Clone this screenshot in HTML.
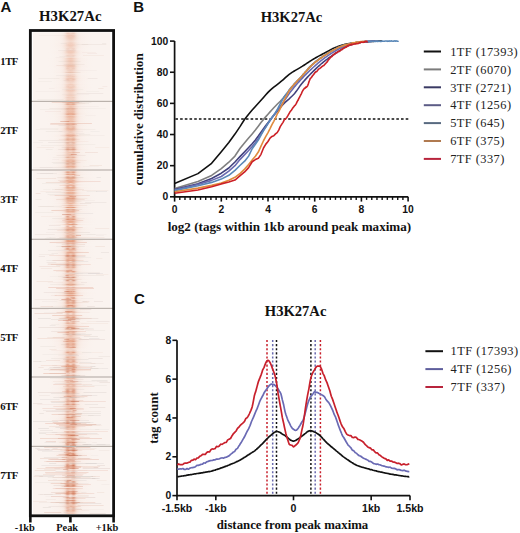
<!DOCTYPE html>
<html><head><meta charset="utf-8"><style>
html,body{margin:0;padding:0;background:#fff;}
body{width:520px;height:533px;position:relative;overflow:hidden;font-family:"Liberation Sans",sans-serif;}
</style></head><body>
<svg width="520" height="533" viewBox="0 0 520 533" style="position:absolute;left:0;top:0"><text x="0.5" y="11.6" font-family='"Liberation Sans", sans-serif' font-size="15" font-weight="bold" text-anchor="start" fill="#111" >A</text><text x="39" y="21.2" font-family='"Liberation Serif", serif' font-size="14.8" font-weight="bold" text-anchor="start" fill="#111" >H3K27Ac</text><defs><linearGradient id="soft" x1="0" x2="1" y1="0" y2="0"><stop offset="0.000" stop-color="#d96430" stop-opacity="0.000"/><stop offset="0.010" stop-color="#d96430" stop-opacity="0.000"/><stop offset="0.020" stop-color="#d96430" stop-opacity="0.000"/><stop offset="0.030" stop-color="#d96430" stop-opacity="0.000"/><stop offset="0.040" stop-color="#d96430" stop-opacity="0.000"/><stop offset="0.050" stop-color="#d96430" stop-opacity="0.000"/><stop offset="0.060" stop-color="#d96430" stop-opacity="0.000"/><stop offset="0.070" stop-color="#d96430" stop-opacity="0.000"/><stop offset="0.080" stop-color="#d96430" stop-opacity="0.001"/><stop offset="0.090" stop-color="#d96430" stop-opacity="0.001"/><stop offset="0.100" stop-color="#d96430" stop-opacity="0.001"/><stop offset="0.110" stop-color="#d96430" stop-opacity="0.001"/><stop offset="0.120" stop-color="#d96430" stop-opacity="0.002"/><stop offset="0.130" stop-color="#d96430" stop-opacity="0.002"/><stop offset="0.140" stop-color="#d96430" stop-opacity="0.003"/><stop offset="0.150" stop-color="#d96430" stop-opacity="0.004"/><stop offset="0.160" stop-color="#d96430" stop-opacity="0.004"/><stop offset="0.170" stop-color="#d96430" stop-opacity="0.005"/><stop offset="0.180" stop-color="#d96430" stop-opacity="0.007"/><stop offset="0.190" stop-color="#d96430" stop-opacity="0.008"/><stop offset="0.200" stop-color="#d96430" stop-opacity="0.010"/><stop offset="0.210" stop-color="#d96430" stop-opacity="0.012"/><stop offset="0.220" stop-color="#d96430" stop-opacity="0.014"/><stop offset="0.230" stop-color="#d96430" stop-opacity="0.017"/><stop offset="0.240" stop-color="#d96430" stop-opacity="0.020"/><stop offset="0.250" stop-color="#d96430" stop-opacity="0.024"/><stop offset="0.260" stop-color="#d96430" stop-opacity="0.028"/><stop offset="0.270" stop-color="#d96430" stop-opacity="0.032"/><stop offset="0.280" stop-color="#d96430" stop-opacity="0.037"/><stop offset="0.290" stop-color="#d96430" stop-opacity="0.042"/><stop offset="0.300" stop-color="#d96430" stop-opacity="0.049"/><stop offset="0.310" stop-color="#d96430" stop-opacity="0.056"/><stop offset="0.320" stop-color="#d96430" stop-opacity="0.064"/><stop offset="0.330" stop-color="#d96430" stop-opacity="0.074"/><stop offset="0.340" stop-color="#d96430" stop-opacity="0.087"/><stop offset="0.350" stop-color="#d96430" stop-opacity="0.104"/><stop offset="0.360" stop-color="#d96430" stop-opacity="0.126"/><stop offset="0.370" stop-color="#d96430" stop-opacity="0.157"/><stop offset="0.380" stop-color="#d96430" stop-opacity="0.197"/><stop offset="0.390" stop-color="#d96430" stop-opacity="0.250"/><stop offset="0.400" stop-color="#d96430" stop-opacity="0.317"/><stop offset="0.410" stop-color="#d96430" stop-opacity="0.398"/><stop offset="0.420" stop-color="#d96430" stop-opacity="0.492"/><stop offset="0.430" stop-color="#d96430" stop-opacity="0.596"/><stop offset="0.440" stop-color="#d96430" stop-opacity="0.702"/><stop offset="0.450" stop-color="#d96430" stop-opacity="0.804"/><stop offset="0.460" stop-color="#d96430" stop-opacity="0.892"/><stop offset="0.470" stop-color="#d96430" stop-opacity="0.958"/><stop offset="0.480" stop-color="#d96430" stop-opacity="0.994"/><stop offset="0.490" stop-color="#d96430" stop-opacity="0.997"/><stop offset="0.500" stop-color="#d96430" stop-opacity="0.966"/><stop offset="0.510" stop-color="#d96430" stop-opacity="0.904"/><stop offset="0.520" stop-color="#d96430" stop-opacity="0.819"/><stop offset="0.530" stop-color="#d96430" stop-opacity="0.719"/><stop offset="0.540" stop-color="#d96430" stop-opacity="0.613"/><stop offset="0.550" stop-color="#d96430" stop-opacity="0.508"/><stop offset="0.560" stop-color="#d96430" stop-opacity="0.412"/><stop offset="0.570" stop-color="#d96430" stop-opacity="0.329"/><stop offset="0.580" stop-color="#d96430" stop-opacity="0.260"/><stop offset="0.590" stop-color="#d96430" stop-opacity="0.205"/><stop offset="0.600" stop-color="#d96430" stop-opacity="0.162"/><stop offset="0.610" stop-color="#d96430" stop-opacity="0.131"/><stop offset="0.620" stop-color="#d96430" stop-opacity="0.107"/><stop offset="0.630" stop-color="#d96430" stop-opacity="0.089"/><stop offset="0.640" stop-color="#d96430" stop-opacity="0.076"/><stop offset="0.650" stop-color="#d96430" stop-opacity="0.065"/><stop offset="0.660" stop-color="#d96430" stop-opacity="0.057"/><stop offset="0.670" stop-color="#d96430" stop-opacity="0.050"/><stop offset="0.680" stop-color="#d96430" stop-opacity="0.043"/><stop offset="0.690" stop-color="#d96430" stop-opacity="0.038"/><stop offset="0.700" stop-color="#d96430" stop-opacity="0.033"/><stop offset="0.710" stop-color="#d96430" stop-opacity="0.028"/><stop offset="0.720" stop-color="#d96430" stop-opacity="0.024"/><stop offset="0.730" stop-color="#d96430" stop-opacity="0.021"/><stop offset="0.740" stop-color="#d96430" stop-opacity="0.018"/><stop offset="0.750" stop-color="#d96430" stop-opacity="0.015"/><stop offset="0.760" stop-color="#d96430" stop-opacity="0.012"/><stop offset="0.770" stop-color="#d96430" stop-opacity="0.010"/><stop offset="0.780" stop-color="#d96430" stop-opacity="0.008"/><stop offset="0.790" stop-color="#d96430" stop-opacity="0.007"/><stop offset="0.800" stop-color="#d96430" stop-opacity="0.006"/><stop offset="0.810" stop-color="#d96430" stop-opacity="0.005"/><stop offset="0.820" stop-color="#d96430" stop-opacity="0.004"/><stop offset="0.830" stop-color="#d96430" stop-opacity="0.003"/><stop offset="0.840" stop-color="#d96430" stop-opacity="0.002"/><stop offset="0.850" stop-color="#d96430" stop-opacity="0.002"/><stop offset="0.860" stop-color="#d96430" stop-opacity="0.001"/><stop offset="0.870" stop-color="#d96430" stop-opacity="0.001"/><stop offset="0.880" stop-color="#d96430" stop-opacity="0.001"/><stop offset="0.890" stop-color="#d96430" stop-opacity="0.001"/><stop offset="0.900" stop-color="#d96430" stop-opacity="0.001"/><stop offset="0.910" stop-color="#d96430" stop-opacity="0.000"/><stop offset="0.920" stop-color="#d96430" stop-opacity="0.000"/><stop offset="0.930" stop-color="#d96430" stop-opacity="0.000"/><stop offset="0.940" stop-color="#d96430" stop-opacity="0.000"/><stop offset="0.950" stop-color="#d96430" stop-opacity="0.000"/><stop offset="0.960" stop-color="#d96430" stop-opacity="0.000"/><stop offset="0.970" stop-color="#d96430" stop-opacity="0.000"/><stop offset="0.980" stop-color="#d96430" stop-opacity="0.000"/><stop offset="0.990" stop-color="#d96430" stop-opacity="0.000"/><stop offset="1.000" stop-color="#d96430" stop-opacity="0.000"/></linearGradient><linearGradient id="bi" x1="0" x2="1" y1="0" y2="0"><stop offset="0.000" stop-color="#c4552e" stop-opacity="0.000"/><stop offset="0.010" stop-color="#c4552e" stop-opacity="0.000"/><stop offset="0.020" stop-color="#c4552e" stop-opacity="0.000"/><stop offset="0.030" stop-color="#c4552e" stop-opacity="0.000"/><stop offset="0.040" stop-color="#c4552e" stop-opacity="0.000"/><stop offset="0.050" stop-color="#c4552e" stop-opacity="0.000"/><stop offset="0.060" stop-color="#c4552e" stop-opacity="0.000"/><stop offset="0.070" stop-color="#c4552e" stop-opacity="0.000"/><stop offset="0.080" stop-color="#c4552e" stop-opacity="0.000"/><stop offset="0.090" stop-color="#c4552e" stop-opacity="0.000"/><stop offset="0.100" stop-color="#c4552e" stop-opacity="0.000"/><stop offset="0.110" stop-color="#c4552e" stop-opacity="0.000"/><stop offset="0.120" stop-color="#c4552e" stop-opacity="0.000"/><stop offset="0.130" stop-color="#c4552e" stop-opacity="0.000"/><stop offset="0.140" stop-color="#c4552e" stop-opacity="0.000"/><stop offset="0.150" stop-color="#c4552e" stop-opacity="0.000"/><stop offset="0.160" stop-color="#c4552e" stop-opacity="0.000"/><stop offset="0.170" stop-color="#c4552e" stop-opacity="0.000"/><stop offset="0.180" stop-color="#c4552e" stop-opacity="0.000"/><stop offset="0.190" stop-color="#c4552e" stop-opacity="0.000"/><stop offset="0.200" stop-color="#c4552e" stop-opacity="0.000"/><stop offset="0.210" stop-color="#c4552e" stop-opacity="0.000"/><stop offset="0.220" stop-color="#c4552e" stop-opacity="0.000"/><stop offset="0.230" stop-color="#c4552e" stop-opacity="0.000"/><stop offset="0.240" stop-color="#c4552e" stop-opacity="0.000"/><stop offset="0.250" stop-color="#c4552e" stop-opacity="0.000"/><stop offset="0.260" stop-color="#c4552e" stop-opacity="0.000"/><stop offset="0.270" stop-color="#c4552e" stop-opacity="0.000"/><stop offset="0.280" stop-color="#c4552e" stop-opacity="0.000"/><stop offset="0.290" stop-color="#c4552e" stop-opacity="0.000"/><stop offset="0.300" stop-color="#c4552e" stop-opacity="0.000"/><stop offset="0.310" stop-color="#c4552e" stop-opacity="0.000"/><stop offset="0.320" stop-color="#c4552e" stop-opacity="0.000"/><stop offset="0.330" stop-color="#c4552e" stop-opacity="0.000"/><stop offset="0.340" stop-color="#c4552e" stop-opacity="0.000"/><stop offset="0.350" stop-color="#c4552e" stop-opacity="0.000"/><stop offset="0.360" stop-color="#c4552e" stop-opacity="0.000"/><stop offset="0.370" stop-color="#c4552e" stop-opacity="0.000"/><stop offset="0.380" stop-color="#c4552e" stop-opacity="0.001"/><stop offset="0.390" stop-color="#c4552e" stop-opacity="0.007"/><stop offset="0.400" stop-color="#c4552e" stop-opacity="0.034"/><stop offset="0.410" stop-color="#c4552e" stop-opacity="0.123"/><stop offset="0.420" stop-color="#c4552e" stop-opacity="0.327"/><stop offset="0.430" stop-color="#c4552e" stop-opacity="0.642"/><stop offset="0.440" stop-color="#c4552e" stop-opacity="0.927"/><stop offset="0.450" stop-color="#c4552e" stop-opacity="0.987"/><stop offset="0.460" stop-color="#c4552e" stop-opacity="0.773"/><stop offset="0.470" stop-color="#c4552e" stop-opacity="0.446"/><stop offset="0.480" stop-color="#c4552e" stop-opacity="0.190"/><stop offset="0.490" stop-color="#c4552e" stop-opacity="0.161"/><stop offset="0.500" stop-color="#c4552e" stop-opacity="0.398"/><stop offset="0.510" stop-color="#c4552e" stop-opacity="0.724"/><stop offset="0.520" stop-color="#c4552e" stop-opacity="0.969"/><stop offset="0.530" stop-color="#c4552e" stop-opacity="0.956"/><stop offset="0.540" stop-color="#c4552e" stop-opacity="0.694"/><stop offset="0.550" stop-color="#c4552e" stop-opacity="0.372"/><stop offset="0.560" stop-color="#c4552e" stop-opacity="0.146"/><stop offset="0.570" stop-color="#c4552e" stop-opacity="0.043"/><stop offset="0.580" stop-color="#c4552e" stop-opacity="0.009"/><stop offset="0.590" stop-color="#c4552e" stop-opacity="0.001"/><stop offset="0.600" stop-color="#c4552e" stop-opacity="0.000"/><stop offset="0.610" stop-color="#c4552e" stop-opacity="0.000"/><stop offset="0.620" stop-color="#c4552e" stop-opacity="0.000"/><stop offset="0.630" stop-color="#c4552e" stop-opacity="0.000"/><stop offset="0.640" stop-color="#c4552e" stop-opacity="0.000"/><stop offset="0.650" stop-color="#c4552e" stop-opacity="0.000"/><stop offset="0.660" stop-color="#c4552e" stop-opacity="0.000"/><stop offset="0.670" stop-color="#c4552e" stop-opacity="0.000"/><stop offset="0.680" stop-color="#c4552e" stop-opacity="0.000"/><stop offset="0.690" stop-color="#c4552e" stop-opacity="0.000"/><stop offset="0.700" stop-color="#c4552e" stop-opacity="0.000"/><stop offset="0.710" stop-color="#c4552e" stop-opacity="0.000"/><stop offset="0.720" stop-color="#c4552e" stop-opacity="0.000"/><stop offset="0.730" stop-color="#c4552e" stop-opacity="0.000"/><stop offset="0.740" stop-color="#c4552e" stop-opacity="0.000"/><stop offset="0.750" stop-color="#c4552e" stop-opacity="0.000"/><stop offset="0.760" stop-color="#c4552e" stop-opacity="0.000"/><stop offset="0.770" stop-color="#c4552e" stop-opacity="0.000"/><stop offset="0.780" stop-color="#c4552e" stop-opacity="0.000"/><stop offset="0.790" stop-color="#c4552e" stop-opacity="0.000"/><stop offset="0.800" stop-color="#c4552e" stop-opacity="0.000"/><stop offset="0.810" stop-color="#c4552e" stop-opacity="0.000"/><stop offset="0.820" stop-color="#c4552e" stop-opacity="0.000"/><stop offset="0.830" stop-color="#c4552e" stop-opacity="0.000"/><stop offset="0.840" stop-color="#c4552e" stop-opacity="0.000"/><stop offset="0.850" stop-color="#c4552e" stop-opacity="0.000"/><stop offset="0.860" stop-color="#c4552e" stop-opacity="0.000"/><stop offset="0.870" stop-color="#c4552e" stop-opacity="0.000"/><stop offset="0.880" stop-color="#c4552e" stop-opacity="0.000"/><stop offset="0.890" stop-color="#c4552e" stop-opacity="0.000"/><stop offset="0.900" stop-color="#c4552e" stop-opacity="0.000"/><stop offset="0.910" stop-color="#c4552e" stop-opacity="0.000"/><stop offset="0.920" stop-color="#c4552e" stop-opacity="0.000"/><stop offset="0.930" stop-color="#c4552e" stop-opacity="0.000"/><stop offset="0.940" stop-color="#c4552e" stop-opacity="0.000"/><stop offset="0.950" stop-color="#c4552e" stop-opacity="0.000"/><stop offset="0.960" stop-color="#c4552e" stop-opacity="0.000"/><stop offset="0.970" stop-color="#c4552e" stop-opacity="0.000"/><stop offset="0.980" stop-color="#c4552e" stop-opacity="0.000"/><stop offset="0.990" stop-color="#c4552e" stop-opacity="0.000"/><stop offset="1.000" stop-color="#c4552e" stop-opacity="0.000"/></linearGradient><clipPath id="hmclip"><rect x="33.0" y="32.3" width="77.4" height="481.99999999999994"/></clipPath><filter id="hmblur" x="-5%" y="-1%" width="110%" height="102%"><feGaussianBlur stdDeviation="0.55 0.3"/></filter></defs><g clip-path="url(#hmclip)"><g filter="url(#hmblur)"><rect x="30.0" y="29.299999999999997" width="83.4" height="487.99999999999994" fill="#faf3ef"/><rect x="33.0" y="32.30" width="77.40" height="1.00" fill="url(#soft)" opacity="0.26"/><rect x="33.0" y="32.30" width="77.40" height="1.00" fill="url(#bi)" opacity="0.12"/><rect x="33.0" y="33.30" width="77.40" height="1.00" fill="url(#soft)" opacity="0.21"/><rect x="33.0" y="33.30" width="77.40" height="1.00" fill="url(#bi)" opacity="0.10"/><rect x="33.0" y="34.30" width="77.40" height="1.00" fill="url(#soft)" opacity="0.25"/><rect x="33.0" y="35.30" width="77.40" height="1.00" fill="url(#soft)" opacity="0.35"/><rect x="33.0" y="35.30" width="77.40" height="1.00" fill="url(#bi)" opacity="0.05"/><rect x="33.0" y="36.30" width="77.40" height="1.00" fill="url(#soft)" opacity="0.26"/><rect x="33.0" y="36.30" width="77.40" height="1.00" fill="url(#bi)" opacity="0.08"/><rect x="33.0" y="37.30" width="77.40" height="1.00" fill="url(#soft)" opacity="0.32"/><rect x="33.0" y="38.30" width="77.40" height="1.00" fill="url(#soft)" opacity="0.29"/><rect x="33.0" y="39.30" width="77.40" height="1.00" fill="url(#soft)" opacity="0.24"/><rect x="33.0" y="40.30" width="77.40" height="1.00" fill="url(#soft)" opacity="0.19"/><rect x="33.0" y="41.30" width="77.40" height="1.00" fill="url(#soft)" opacity="0.18"/><rect x="33.0" y="42.30" width="77.40" height="1.00" fill="url(#soft)" opacity="0.25"/><rect x="33.0" y="43.30" width="77.40" height="1.00" fill="url(#soft)" opacity="0.26"/><rect x="33.0" y="44.30" width="77.40" height="1.00" fill="url(#soft)" opacity="0.26"/><rect x="33.0" y="44.30" width="77.40" height="1.00" fill="url(#bi)" opacity="0.05"/><rect x="33.0" y="45.30" width="77.40" height="1.00" fill="url(#soft)" opacity="0.30"/><rect x="33.0" y="46.30" width="77.40" height="1.00" fill="url(#soft)" opacity="0.24"/><rect x="33.0" y="47.30" width="77.40" height="1.00" fill="url(#soft)" opacity="0.23"/><rect x="33.0" y="48.30" width="77.40" height="1.00" fill="url(#soft)" opacity="0.19"/><rect x="33.0" y="48.30" width="77.40" height="1.00" fill="url(#bi)" opacity="0.11"/><rect x="33.0" y="49.30" width="77.40" height="1.00" fill="url(#soft)" opacity="0.15"/><rect x="33.0" y="49.30" width="77.40" height="1.00" fill="url(#bi)" opacity="0.09"/><rect x="33.0" y="50.30" width="77.40" height="1.00" fill="url(#soft)" opacity="0.28"/><rect x="33.0" y="51.30" width="77.40" height="1.00" fill="url(#soft)" opacity="0.28"/><rect x="33.0" y="51.30" width="77.40" height="1.00" fill="url(#bi)" opacity="0.07"/><rect x="33.0" y="52.30" width="77.40" height="1.00" fill="url(#soft)" opacity="0.31"/><rect x="33.0" y="53.30" width="77.40" height="1.00" fill="url(#soft)" opacity="0.23"/><rect x="33.0" y="54.30" width="77.40" height="1.00" fill="url(#soft)" opacity="0.21"/><rect x="33.0" y="55.30" width="77.40" height="1.00" fill="url(#soft)" opacity="0.22"/><rect x="33.0" y="55.30" width="77.40" height="1.00" fill="url(#bi)" opacity="0.10"/><rect x="33.0" y="56.30" width="77.40" height="1.00" fill="url(#soft)" opacity="0.17"/><rect x="33.0" y="57.30" width="77.40" height="1.00" fill="url(#soft)" opacity="0.21"/><rect x="33.0" y="58.30" width="77.40" height="1.00" fill="url(#soft)" opacity="0.36"/><rect x="33.0" y="59.30" width="77.40" height="1.00" fill="url(#soft)" opacity="0.25"/><rect x="33.0" y="60.30" width="77.40" height="1.00" fill="url(#soft)" opacity="0.34"/><rect x="33.0" y="61.30" width="77.40" height="1.00" fill="url(#soft)" opacity="0.31"/><rect x="33.0" y="62.30" width="77.40" height="1.00" fill="url(#soft)" opacity="0.25"/><rect x="33.0" y="63.30" width="77.40" height="1.00" fill="url(#soft)" opacity="0.29"/><rect x="33.0" y="64.30" width="77.40" height="1.00" fill="url(#soft)" opacity="0.26"/><rect x="33.0" y="64.30" width="77.40" height="1.00" fill="url(#bi)" opacity="0.06"/><rect x="33.0" y="65.30" width="77.40" height="1.00" fill="url(#soft)" opacity="0.35"/><rect x="33.0" y="66.30" width="77.40" height="1.00" fill="url(#soft)" opacity="0.34"/><rect x="33.0" y="66.30" width="77.40" height="1.00" fill="url(#bi)" opacity="0.10"/><rect x="33.0" y="67.30" width="77.40" height="1.00" fill="url(#soft)" opacity="0.24"/><rect x="33.0" y="67.30" width="77.40" height="1.00" fill="url(#bi)" opacity="0.06"/><rect x="33.0" y="68.30" width="77.40" height="1.00" fill="url(#soft)" opacity="0.24"/><rect x="33.0" y="68.30" width="77.40" height="1.00" fill="url(#bi)" opacity="0.14"/><rect x="33.0" y="69.30" width="77.40" height="1.00" fill="url(#soft)" opacity="0.27"/><rect x="33.0" y="70.30" width="77.40" height="1.00" fill="url(#soft)" opacity="0.25"/><rect x="33.0" y="71.30" width="77.40" height="1.00" fill="url(#soft)" opacity="0.25"/><rect x="33.0" y="72.30" width="77.40" height="1.00" fill="url(#soft)" opacity="0.36"/><rect x="33.0" y="73.30" width="77.40" height="1.00" fill="url(#soft)" opacity="0.08"/><rect x="33.0" y="74.30" width="77.40" height="1.00" fill="url(#soft)" opacity="0.25"/><rect x="33.0" y="74.30" width="77.40" height="1.00" fill="url(#bi)" opacity="0.06"/><rect x="33.0" y="75.30" width="77.40" height="1.00" fill="url(#soft)" opacity="0.25"/><rect x="33.0" y="76.30" width="77.40" height="1.00" fill="url(#soft)" opacity="0.28"/><rect x="33.0" y="76.30" width="77.40" height="1.00" fill="url(#bi)" opacity="0.10"/><rect x="33.0" y="77.30" width="77.40" height="1.00" fill="url(#soft)" opacity="0.24"/><rect x="33.0" y="78.30" width="77.40" height="1.00" fill="url(#soft)" opacity="0.36"/><rect x="33.0" y="78.30" width="77.40" height="1.00" fill="url(#bi)" opacity="0.07"/><rect x="33.0" y="79.30" width="77.40" height="1.00" fill="url(#soft)" opacity="0.21"/><rect x="33.0" y="79.30" width="77.40" height="1.00" fill="url(#bi)" opacity="0.18"/><rect x="33.0" y="80.30" width="77.40" height="1.00" fill="url(#soft)" opacity="0.30"/><rect x="33.0" y="81.30" width="77.40" height="1.00" fill="url(#soft)" opacity="0.20"/><rect x="33.0" y="81.30" width="77.40" height="1.00" fill="url(#bi)" opacity="0.06"/><rect x="33.0" y="82.30" width="77.40" height="1.00" fill="url(#soft)" opacity="0.22"/><rect x="33.0" y="83.30" width="77.40" height="1.00" fill="url(#soft)" opacity="0.20"/><rect x="33.0" y="84.30" width="77.40" height="1.00" fill="url(#soft)" opacity="0.32"/><rect x="33.0" y="85.30" width="77.40" height="1.00" fill="url(#soft)" opacity="0.19"/><rect x="33.0" y="85.30" width="77.40" height="1.00" fill="url(#bi)" opacity="0.08"/><rect x="33.0" y="86.30" width="77.40" height="1.00" fill="url(#soft)" opacity="0.26"/><rect x="33.0" y="86.30" width="77.40" height="1.00" fill="url(#bi)" opacity="0.09"/><rect x="33.0" y="87.30" width="77.40" height="1.00" fill="url(#soft)" opacity="0.32"/><rect x="33.0" y="88.30" width="77.40" height="1.00" fill="url(#soft)" opacity="0.25"/><rect x="33.0" y="89.30" width="77.40" height="1.00" fill="url(#soft)" opacity="0.20"/><rect x="33.0" y="89.30" width="77.40" height="1.00" fill="url(#bi)" opacity="0.08"/><rect x="33.0" y="90.30" width="77.40" height="1.00" fill="url(#soft)" opacity="0.33"/><rect x="33.0" y="90.30" width="77.40" height="1.00" fill="url(#bi)" opacity="0.05"/><rect x="33.0" y="91.30" width="77.40" height="1.00" fill="url(#soft)" opacity="0.25"/><rect x="33.0" y="92.30" width="77.40" height="1.00" fill="url(#soft)" opacity="0.22"/><rect x="33.0" y="93.30" width="77.40" height="1.00" fill="url(#soft)" opacity="0.24"/><rect x="33.0" y="94.30" width="77.40" height="1.00" fill="url(#soft)" opacity="0.24"/><rect x="33.0" y="95.30" width="77.40" height="1.00" fill="url(#soft)" opacity="0.28"/><rect x="33.0" y="95.30" width="77.40" height="1.00" fill="url(#bi)" opacity="0.04"/><rect x="33.0" y="96.30" width="77.40" height="1.00" fill="url(#soft)" opacity="0.20"/><rect x="33.0" y="97.30" width="77.40" height="1.00" fill="url(#soft)" opacity="0.26"/><rect x="33.0" y="97.30" width="77.40" height="1.00" fill="url(#bi)" opacity="0.11"/><rect x="33.0" y="98.30" width="77.40" height="1.00" fill="url(#soft)" opacity="0.22"/><rect x="33.0" y="99.30" width="77.40" height="1.00" fill="url(#soft)" opacity="0.23"/><rect x="33.0" y="99.30" width="77.40" height="1.00" fill="url(#bi)" opacity="0.08"/><rect x="33.0" y="100.30" width="77.40" height="0.86" fill="url(#soft)" opacity="0.21"/><rect x="33.0" y="100.30" width="77.40" height="0.86" fill="url(#bi)" opacity="0.10"/><rect x="82.1" y="52.0" width="13.8" height="1" fill="#c8866e" opacity="0.05"/><rect x="87.3" y="53.0" width="9.8" height="1" fill="#c8866e" opacity="0.07"/><rect x="38.5" y="78.0" width="20.9" height="1" fill="#aca4a0" opacity="0.09"/><rect x="87.7" y="78.0" width="9.8" height="1" fill="#b89c94" opacity="0.12"/><rect x="83.0" y="55.0" width="20.9" height="1" fill="#c8866e" opacity="0.08"/><rect x="102.4" y="86.0" width="4.9" height="1" fill="#c8866e" opacity="0.07"/><rect x="86.4" y="91.0" width="12.8" height="1" fill="#aca4a0" opacity="0.06"/><rect x="65.4" y="72.0" width="15.0" height="1" fill="#b4a49e" opacity="0.11"/><rect x="59.3" y="56.0" width="14.8" height="1" fill="#b4a49e" opacity="0.08"/><rect x="102.1" y="43.0" width="4.1" height="1" fill="#b4a49e" opacity="0.11"/><rect x="67.3" y="70.0" width="29.6" height="1" fill="#b4a49e" opacity="0.05"/><rect x="62.1" y="89.0" width="21.2" height="1" fill="#aca4a0" opacity="0.07"/><rect x="76.8" y="93.0" width="26.4" height="1" fill="#b89c94" opacity="0.12"/><rect x="98.3" y="88.0" width="5.2" height="1" fill="#c8866e" opacity="0.10"/><rect x="61.9" y="94.0" width="27.4" height="1" fill="#b89c94" opacity="0.05"/><rect x="76.5" y="44.0" width="11.8" height="1" fill="#b4a49e" opacity="0.09"/><rect x="38.6" y="35.0" width="27.7" height="1" fill="#b4a49e" opacity="0.06"/><rect x="48.9" y="88.0" width="5.6" height="1" fill="#b89c94" opacity="0.06"/><rect x="81.7" y="44.0" width="24.6" height="1" fill="#b89c94" opacity="0.11"/><rect x="56.4" y="65.0" width="18.8" height="1" fill="#c8866e" opacity="0.10"/><rect x="58.2" y="50.0" width="17.7" height="1" fill="#b89c94" opacity="0.08"/><rect x="35.5" y="91.0" width="24.2" height="1" fill="#b4a49e" opacity="0.05"/><rect x="37.4" y="99.0" width="26.2" height="1" fill="#aca4a0" opacity="0.09"/><rect x="60.6" y="43.0" width="5.9" height="1" fill="#aca4a0" opacity="0.08"/><rect x="55.5" y="57.0" width="9.0" height="1" fill="#b89c94" opacity="0.06"/><rect x="38.1" y="81.0" width="13.9" height="1" fill="#aca4a0" opacity="0.06"/><rect x="63.6" y="64.0" width="20.9" height="1" fill="#b89c94" opacity="0.09"/><rect x="56.2" y="75.0" width="15.2" height="1" fill="#aca4a0" opacity="0.08"/><rect x="58.5" y="61.0" width="22.0" height="1" fill="#aca4a0" opacity="0.07"/><rect x="63.4" y="80.0" width="5.9" height="1" fill="#b89c94" opacity="0.08"/><rect x="33.0" y="101.16" width="77.40" height="1.00" fill="url(#soft)" opacity="0.42"/><rect x="33.0" y="101.16" width="77.40" height="1.00" fill="url(#bi)" opacity="0.06"/><rect x="33.0" y="102.16" width="77.40" height="1.00" fill="url(#soft)" opacity="0.46"/><rect x="33.0" y="103.16" width="77.40" height="1.00" fill="url(#soft)" opacity="0.34"/><rect x="33.0" y="103.16" width="77.40" height="1.00" fill="url(#bi)" opacity="0.21"/><rect x="33.0" y="104.16" width="77.40" height="1.00" fill="url(#soft)" opacity="0.45"/><rect x="33.0" y="104.16" width="77.40" height="1.00" fill="url(#bi)" opacity="0.23"/><rect x="33.0" y="105.16" width="77.40" height="1.00" fill="url(#soft)" opacity="0.26"/><rect x="33.0" y="106.16" width="77.40" height="1.00" fill="url(#soft)" opacity="0.38"/><rect x="33.0" y="107.16" width="77.40" height="1.00" fill="url(#soft)" opacity="0.34"/><rect x="33.0" y="108.16" width="77.40" height="1.00" fill="url(#soft)" opacity="0.43"/><rect x="33.0" y="108.16" width="77.40" height="1.00" fill="url(#bi)" opacity="0.18"/><rect x="33.0" y="109.16" width="77.40" height="1.00" fill="url(#soft)" opacity="0.39"/><rect x="33.0" y="109.16" width="77.40" height="1.00" fill="url(#bi)" opacity="0.10"/><rect x="33.0" y="110.16" width="77.40" height="1.00" fill="url(#soft)" opacity="0.35"/><rect x="33.0" y="110.16" width="77.40" height="1.00" fill="url(#bi)" opacity="0.07"/><rect x="33.0" y="111.16" width="77.40" height="1.00" fill="url(#soft)" opacity="0.38"/><rect x="33.0" y="111.16" width="77.40" height="1.00" fill="url(#bi)" opacity="0.12"/><rect x="33.0" y="112.16" width="77.40" height="1.00" fill="url(#soft)" opacity="0.39"/><rect x="33.0" y="112.16" width="77.40" height="1.00" fill="url(#bi)" opacity="0.06"/><rect x="33.0" y="113.16" width="77.40" height="1.00" fill="url(#soft)" opacity="0.50"/><rect x="33.0" y="113.16" width="77.40" height="1.00" fill="url(#bi)" opacity="0.13"/><rect x="33.0" y="114.16" width="77.40" height="1.00" fill="url(#soft)" opacity="0.46"/><rect x="33.0" y="114.16" width="77.40" height="1.00" fill="url(#bi)" opacity="0.23"/><rect x="33.0" y="115.16" width="77.40" height="1.00" fill="url(#soft)" opacity="0.28"/><rect x="33.0" y="116.16" width="77.40" height="1.00" fill="url(#soft)" opacity="0.45"/><rect x="33.0" y="116.16" width="77.40" height="1.00" fill="url(#bi)" opacity="0.06"/><rect x="33.0" y="117.16" width="77.40" height="1.00" fill="url(#soft)" opacity="0.36"/><rect x="33.0" y="117.16" width="77.40" height="1.00" fill="url(#bi)" opacity="0.07"/><rect x="33.0" y="118.16" width="77.40" height="1.00" fill="url(#soft)" opacity="0.36"/><rect x="33.0" y="119.16" width="77.40" height="1.00" fill="url(#soft)" opacity="0.34"/><rect x="33.0" y="119.16" width="77.40" height="1.00" fill="url(#bi)" opacity="0.05"/><rect x="33.0" y="120.16" width="77.40" height="1.00" fill="url(#soft)" opacity="0.35"/><rect x="33.0" y="121.16" width="77.40" height="1.00" fill="url(#soft)" opacity="0.42"/><rect x="33.0" y="121.16" width="77.40" height="1.00" fill="url(#bi)" opacity="0.13"/><rect x="33.0" y="122.16" width="77.40" height="1.00" fill="url(#soft)" opacity="0.21"/><rect x="33.0" y="123.16" width="77.40" height="1.00" fill="url(#soft)" opacity="0.35"/><rect x="33.0" y="123.16" width="77.40" height="1.00" fill="url(#bi)" opacity="0.16"/><rect x="33.0" y="124.16" width="77.40" height="1.00" fill="url(#soft)" opacity="0.35"/><rect x="33.0" y="124.16" width="77.40" height="1.00" fill="url(#bi)" opacity="0.24"/><rect x="33.0" y="125.16" width="77.40" height="1.00" fill="url(#soft)" opacity="0.35"/><rect x="33.0" y="126.16" width="77.40" height="1.00" fill="url(#soft)" opacity="0.30"/><rect x="33.0" y="126.16" width="77.40" height="1.00" fill="url(#bi)" opacity="0.17"/><rect x="33.0" y="127.16" width="77.40" height="1.00" fill="url(#soft)" opacity="0.30"/><rect x="33.0" y="127.16" width="77.40" height="1.00" fill="url(#bi)" opacity="0.18"/><rect x="33.0" y="128.16" width="77.40" height="1.00" fill="url(#soft)" opacity="0.43"/><rect x="33.0" y="128.16" width="77.40" height="1.00" fill="url(#bi)" opacity="0.16"/><rect x="33.0" y="129.16" width="77.40" height="1.00" fill="url(#soft)" opacity="0.43"/><rect x="33.0" y="129.16" width="77.40" height="1.00" fill="url(#bi)" opacity="0.08"/><rect x="33.0" y="130.16" width="77.40" height="1.00" fill="url(#soft)" opacity="0.35"/><rect x="33.0" y="130.16" width="77.40" height="1.00" fill="url(#bi)" opacity="0.04"/><rect x="33.0" y="131.16" width="77.40" height="1.00" fill="url(#soft)" opacity="0.30"/><rect x="33.0" y="132.16" width="77.40" height="1.00" fill="url(#soft)" opacity="0.31"/><rect x="33.0" y="133.16" width="77.40" height="1.00" fill="url(#soft)" opacity="0.24"/><rect x="33.0" y="133.16" width="77.40" height="1.00" fill="url(#bi)" opacity="0.11"/><rect x="33.0" y="134.16" width="77.40" height="1.00" fill="url(#soft)" opacity="0.39"/><rect x="33.0" y="134.16" width="77.40" height="1.00" fill="url(#bi)" opacity="0.07"/><rect x="33.0" y="135.16" width="77.40" height="1.00" fill="url(#soft)" opacity="0.46"/><rect x="33.0" y="135.16" width="77.40" height="1.00" fill="url(#bi)" opacity="0.19"/><rect x="33.0" y="136.16" width="77.40" height="1.00" fill="url(#soft)" opacity="0.43"/><rect x="33.0" y="137.16" width="77.40" height="1.00" fill="url(#soft)" opacity="0.23"/><rect x="33.0" y="137.16" width="77.40" height="1.00" fill="url(#bi)" opacity="0.16"/><rect x="33.0" y="138.16" width="77.40" height="1.00" fill="url(#soft)" opacity="0.37"/><rect x="33.0" y="138.16" width="77.40" height="1.00" fill="url(#bi)" opacity="0.17"/><rect x="33.0" y="139.16" width="77.40" height="1.00" fill="url(#soft)" opacity="0.38"/><rect x="33.0" y="139.16" width="77.40" height="1.00" fill="url(#bi)" opacity="0.23"/><rect x="33.0" y="140.16" width="77.40" height="1.00" fill="url(#soft)" opacity="0.33"/><rect x="33.0" y="140.16" width="77.40" height="1.00" fill="url(#bi)" opacity="0.17"/><rect x="33.0" y="141.16" width="77.40" height="1.00" fill="url(#soft)" opacity="0.28"/><rect x="33.0" y="142.16" width="77.40" height="1.00" fill="url(#soft)" opacity="0.31"/><rect x="33.0" y="142.16" width="77.40" height="1.00" fill="url(#bi)" opacity="0.25"/><rect x="33.0" y="143.16" width="77.40" height="1.00" fill="url(#soft)" opacity="0.22"/><rect x="33.0" y="143.16" width="77.40" height="1.00" fill="url(#bi)" opacity="0.20"/><rect x="33.0" y="144.16" width="77.40" height="1.00" fill="url(#soft)" opacity="0.30"/><rect x="33.0" y="144.16" width="77.40" height="1.00" fill="url(#bi)" opacity="0.06"/><rect x="33.0" y="145.16" width="77.40" height="1.00" fill="url(#soft)" opacity="0.35"/><rect x="33.0" y="145.16" width="77.40" height="1.00" fill="url(#bi)" opacity="0.12"/><rect x="33.0" y="146.16" width="77.40" height="1.00" fill="url(#soft)" opacity="0.27"/><rect x="33.0" y="146.16" width="77.40" height="1.00" fill="url(#bi)" opacity="0.11"/><rect x="33.0" y="147.16" width="77.40" height="1.00" fill="url(#soft)" opacity="0.39"/><rect x="33.0" y="147.16" width="77.40" height="1.00" fill="url(#bi)" opacity="0.18"/><rect x="33.0" y="148.16" width="77.40" height="1.00" fill="url(#soft)" opacity="0.29"/><rect x="33.0" y="148.16" width="77.40" height="1.00" fill="url(#bi)" opacity="0.26"/><rect x="33.0" y="149.16" width="77.40" height="1.00" fill="url(#soft)" opacity="0.50"/><rect x="33.0" y="149.16" width="77.40" height="1.00" fill="url(#bi)" opacity="0.34"/><rect x="33.0" y="150.16" width="77.40" height="1.00" fill="url(#soft)" opacity="0.24"/><rect x="33.0" y="150.16" width="77.40" height="1.00" fill="url(#bi)" opacity="0.12"/><rect x="33.0" y="151.16" width="77.40" height="1.00" fill="url(#soft)" opacity="0.20"/><rect x="33.0" y="151.16" width="77.40" height="1.00" fill="url(#bi)" opacity="0.14"/><rect x="33.0" y="152.16" width="77.40" height="1.00" fill="url(#soft)" opacity="0.39"/><rect x="33.0" y="153.16" width="77.40" height="1.00" fill="url(#soft)" opacity="0.22"/><rect x="33.0" y="153.16" width="77.40" height="1.00" fill="url(#bi)" opacity="0.12"/><rect x="33.0" y="154.16" width="77.40" height="1.00" fill="url(#soft)" opacity="0.40"/><rect x="33.0" y="155.16" width="77.40" height="1.00" fill="url(#soft)" opacity="0.33"/><rect x="33.0" y="156.16" width="77.40" height="1.00" fill="url(#soft)" opacity="0.29"/><rect x="33.0" y="156.16" width="77.40" height="1.00" fill="url(#bi)" opacity="0.11"/><rect x="33.0" y="157.16" width="77.40" height="1.00" fill="url(#soft)" opacity="0.36"/><rect x="33.0" y="157.16" width="77.40" height="1.00" fill="url(#bi)" opacity="0.26"/><rect x="33.0" y="158.16" width="77.40" height="1.00" fill="url(#soft)" opacity="0.26"/><rect x="33.0" y="159.16" width="77.40" height="1.00" fill="url(#soft)" opacity="0.39"/><rect x="33.0" y="159.16" width="77.40" height="1.00" fill="url(#bi)" opacity="0.04"/><rect x="33.0" y="160.16" width="77.40" height="1.00" fill="url(#soft)" opacity="0.37"/><rect x="33.0" y="160.16" width="77.40" height="1.00" fill="url(#bi)" opacity="0.17"/><rect x="33.0" y="161.16" width="77.40" height="1.00" fill="url(#soft)" opacity="0.40"/><rect x="33.0" y="161.16" width="77.40" height="1.00" fill="url(#bi)" opacity="0.24"/><rect x="33.0" y="162.16" width="77.40" height="1.00" fill="url(#soft)" opacity="0.46"/><rect x="33.0" y="163.16" width="77.40" height="1.00" fill="url(#soft)" opacity="0.34"/><rect x="33.0" y="163.16" width="77.40" height="1.00" fill="url(#bi)" opacity="0.30"/><rect x="33.0" y="164.16" width="77.40" height="1.00" fill="url(#soft)" opacity="0.32"/><rect x="33.0" y="164.16" width="77.40" height="1.00" fill="url(#bi)" opacity="0.20"/><rect x="33.0" y="165.16" width="77.40" height="1.00" fill="url(#soft)" opacity="0.35"/><rect x="33.0" y="165.16" width="77.40" height="1.00" fill="url(#bi)" opacity="0.06"/><rect x="33.0" y="166.16" width="77.40" height="1.00" fill="url(#soft)" opacity="0.48"/><rect x="33.0" y="166.16" width="77.40" height="1.00" fill="url(#bi)" opacity="0.20"/><rect x="33.0" y="167.16" width="77.40" height="1.00" fill="url(#soft)" opacity="0.33"/><rect x="33.0" y="167.16" width="77.40" height="1.00" fill="url(#bi)" opacity="0.19"/><rect x="33.0" y="168.16" width="77.40" height="1.00" fill="url(#soft)" opacity="0.24"/><rect x="33.0" y="169.16" width="77.40" height="0.86" fill="url(#soft)" opacity="0.42"/><rect x="33.0" y="169.16" width="77.40" height="0.86" fill="url(#bi)" opacity="0.10"/><rect x="45.8" y="131.0" width="16.6" height="1" fill="#b4a49e" opacity="0.10"/><rect x="40.1" y="128.0" width="18.2" height="1" fill="#b4a49e" opacity="0.07"/><rect x="78.7" y="108.0" width="27.1" height="1" fill="#aca4a0" opacity="0.06"/><rect x="61.7" y="147.0" width="13.6" height="1" fill="#aca4a0" opacity="0.11"/><rect x="49.5" y="108.0" width="28.6" height="1" fill="#b89c94" opacity="0.10"/><rect x="36.6" y="147.0" width="17.2" height="1" fill="#c8866e" opacity="0.08"/><rect x="41.1" y="145.0" width="23.0" height="1" fill="#b4a49e" opacity="0.08"/><rect x="40.0" y="109.0" width="28.2" height="1" fill="#b4a49e" opacity="0.08"/><rect x="58.9" y="139.0" width="20.8" height="1" fill="#c8866e" opacity="0.08"/><rect x="45.8" y="149.0" width="6.8" height="1" fill="#b4a49e" opacity="0.10"/><rect x="58.5" y="125.0" width="10.9" height="1" fill="#b89c94" opacity="0.12"/><rect x="79.1" y="134.0" width="11.1" height="1" fill="#aca4a0" opacity="0.09"/><rect x="83.0" y="166.0" width="15.7" height="1" fill="#b4a49e" opacity="0.06"/><rect x="52.1" y="159.0" width="6.9" height="1" fill="#b89c94" opacity="0.06"/><rect x="38.6" y="140.0" width="27.7" height="1" fill="#b4a49e" opacity="0.11"/><rect x="95.2" y="147.0" width="14.2" height="1" fill="#c8866e" opacity="0.06"/><rect x="61.7" y="160.0" width="24.8" height="1" fill="#c8866e" opacity="0.06"/><rect x="85.3" y="115.0" width="10.5" height="1" fill="#b4a49e" opacity="0.05"/><rect x="51.7" y="162.0" width="28.7" height="1" fill="#aca4a0" opacity="0.10"/><rect x="66.0" y="144.0" width="29.4" height="1" fill="#b4a49e" opacity="0.08"/><rect x="76.4" y="103.0" width="9.0" height="1" fill="#c8866e" opacity="0.06"/><rect x="60.5" y="135.0" width="17.6" height="1" fill="#c8866e" opacity="0.07"/><rect x="72.0" y="103.0" width="17.0" height="1" fill="#aca4a0" opacity="0.09"/><rect x="39.8" y="167.0" width="27.2" height="1" fill="#b89c94" opacity="0.12"/><rect x="62.0" y="102.0" width="20.1" height="1" fill="#b89c94" opacity="0.09"/><rect x="89.6" y="165.0" width="12.4" height="1" fill="#c8866e" opacity="0.11"/><rect x="73.0" y="106.0" width="25.8" height="1" fill="#b89c94" opacity="0.05"/><rect x="85.0" y="152.0" width="12.9" height="1" fill="#c8866e" opacity="0.13"/><rect x="59.1" y="131.0" width="23.7" height="1" fill="#b89c94" opacity="0.06"/><rect x="69.3" y="129.0" width="26.0" height="1" fill="#b4a49e" opacity="0.08"/><rect x="58.1" y="149.0" width="18.0" height="1" fill="#aca4a0" opacity="0.11"/><rect x="75.5" y="102.0" width="15.9" height="1" fill="#b4a49e" opacity="0.09"/><rect x="53.1" y="163.0" width="22.7" height="1" fill="#aca4a0" opacity="0.08"/><rect x="33.2" y="142.0" width="9.8" height="1" fill="#aca4a0" opacity="0.07"/><rect x="45.0" y="111.0" width="16.0" height="1" fill="#c8866e" opacity="0.07"/><rect x="71.4" y="141.0" width="17.1" height="1" fill="#c8866e" opacity="0.06"/><rect x="90.7" y="131.0" width="8.8" height="1" fill="#aca4a0" opacity="0.08"/><rect x="35.8" y="129.0" width="22.3" height="1" fill="#b4a49e" opacity="0.08"/><rect x="76.9" y="135.0" width="27.6" height="1" fill="#b4a49e" opacity="0.07"/><rect x="76.0" y="133.0" width="8.3" height="1" fill="#b89c94" opacity="0.08"/><rect x="48.2" y="142.0" width="25.0" height="1" fill="#b4a49e" opacity="0.13"/><rect x="56.6" y="155.0" width="29.0" height="1" fill="#b89c94" opacity="0.10"/><rect x="52.7" y="157.0" width="20.4" height="1" fill="#b4a49e" opacity="0.06"/><rect x="33.2" y="167.0" width="19.4" height="1" fill="#b89c94" opacity="0.05"/><rect x="51.7" y="102.0" width="27.6" height="1" fill="#cc6644" opacity="0.15"/><rect x="50.4" y="123.0" width="41.5" height="1" fill="#cc6644" opacity="0.19"/><rect x="50.2" y="124.0" width="26.8" height="1" fill="#cc6644" opacity="0.13"/><rect x="72.5" y="152.0" width="7.4" height="1" fill="#c05838" opacity="0.17"/><rect x="60.3" y="121.0" width="8.9" height="1" fill="#c05838" opacity="0.26"/><rect x="70.9" y="154.0" width="5.8" height="1" fill="#c05838" opacity="0.32"/><rect x="33.0" y="170.01" width="77.40" height="1.00" fill="url(#soft)" opacity="0.16"/><rect x="33.0" y="171.01" width="77.40" height="1.00" fill="url(#soft)" opacity="0.30"/><rect x="33.0" y="171.01" width="77.40" height="1.00" fill="url(#bi)" opacity="0.22"/><rect x="33.0" y="172.01" width="77.40" height="1.00" fill="url(#soft)" opacity="0.39"/><rect x="33.0" y="172.01" width="77.40" height="1.00" fill="url(#bi)" opacity="0.34"/><rect x="33.0" y="173.01" width="77.40" height="1.00" fill="url(#soft)" opacity="0.29"/><rect x="33.0" y="173.01" width="77.40" height="1.00" fill="url(#bi)" opacity="0.13"/><rect x="33.0" y="174.01" width="77.40" height="1.00" fill="url(#soft)" opacity="0.45"/><rect x="33.0" y="174.01" width="77.40" height="1.00" fill="url(#bi)" opacity="0.30"/><rect x="33.0" y="175.01" width="77.40" height="1.00" fill="url(#soft)" opacity="0.25"/><rect x="33.0" y="176.01" width="77.40" height="1.00" fill="url(#soft)" opacity="0.28"/><rect x="33.0" y="176.01" width="77.40" height="1.00" fill="url(#bi)" opacity="0.22"/><rect x="33.0" y="177.01" width="77.40" height="1.00" fill="url(#soft)" opacity="0.46"/><rect x="33.0" y="177.01" width="77.40" height="1.00" fill="url(#bi)" opacity="0.29"/><rect x="33.0" y="178.01" width="77.40" height="1.00" fill="url(#soft)" opacity="0.48"/><rect x="33.0" y="178.01" width="77.40" height="1.00" fill="url(#bi)" opacity="0.14"/><rect x="33.0" y="179.01" width="77.40" height="1.00" fill="url(#soft)" opacity="0.38"/><rect x="33.0" y="180.01" width="77.40" height="1.00" fill="url(#soft)" opacity="0.43"/><rect x="33.0" y="180.01" width="77.40" height="1.00" fill="url(#bi)" opacity="0.17"/><rect x="33.0" y="181.01" width="77.40" height="1.00" fill="url(#soft)" opacity="0.45"/><rect x="33.0" y="182.01" width="77.40" height="1.00" fill="url(#soft)" opacity="0.52"/><rect x="33.0" y="183.01" width="77.40" height="1.00" fill="url(#soft)" opacity="0.17"/><rect x="33.0" y="183.01" width="77.40" height="1.00" fill="url(#bi)" opacity="0.21"/><rect x="33.0" y="184.01" width="77.40" height="1.00" fill="url(#soft)" opacity="0.36"/><rect x="33.0" y="185.01" width="77.40" height="1.00" fill="url(#soft)" opacity="0.34"/><rect x="33.0" y="185.01" width="77.40" height="1.00" fill="url(#bi)" opacity="0.16"/><rect x="33.0" y="186.01" width="77.40" height="1.00" fill="url(#soft)" opacity="0.17"/><rect x="33.0" y="186.01" width="77.40" height="1.00" fill="url(#bi)" opacity="0.31"/><rect x="33.0" y="187.01" width="77.40" height="1.00" fill="url(#soft)" opacity="0.47"/><rect x="33.0" y="187.01" width="77.40" height="1.00" fill="url(#bi)" opacity="0.22"/><rect x="33.0" y="188.01" width="77.40" height="1.00" fill="url(#soft)" opacity="0.40"/><rect x="33.0" y="188.01" width="77.40" height="1.00" fill="url(#bi)" opacity="0.15"/><rect x="33.0" y="189.01" width="77.40" height="1.00" fill="url(#soft)" opacity="0.33"/><rect x="33.0" y="189.01" width="77.40" height="1.00" fill="url(#bi)" opacity="0.04"/><rect x="33.0" y="190.01" width="77.40" height="1.00" fill="url(#soft)" opacity="0.42"/><rect x="33.0" y="190.01" width="77.40" height="1.00" fill="url(#bi)" opacity="0.14"/><rect x="33.0" y="191.01" width="77.40" height="1.00" fill="url(#soft)" opacity="0.29"/><rect x="33.0" y="192.01" width="77.40" height="1.00" fill="url(#soft)" opacity="0.44"/><rect x="33.0" y="192.01" width="77.40" height="1.00" fill="url(#bi)" opacity="0.13"/><rect x="33.0" y="193.01" width="77.40" height="1.00" fill="url(#soft)" opacity="0.44"/><rect x="33.0" y="193.01" width="77.40" height="1.00" fill="url(#bi)" opacity="0.10"/><rect x="33.0" y="194.01" width="77.40" height="1.00" fill="url(#soft)" opacity="0.27"/><rect x="33.0" y="194.01" width="77.40" height="1.00" fill="url(#bi)" opacity="0.07"/><rect x="33.0" y="195.01" width="77.40" height="1.00" fill="url(#soft)" opacity="0.40"/><rect x="33.0" y="196.01" width="77.40" height="1.00" fill="url(#soft)" opacity="0.40"/><rect x="33.0" y="197.01" width="77.40" height="1.00" fill="url(#soft)" opacity="0.39"/><rect x="33.0" y="197.01" width="77.40" height="1.00" fill="url(#bi)" opacity="0.20"/><rect x="33.0" y="198.01" width="77.40" height="1.00" fill="url(#soft)" opacity="0.53"/><rect x="33.0" y="198.01" width="77.40" height="1.00" fill="url(#bi)" opacity="0.24"/><rect x="33.0" y="199.01" width="77.40" height="1.00" fill="url(#soft)" opacity="0.39"/><rect x="33.0" y="199.01" width="77.40" height="1.00" fill="url(#bi)" opacity="0.14"/><rect x="33.0" y="200.01" width="77.40" height="1.00" fill="url(#soft)" opacity="0.44"/><rect x="33.0" y="200.01" width="77.40" height="1.00" fill="url(#bi)" opacity="0.10"/><rect x="33.0" y="201.01" width="77.40" height="1.00" fill="url(#soft)" opacity="0.40"/><rect x="33.0" y="201.01" width="77.40" height="1.00" fill="url(#bi)" opacity="0.09"/><rect x="33.0" y="202.01" width="77.40" height="1.00" fill="url(#soft)" opacity="0.30"/><rect x="33.0" y="202.01" width="77.40" height="1.00" fill="url(#bi)" opacity="0.14"/><rect x="33.0" y="203.01" width="77.40" height="1.00" fill="url(#soft)" opacity="0.44"/><rect x="33.0" y="204.01" width="77.40" height="1.00" fill="url(#soft)" opacity="0.26"/><rect x="33.0" y="205.01" width="77.40" height="1.00" fill="url(#soft)" opacity="0.43"/><rect x="33.0" y="206.01" width="77.40" height="1.00" fill="url(#soft)" opacity="0.28"/><rect x="33.0" y="207.01" width="77.40" height="1.00" fill="url(#soft)" opacity="0.52"/><rect x="33.0" y="207.01" width="77.40" height="1.00" fill="url(#bi)" opacity="0.28"/><rect x="33.0" y="208.01" width="77.40" height="1.00" fill="url(#soft)" opacity="0.22"/><rect x="33.0" y="209.01" width="77.40" height="1.00" fill="url(#soft)" opacity="0.40"/><rect x="33.0" y="209.01" width="77.40" height="1.00" fill="url(#bi)" opacity="0.28"/><rect x="33.0" y="210.01" width="77.40" height="1.00" fill="url(#soft)" opacity="0.21"/><rect x="33.0" y="210.01" width="77.40" height="1.00" fill="url(#bi)" opacity="0.17"/><rect x="33.0" y="211.01" width="77.40" height="1.00" fill="url(#soft)" opacity="0.45"/><rect x="33.0" y="211.01" width="77.40" height="1.00" fill="url(#bi)" opacity="0.18"/><rect x="33.0" y="212.01" width="77.40" height="1.00" fill="url(#soft)" opacity="0.33"/><rect x="33.0" y="212.01" width="77.40" height="1.00" fill="url(#bi)" opacity="0.12"/><rect x="33.0" y="213.01" width="77.40" height="1.00" fill="url(#soft)" opacity="0.22"/><rect x="33.0" y="213.01" width="77.40" height="1.00" fill="url(#bi)" opacity="0.05"/><rect x="33.0" y="214.01" width="77.40" height="1.00" fill="url(#soft)" opacity="0.24"/><rect x="33.0" y="214.01" width="77.40" height="1.00" fill="url(#bi)" opacity="0.21"/><rect x="33.0" y="215.01" width="77.40" height="1.00" fill="url(#soft)" opacity="0.32"/><rect x="33.0" y="215.01" width="77.40" height="1.00" fill="url(#bi)" opacity="0.06"/><rect x="33.0" y="216.01" width="77.40" height="1.00" fill="url(#soft)" opacity="0.17"/><rect x="33.0" y="216.01" width="77.40" height="1.00" fill="url(#bi)" opacity="0.47"/><rect x="33.0" y="217.01" width="77.40" height="1.00" fill="url(#soft)" opacity="0.32"/><rect x="33.0" y="217.01" width="77.40" height="1.00" fill="url(#bi)" opacity="0.24"/><rect x="33.0" y="218.01" width="77.40" height="1.00" fill="url(#soft)" opacity="0.43"/><rect x="33.0" y="218.01" width="77.40" height="1.00" fill="url(#bi)" opacity="0.17"/><rect x="33.0" y="219.01" width="77.40" height="1.00" fill="url(#soft)" opacity="0.49"/><rect x="33.0" y="219.01" width="77.40" height="1.00" fill="url(#bi)" opacity="0.38"/><rect x="33.0" y="220.01" width="77.40" height="1.00" fill="url(#soft)" opacity="0.34"/><rect x="33.0" y="221.01" width="77.40" height="1.00" fill="url(#soft)" opacity="0.51"/><rect x="33.0" y="221.01" width="77.40" height="1.00" fill="url(#bi)" opacity="0.10"/><rect x="33.0" y="222.01" width="77.40" height="1.00" fill="url(#soft)" opacity="0.48"/><rect x="33.0" y="222.01" width="77.40" height="1.00" fill="url(#bi)" opacity="0.05"/><rect x="33.0" y="223.01" width="77.40" height="1.00" fill="url(#soft)" opacity="0.16"/><rect x="33.0" y="223.01" width="77.40" height="1.00" fill="url(#bi)" opacity="0.27"/><rect x="33.0" y="224.01" width="77.40" height="1.00" fill="url(#soft)" opacity="0.57"/><rect x="33.0" y="225.01" width="77.40" height="1.00" fill="url(#soft)" opacity="0.20"/><rect x="33.0" y="225.01" width="77.40" height="1.00" fill="url(#bi)" opacity="0.14"/><rect x="33.0" y="226.01" width="77.40" height="1.00" fill="url(#soft)" opacity="0.08"/><rect x="33.0" y="226.01" width="77.40" height="1.00" fill="url(#bi)" opacity="0.37"/><rect x="33.0" y="227.01" width="77.40" height="1.00" fill="url(#soft)" opacity="0.44"/><rect x="33.0" y="227.01" width="77.40" height="1.00" fill="url(#bi)" opacity="0.07"/><rect x="33.0" y="228.01" width="77.40" height="1.00" fill="url(#soft)" opacity="0.43"/><rect x="33.0" y="228.01" width="77.40" height="1.00" fill="url(#bi)" opacity="0.09"/><rect x="33.0" y="229.01" width="77.40" height="1.00" fill="url(#soft)" opacity="0.50"/><rect x="33.0" y="229.01" width="77.40" height="1.00" fill="url(#bi)" opacity="0.24"/><rect x="33.0" y="230.01" width="77.40" height="1.00" fill="url(#soft)" opacity="0.34"/><rect x="33.0" y="230.01" width="77.40" height="1.00" fill="url(#bi)" opacity="0.27"/><rect x="33.0" y="231.01" width="77.40" height="1.00" fill="url(#soft)" opacity="0.35"/><rect x="33.0" y="231.01" width="77.40" height="1.00" fill="url(#bi)" opacity="0.09"/><rect x="33.0" y="232.01" width="77.40" height="1.00" fill="url(#soft)" opacity="0.37"/><rect x="33.0" y="233.01" width="77.40" height="1.00" fill="url(#soft)" opacity="0.29"/><rect x="33.0" y="233.01" width="77.40" height="1.00" fill="url(#bi)" opacity="0.17"/><rect x="33.0" y="234.01" width="77.40" height="1.00" fill="url(#soft)" opacity="0.36"/><rect x="33.0" y="235.01" width="77.40" height="1.00" fill="url(#soft)" opacity="0.36"/><rect x="33.0" y="235.01" width="77.40" height="1.00" fill="url(#bi)" opacity="0.18"/><rect x="33.0" y="236.01" width="77.40" height="1.00" fill="url(#soft)" opacity="0.34"/><rect x="33.0" y="236.01" width="77.40" height="1.00" fill="url(#bi)" opacity="0.25"/><rect x="33.0" y="237.01" width="77.40" height="1.00" fill="url(#soft)" opacity="0.42"/><rect x="33.0" y="237.01" width="77.40" height="1.00" fill="url(#bi)" opacity="0.16"/><rect x="33.0" y="238.01" width="77.40" height="0.86" fill="url(#soft)" opacity="0.38"/><rect x="75.0" y="237.0" width="29.5" height="1" fill="#c8866e" opacity="0.09"/><rect x="56.2" y="199.0" width="28.4" height="1" fill="#c8866e" opacity="0.15"/><rect x="47.6" y="194.0" width="26.2" height="1" fill="#aca4a0" opacity="0.10"/><rect x="48.9" y="225.0" width="11.7" height="1" fill="#b89c94" opacity="0.13"/><rect x="41.5" y="170.0" width="20.4" height="1" fill="#b89c94" opacity="0.05"/><rect x="70.9" y="170.0" width="29.6" height="1" fill="#aca4a0" opacity="0.09"/><rect x="46.4" y="237.0" width="4.9" height="1" fill="#b4a49e" opacity="0.05"/><rect x="64.2" y="232.0" width="25.7" height="1" fill="#b4a49e" opacity="0.13"/><rect x="86.7" y="191.0" width="10.4" height="1" fill="#aca4a0" opacity="0.09"/><rect x="35.7" y="193.0" width="4.8" height="1" fill="#c8866e" opacity="0.15"/><rect x="46.0" y="232.0" width="25.0" height="1" fill="#b4a49e" opacity="0.06"/><rect x="61.6" y="205.0" width="25.6" height="1" fill="#c8866e" opacity="0.08"/><rect x="36.7" y="173.0" width="16.6" height="1" fill="#b4a49e" opacity="0.13"/><rect x="85.1" y="202.0" width="21.3" height="1" fill="#b4a49e" opacity="0.13"/><rect x="49.7" y="195.0" width="20.4" height="1" fill="#c8866e" opacity="0.06"/><rect x="57.2" y="238.0" width="18.2" height="1" fill="#b4a49e" opacity="0.09"/><rect x="51.9" y="189.0" width="10.6" height="1" fill="#aca4a0" opacity="0.10"/><rect x="68.2" y="179.0" width="5.0" height="1" fill="#b4a49e" opacity="0.07"/><rect x="34.8" y="234.0" width="19.9" height="1" fill="#b89c94" opacity="0.11"/><rect x="79.9" y="203.0" width="11.3" height="1" fill="#b89c94" opacity="0.14"/><rect x="35.4" y="199.0" width="6.0" height="1" fill="#b4a49e" opacity="0.10"/><rect x="42.0" y="183.0" width="27.9" height="1" fill="#b4a49e" opacity="0.09"/><rect x="96.0" y="191.0" width="11.0" height="1" fill="#aca4a0" opacity="0.14"/><rect x="35.1" y="212.0" width="18.4" height="1" fill="#b4a49e" opacity="0.09"/><rect x="49.4" y="237.0" width="6.1" height="1" fill="#b89c94" opacity="0.07"/><rect x="77.5" y="218.0" width="7.0" height="1" fill="#b89c94" opacity="0.06"/><rect x="66.3" y="234.0" width="29.3" height="1" fill="#b4a49e" opacity="0.09"/><rect x="69.9" y="201.0" width="11.5" height="1" fill="#b4a49e" opacity="0.07"/><rect x="96.1" y="235.0" width="7.7" height="1" fill="#b4a49e" opacity="0.07"/><rect x="41.0" y="216.0" width="20.8" height="1" fill="#c8866e" opacity="0.06"/><rect x="40.4" y="191.0" width="20.9" height="1" fill="#c8866e" opacity="0.06"/><rect x="39.8" y="206.0" width="13.9" height="1" fill="#b89c94" opacity="0.09"/><rect x="43.2" y="189.0" width="7.4" height="1" fill="#aca4a0" opacity="0.06"/><rect x="86.9" y="234.0" width="19.7" height="1" fill="#aca4a0" opacity="0.05"/><rect x="44.8" y="238.0" width="29.5" height="1" fill="#b4a49e" opacity="0.09"/><rect x="57.3" y="177.0" width="26.0" height="1" fill="#b4a49e" opacity="0.12"/><rect x="66.0" y="209.0" width="16.1" height="1" fill="#b4a49e" opacity="0.09"/><rect x="73.5" y="227.0" width="9.2" height="1" fill="#c8866e" opacity="0.14"/><rect x="82.0" y="190.0" width="26.3" height="1" fill="#c8866e" opacity="0.08"/><rect x="36.3" y="178.0" width="19.7" height="1" fill="#c8866e" opacity="0.11"/><rect x="96.5" y="177.0" width="4.4" height="1" fill="#aca4a0" opacity="0.13"/><rect x="37.9" y="206.0" width="23.9" height="1" fill="#b4a49e" opacity="0.10"/><rect x="45.7" y="192.0" width="19.4" height="1" fill="#aca4a0" opacity="0.10"/><rect x="73.8" y="213.0" width="19.4" height="1" fill="#aca4a0" opacity="0.13"/><rect x="47.8" y="229.0" width="25.7" height="1" fill="#aca4a0" opacity="0.15"/><rect x="45.8" y="182.0" width="19.7" height="1" fill="#c8866e" opacity="0.15"/><rect x="54.9" y="189.0" width="29.1" height="1" fill="#c8866e" opacity="0.10"/><rect x="59.3" y="237.0" width="17.7" height="1" fill="#b89c94" opacity="0.11"/><rect x="69.1" y="198.0" width="18.3" height="1" fill="#c8866e" opacity="0.08"/><rect x="95.2" y="228.0" width="14.0" height="1" fill="#c8866e" opacity="0.09"/><rect x="40.1" y="173.0" width="16.8" height="1" fill="#b4a49e" opacity="0.12"/><rect x="52.2" y="218.0" width="13.4" height="1" fill="#b4a49e" opacity="0.10"/><rect x="67.1" y="200.0" width="27.6" height="1" fill="#b4a49e" opacity="0.06"/><rect x="58.1" y="180.0" width="9.7" height="1" fill="#c8866e" opacity="0.11"/><rect x="57.1" y="230.0" width="17.3" height="1" fill="#cc6644" opacity="0.08"/><rect x="62.2" y="220.0" width="21.0" height="1" fill="#cc6644" opacity="0.14"/><rect x="54.7" y="195.0" width="35.2" height="1" fill="#cc6644" opacity="0.13"/><rect x="51.4" y="210.0" width="27.8" height="1" fill="#cc6644" opacity="0.21"/><rect x="59.6" y="185.0" width="14.9" height="1" fill="#cc6644" opacity="0.10"/><rect x="59.7" y="181.0" width="40.9" height="1" fill="#cc6644" opacity="0.14"/><rect x="71.7" y="224.0" width="5.7" height="1" fill="#c05838" opacity="0.20"/><rect x="69.5" y="196.0" width="6.6" height="1" fill="#c05838" opacity="0.27"/><rect x="75.9" y="235.0" width="5.1" height="1" fill="#c05838" opacity="0.29"/><rect x="74.0" y="175.0" width="6.1" height="1" fill="#c05838" opacity="0.16"/><rect x="70.1" y="170.0" width="6.4" height="1" fill="#c05838" opacity="0.28"/><rect x="62.1" y="214.0" width="9.2" height="1" fill="#c05838" opacity="0.33"/><rect x="33.0" y="238.87" width="77.40" height="1.00" fill="url(#soft)" opacity="0.39"/><rect x="33.0" y="238.87" width="77.40" height="1.00" fill="url(#bi)" opacity="0.29"/><rect x="33.0" y="239.87" width="77.40" height="1.00" fill="url(#soft)" opacity="0.50"/><rect x="33.0" y="239.87" width="77.40" height="1.00" fill="url(#bi)" opacity="0.26"/><rect x="33.0" y="240.87" width="77.40" height="1.00" fill="url(#soft)" opacity="0.63"/><rect x="33.0" y="240.87" width="77.40" height="1.00" fill="url(#bi)" opacity="0.20"/><rect x="33.0" y="241.87" width="77.40" height="1.00" fill="url(#soft)" opacity="0.19"/><rect x="33.0" y="241.87" width="77.40" height="1.00" fill="url(#bi)" opacity="0.11"/><rect x="33.0" y="242.87" width="77.40" height="1.00" fill="url(#soft)" opacity="0.43"/><rect x="33.0" y="242.87" width="77.40" height="1.00" fill="url(#bi)" opacity="0.20"/><rect x="33.0" y="243.87" width="77.40" height="1.00" fill="url(#soft)" opacity="0.12"/><rect x="33.0" y="243.87" width="77.40" height="1.00" fill="url(#bi)" opacity="0.20"/><rect x="33.0" y="244.87" width="77.40" height="1.00" fill="url(#soft)" opacity="0.25"/><rect x="33.0" y="244.87" width="77.40" height="1.00" fill="url(#bi)" opacity="0.11"/><rect x="33.0" y="245.87" width="77.40" height="1.00" fill="url(#soft)" opacity="0.53"/><rect x="33.0" y="245.87" width="77.40" height="1.00" fill="url(#bi)" opacity="0.11"/><rect x="33.0" y="246.87" width="77.40" height="1.00" fill="url(#soft)" opacity="0.27"/><rect x="33.0" y="246.87" width="77.40" height="1.00" fill="url(#bi)" opacity="0.12"/><rect x="33.0" y="247.87" width="77.40" height="1.00" fill="url(#soft)" opacity="0.27"/><rect x="33.0" y="247.87" width="77.40" height="1.00" fill="url(#bi)" opacity="0.47"/><rect x="33.0" y="248.87" width="77.40" height="1.00" fill="url(#soft)" opacity="0.45"/><rect x="33.0" y="248.87" width="77.40" height="1.00" fill="url(#bi)" opacity="0.29"/><rect x="33.0" y="249.87" width="77.40" height="1.00" fill="url(#soft)" opacity="0.27"/><rect x="33.0" y="250.87" width="77.40" height="1.00" fill="url(#soft)" opacity="0.38"/><rect x="33.0" y="251.87" width="77.40" height="1.00" fill="url(#soft)" opacity="0.47"/><rect x="33.0" y="252.87" width="77.40" height="1.00" fill="url(#soft)" opacity="0.36"/><rect x="33.0" y="252.87" width="77.40" height="1.00" fill="url(#bi)" opacity="0.19"/><rect x="33.0" y="253.87" width="77.40" height="1.00" fill="url(#soft)" opacity="0.26"/><rect x="33.0" y="253.87" width="77.40" height="1.00" fill="url(#bi)" opacity="0.20"/><rect x="33.0" y="254.87" width="77.40" height="1.00" fill="url(#soft)" opacity="0.43"/><rect x="33.0" y="254.87" width="77.40" height="1.00" fill="url(#bi)" opacity="0.44"/><rect x="33.0" y="255.87" width="77.40" height="1.00" fill="url(#soft)" opacity="0.40"/><rect x="33.0" y="255.87" width="77.40" height="1.00" fill="url(#bi)" opacity="0.43"/><rect x="33.0" y="256.87" width="77.40" height="1.00" fill="url(#soft)" opacity="0.41"/><rect x="33.0" y="256.87" width="77.40" height="1.00" fill="url(#bi)" opacity="0.11"/><rect x="33.0" y="257.87" width="77.40" height="1.00" fill="url(#soft)" opacity="0.45"/><rect x="33.0" y="257.87" width="77.40" height="1.00" fill="url(#bi)" opacity="0.06"/><rect x="33.0" y="258.87" width="77.40" height="1.00" fill="url(#soft)" opacity="0.37"/><rect x="33.0" y="258.87" width="77.40" height="1.00" fill="url(#bi)" opacity="0.24"/><rect x="33.0" y="259.87" width="77.40" height="1.00" fill="url(#soft)" opacity="0.49"/><rect x="33.0" y="259.87" width="77.40" height="1.00" fill="url(#bi)" opacity="0.18"/><rect x="33.0" y="260.87" width="77.40" height="1.00" fill="url(#soft)" opacity="0.17"/><rect x="33.0" y="260.87" width="77.40" height="1.00" fill="url(#bi)" opacity="0.35"/><rect x="33.0" y="261.87" width="77.40" height="1.00" fill="url(#soft)" opacity="0.37"/><rect x="33.0" y="261.87" width="77.40" height="1.00" fill="url(#bi)" opacity="0.09"/><rect x="33.0" y="262.87" width="77.40" height="1.00" fill="url(#soft)" opacity="0.25"/><rect x="33.0" y="262.87" width="77.40" height="1.00" fill="url(#bi)" opacity="0.23"/><rect x="33.0" y="263.87" width="77.40" height="1.00" fill="url(#soft)" opacity="0.39"/><rect x="33.0" y="263.87" width="77.40" height="1.00" fill="url(#bi)" opacity="0.25"/><rect x="33.0" y="264.87" width="77.40" height="1.00" fill="url(#soft)" opacity="0.33"/><rect x="33.0" y="264.87" width="77.40" height="1.00" fill="url(#bi)" opacity="0.39"/><rect x="33.0" y="265.87" width="77.40" height="1.00" fill="url(#soft)" opacity="0.32"/><rect x="33.0" y="265.87" width="77.40" height="1.00" fill="url(#bi)" opacity="0.21"/><rect x="33.0" y="266.87" width="77.40" height="1.00" fill="url(#soft)" opacity="0.37"/><rect x="33.0" y="266.87" width="77.40" height="1.00" fill="url(#bi)" opacity="0.31"/><rect x="33.0" y="267.87" width="77.40" height="1.00" fill="url(#soft)" opacity="0.27"/><rect x="33.0" y="267.87" width="77.40" height="1.00" fill="url(#bi)" opacity="0.09"/><rect x="33.0" y="268.87" width="77.40" height="1.00" fill="url(#soft)" opacity="0.32"/><rect x="33.0" y="269.87" width="77.40" height="1.00" fill="url(#soft)" opacity="0.27"/><rect x="33.0" y="270.87" width="77.40" height="1.00" fill="url(#soft)" opacity="0.44"/><rect x="33.0" y="270.87" width="77.40" height="1.00" fill="url(#bi)" opacity="0.38"/><rect x="33.0" y="271.87" width="77.40" height="1.00" fill="url(#soft)" opacity="0.23"/><rect x="33.0" y="271.87" width="77.40" height="1.00" fill="url(#bi)" opacity="0.26"/><rect x="33.0" y="272.87" width="77.40" height="1.00" fill="url(#soft)" opacity="0.21"/><rect x="33.0" y="273.87" width="77.40" height="1.00" fill="url(#soft)" opacity="0.31"/><rect x="33.0" y="273.87" width="77.40" height="1.00" fill="url(#bi)" opacity="0.16"/><rect x="33.0" y="274.87" width="77.40" height="1.00" fill="url(#soft)" opacity="0.40"/><rect x="33.0" y="275.87" width="77.40" height="1.00" fill="url(#soft)" opacity="0.19"/><rect x="33.0" y="275.87" width="77.40" height="1.00" fill="url(#bi)" opacity="0.15"/><rect x="33.0" y="276.87" width="77.40" height="1.00" fill="url(#soft)" opacity="0.32"/><rect x="33.0" y="276.87" width="77.40" height="1.00" fill="url(#bi)" opacity="0.48"/><rect x="33.0" y="277.87" width="77.40" height="1.00" fill="url(#soft)" opacity="0.32"/><rect x="33.0" y="278.87" width="77.40" height="1.00" fill="url(#soft)" opacity="0.49"/><rect x="33.0" y="279.87" width="77.40" height="1.00" fill="url(#soft)" opacity="0.13"/><rect x="33.0" y="279.87" width="77.40" height="1.00" fill="url(#bi)" opacity="0.57"/><rect x="33.0" y="280.87" width="77.40" height="1.00" fill="url(#soft)" opacity="0.28"/><rect x="33.0" y="280.87" width="77.40" height="1.00" fill="url(#bi)" opacity="0.15"/><rect x="33.0" y="281.87" width="77.40" height="1.00" fill="url(#soft)" opacity="0.33"/><rect x="33.0" y="282.87" width="77.40" height="1.00" fill="url(#soft)" opacity="0.33"/><rect x="33.0" y="283.87" width="77.40" height="1.00" fill="url(#soft)" opacity="0.46"/><rect x="33.0" y="283.87" width="77.40" height="1.00" fill="url(#bi)" opacity="0.26"/><rect x="33.0" y="284.87" width="77.40" height="1.00" fill="url(#soft)" opacity="0.43"/><rect x="33.0" y="285.87" width="77.40" height="1.00" fill="url(#soft)" opacity="0.12"/><rect x="33.0" y="285.87" width="77.40" height="1.00" fill="url(#bi)" opacity="0.06"/><rect x="33.0" y="286.87" width="77.40" height="1.00" fill="url(#soft)" opacity="0.22"/><rect x="33.0" y="286.87" width="77.40" height="1.00" fill="url(#bi)" opacity="0.20"/><rect x="33.0" y="287.87" width="77.40" height="1.00" fill="url(#soft)" opacity="0.16"/><rect x="33.0" y="288.87" width="77.40" height="1.00" fill="url(#soft)" opacity="0.37"/><rect x="33.0" y="288.87" width="77.40" height="1.00" fill="url(#bi)" opacity="0.21"/><rect x="33.0" y="289.87" width="77.40" height="1.00" fill="url(#soft)" opacity="0.36"/><rect x="33.0" y="290.87" width="77.40" height="1.00" fill="url(#soft)" opacity="0.27"/><rect x="33.0" y="290.87" width="77.40" height="1.00" fill="url(#bi)" opacity="0.46"/><rect x="33.0" y="291.87" width="77.40" height="1.00" fill="url(#soft)" opacity="0.46"/><rect x="33.0" y="292.87" width="77.40" height="1.00" fill="url(#soft)" opacity="0.58"/><rect x="33.0" y="292.87" width="77.40" height="1.00" fill="url(#bi)" opacity="0.12"/><rect x="33.0" y="293.87" width="77.40" height="1.00" fill="url(#soft)" opacity="0.35"/><rect x="33.0" y="294.87" width="77.40" height="1.00" fill="url(#soft)" opacity="0.53"/><rect x="33.0" y="294.87" width="77.40" height="1.00" fill="url(#bi)" opacity="0.16"/><rect x="33.0" y="295.87" width="77.40" height="1.00" fill="url(#soft)" opacity="0.34"/><rect x="33.0" y="296.87" width="77.40" height="1.00" fill="url(#soft)" opacity="0.20"/><rect x="33.0" y="296.87" width="77.40" height="1.00" fill="url(#bi)" opacity="0.17"/><rect x="33.0" y="297.87" width="77.40" height="1.00" fill="url(#soft)" opacity="0.35"/><rect x="33.0" y="297.87" width="77.40" height="1.00" fill="url(#bi)" opacity="0.39"/><rect x="33.0" y="298.87" width="77.40" height="1.00" fill="url(#soft)" opacity="0.24"/><rect x="33.0" y="298.87" width="77.40" height="1.00" fill="url(#bi)" opacity="0.08"/><rect x="33.0" y="299.87" width="77.40" height="1.00" fill="url(#soft)" opacity="0.47"/><rect x="33.0" y="299.87" width="77.40" height="1.00" fill="url(#bi)" opacity="0.27"/><rect x="33.0" y="300.87" width="77.40" height="1.00" fill="url(#soft)" opacity="0.27"/><rect x="33.0" y="300.87" width="77.40" height="1.00" fill="url(#bi)" opacity="0.37"/><rect x="33.0" y="301.87" width="77.40" height="1.00" fill="url(#soft)" opacity="0.41"/><rect x="33.0" y="301.87" width="77.40" height="1.00" fill="url(#bi)" opacity="0.28"/><rect x="33.0" y="302.87" width="77.40" height="1.00" fill="url(#soft)" opacity="0.39"/><rect x="33.0" y="302.87" width="77.40" height="1.00" fill="url(#bi)" opacity="0.29"/><rect x="33.0" y="303.87" width="77.40" height="1.00" fill="url(#soft)" opacity="0.30"/><rect x="33.0" y="303.87" width="77.40" height="1.00" fill="url(#bi)" opacity="0.10"/><rect x="33.0" y="304.87" width="77.40" height="1.00" fill="url(#soft)" opacity="0.48"/><rect x="33.0" y="304.87" width="77.40" height="1.00" fill="url(#bi)" opacity="0.20"/><rect x="33.0" y="305.87" width="77.40" height="1.00" fill="url(#soft)" opacity="0.39"/><rect x="33.0" y="305.87" width="77.40" height="1.00" fill="url(#bi)" opacity="0.32"/><rect x="33.0" y="306.87" width="77.40" height="0.86" fill="url(#soft)" opacity="0.38"/><rect x="33.0" y="306.87" width="77.40" height="0.86" fill="url(#bi)" opacity="0.20"/><rect x="75.9" y="275.0" width="28.0" height="1" fill="#b4a49e" opacity="0.11"/><rect x="74.7" y="257.0" width="16.5" height="1" fill="#aca4a0" opacity="0.08"/><rect x="56.2" y="246.0" width="28.6" height="1" fill="#aca4a0" opacity="0.10"/><rect x="47.7" y="264.0" width="21.7" height="1" fill="#c8866e" opacity="0.14"/><rect x="50.3" y="284.0" width="10.4" height="1" fill="#aca4a0" opacity="0.09"/><rect x="82.8" y="301.0" width="6.6" height="1" fill="#c8866e" opacity="0.14"/><rect x="40.4" y="306.0" width="12.7" height="1" fill="#c8866e" opacity="0.15"/><rect x="48.1" y="250.0" width="21.3" height="1" fill="#aca4a0" opacity="0.11"/><rect x="59.5" y="300.0" width="15.5" height="1" fill="#b4a49e" opacity="0.12"/><rect x="51.4" y="306.0" width="15.2" height="1" fill="#b4a49e" opacity="0.08"/><rect x="64.3" y="249.0" width="4.8" height="1" fill="#c8866e" opacity="0.05"/><rect x="74.2" y="273.0" width="28.8" height="1" fill="#aca4a0" opacity="0.13"/><rect x="65.2" y="256.0" width="20.3" height="1" fill="#aca4a0" opacity="0.16"/><rect x="100.9" y="252.0" width="8.1" height="1" fill="#b4a49e" opacity="0.14"/><rect x="40.7" y="268.0" width="11.5" height="1" fill="#c8866e" opacity="0.09"/><rect x="38.7" y="256.0" width="6.3" height="1" fill="#b89c94" opacity="0.13"/><rect x="88.9" y="239.0" width="6.2" height="1" fill="#b4a49e" opacity="0.09"/><rect x="57.9" y="276.0" width="21.2" height="1" fill="#b89c94" opacity="0.07"/><rect x="56.1" y="243.0" width="21.7" height="1" fill="#aca4a0" opacity="0.05"/><rect x="96.0" y="274.0" width="12.5" height="1" fill="#c8866e" opacity="0.06"/><rect x="56.3" y="265.0" width="24.9" height="1" fill="#aca4a0" opacity="0.13"/><rect x="47.7" y="282.0" width="15.5" height="1" fill="#c8866e" opacity="0.05"/><rect x="39.0" y="254.0" width="14.8" height="1" fill="#b89c94" opacity="0.09"/><rect x="49.8" y="276.0" width="19.5" height="1" fill="#b89c94" opacity="0.05"/><rect x="63.7" y="279.0" width="9.8" height="1" fill="#b4a49e" opacity="0.11"/><rect x="61.3" y="284.0" width="23.1" height="1" fill="#aca4a0" opacity="0.10"/><rect x="64.1" y="293.0" width="8.6" height="1" fill="#aca4a0" opacity="0.11"/><rect x="69.3" y="302.0" width="19.1" height="1" fill="#c8866e" opacity="0.10"/><rect x="46.5" y="260.0" width="17.6" height="1" fill="#aca4a0" opacity="0.11"/><rect x="62.0" y="247.0" width="17.0" height="1" fill="#b4a49e" opacity="0.08"/><rect x="78.2" y="240.0" width="4.6" height="1" fill="#b4a49e" opacity="0.06"/><rect x="81.7" y="301.0" width="5.2" height="1" fill="#b4a49e" opacity="0.09"/><rect x="75.6" y="272.0" width="24.2" height="1" fill="#b89c94" opacity="0.09"/><rect x="39.4" y="266.0" width="20.9" height="1" fill="#c8866e" opacity="0.13"/><rect x="61.7" y="244.0" width="23.4" height="1" fill="#c8866e" opacity="0.14"/><rect x="81.0" y="282.0" width="6.1" height="1" fill="#b89c94" opacity="0.11"/><rect x="65.0" y="273.0" width="13.4" height="1" fill="#aca4a0" opacity="0.06"/><rect x="62.4" y="277.0" width="14.2" height="1" fill="#b89c94" opacity="0.12"/><rect x="71.7" y="261.0" width="16.5" height="1" fill="#aca4a0" opacity="0.14"/><rect x="51.5" y="253.0" width="6.5" height="1" fill="#b4a49e" opacity="0.11"/><rect x="56.0" y="271.0" width="9.3" height="1" fill="#c8866e" opacity="0.06"/><rect x="62.0" y="307.0" width="5.3" height="1" fill="#aca4a0" opacity="0.09"/><rect x="67.5" y="245.0" width="8.6" height="1" fill="#b4a49e" opacity="0.08"/><rect x="60.8" y="277.0" width="12.8" height="1" fill="#b4a49e" opacity="0.05"/><rect x="47.9" y="263.0" width="22.9" height="1" fill="#c8866e" opacity="0.08"/><rect x="34.7" y="299.0" width="23.9" height="1" fill="#b89c94" opacity="0.10"/><rect x="63.1" y="280.0" width="14.4" height="1" fill="#b4a49e" opacity="0.11"/><rect x="36.6" y="281.0" width="16.3" height="1" fill="#c8866e" opacity="0.11"/><rect x="93.9" y="301.0" width="9.1" height="1" fill="#b89c94" opacity="0.14"/><rect x="87.2" y="306.0" width="7.6" height="1" fill="#b89c94" opacity="0.15"/><rect x="95.3" y="246.0" width="9.6" height="1" fill="#c8866e" opacity="0.11"/><rect x="42.0" y="301.0" width="15.3" height="1" fill="#b4a49e" opacity="0.07"/><rect x="62.4" y="273.0" width="20.3" height="1" fill="#b89c94" opacity="0.05"/><rect x="68.6" y="279.0" width="12.9" height="1" fill="#b89c94" opacity="0.07"/><rect x="96.2" y="258.0" width="6.2" height="1" fill="#c8866e" opacity="0.08"/><rect x="80.8" y="298.0" width="12.7" height="1" fill="#aca4a0" opacity="0.06"/><rect x="43.7" y="292.0" width="25.7" height="1" fill="#b89c94" opacity="0.13"/><rect x="88.0" y="273.0" width="11.8" height="1" fill="#aca4a0" opacity="0.16"/><rect x="50.9" y="295.0" width="5.8" height="1" fill="#c8866e" opacity="0.07"/><rect x="46.6" y="262.0" width="9.6" height="1" fill="#b89c94" opacity="0.12"/><rect x="53.4" y="270.0" width="18.8" height="1" fill="#cc6644" opacity="0.16"/><rect x="54.7" y="295.0" width="28.4" height="1" fill="#cc6644" opacity="0.14"/><rect x="66.6" y="252.0" width="22.2" height="1" fill="#cc6644" opacity="0.19"/><rect x="56.1" y="288.0" width="37.8" height="1" fill="#cc6644" opacity="0.19"/><rect x="49.3" y="255.0" width="36.2" height="1" fill="#cc6644" opacity="0.10"/><rect x="52.5" y="260.0" width="31.0" height="1" fill="#cc6644" opacity="0.11"/><rect x="49.6" y="242.0" width="37.3" height="1" fill="#cc6644" opacity="0.20"/><rect x="63.4" y="277.0" width="10.7" height="1" fill="#cc6644" opacity="0.14"/><rect x="48.3" y="287.0" width="44.9" height="1" fill="#cc6644" opacity="0.19"/><rect x="50.9" y="264.0" width="39.9" height="1" fill="#cc6644" opacity="0.12"/><rect x="70.4" y="297.0" width="4.4" height="1" fill="#c05838" opacity="0.22"/><rect x="71.8" y="239.0" width="6.8" height="1" fill="#c05838" opacity="0.26"/><rect x="65.5" y="275.0" width="3.1" height="1" fill="#c05838" opacity="0.35"/><rect x="61.5" y="246.0" width="9.1" height="1" fill="#c05838" opacity="0.30"/><rect x="67.6" y="305.0" width="5.2" height="1" fill="#c05838" opacity="0.32"/><rect x="61.4" y="299.0" width="9.9" height="1" fill="#c05838" opacity="0.35"/><rect x="68.8" y="250.0" width="7.5" height="1" fill="#c05838" opacity="0.15"/><rect x="66.2" y="270.0" width="6.0" height="1" fill="#c05838" opacity="0.17"/><rect x="64.3" y="291.0" width="7.7" height="1" fill="#c05838" opacity="0.28"/><rect x="33.0" y="307.73" width="77.40" height="1.00" fill="url(#soft)" opacity="0.22"/><rect x="33.0" y="307.73" width="77.40" height="1.00" fill="url(#bi)" opacity="0.29"/><rect x="33.0" y="308.73" width="77.40" height="1.00" fill="url(#soft)" opacity="0.33"/><rect x="33.0" y="308.73" width="77.40" height="1.00" fill="url(#bi)" opacity="0.14"/><rect x="33.0" y="309.73" width="77.40" height="1.00" fill="url(#soft)" opacity="0.27"/><rect x="33.0" y="310.73" width="77.40" height="1.00" fill="url(#soft)" opacity="0.29"/><rect x="33.0" y="310.73" width="77.40" height="1.00" fill="url(#bi)" opacity="0.22"/><rect x="33.0" y="311.73" width="77.40" height="1.00" fill="url(#soft)" opacity="0.51"/><rect x="33.0" y="311.73" width="77.40" height="1.00" fill="url(#bi)" opacity="0.14"/><rect x="33.0" y="312.73" width="77.40" height="1.00" fill="url(#soft)" opacity="0.13"/><rect x="33.0" y="312.73" width="77.40" height="1.00" fill="url(#bi)" opacity="0.18"/><rect x="33.0" y="313.73" width="77.40" height="1.00" fill="url(#soft)" opacity="0.11"/><rect x="33.0" y="313.73" width="77.40" height="1.00" fill="url(#bi)" opacity="0.28"/><rect x="33.0" y="314.73" width="77.40" height="1.00" fill="url(#soft)" opacity="0.32"/><rect x="33.0" y="315.73" width="77.40" height="1.00" fill="url(#soft)" opacity="0.23"/><rect x="33.0" y="315.73" width="77.40" height="1.00" fill="url(#bi)" opacity="0.20"/><rect x="33.0" y="316.73" width="77.40" height="1.00" fill="url(#soft)" opacity="0.48"/><rect x="33.0" y="316.73" width="77.40" height="1.00" fill="url(#bi)" opacity="0.42"/><rect x="33.0" y="317.73" width="77.40" height="1.00" fill="url(#soft)" opacity="0.49"/><rect x="33.0" y="318.73" width="77.40" height="1.00" fill="url(#soft)" opacity="0.36"/><rect x="33.0" y="318.73" width="77.40" height="1.00" fill="url(#bi)" opacity="0.10"/><rect x="33.0" y="319.73" width="77.40" height="1.00" fill="url(#soft)" opacity="0.25"/><rect x="33.0" y="319.73" width="77.40" height="1.00" fill="url(#bi)" opacity="0.10"/><rect x="33.0" y="320.73" width="77.40" height="1.00" fill="url(#soft)" opacity="0.08"/><rect x="33.0" y="320.73" width="77.40" height="1.00" fill="url(#bi)" opacity="0.25"/><rect x="33.0" y="321.73" width="77.40" height="1.00" fill="url(#soft)" opacity="0.23"/><rect x="33.0" y="321.73" width="77.40" height="1.00" fill="url(#bi)" opacity="0.16"/><rect x="33.0" y="322.73" width="77.40" height="1.00" fill="url(#soft)" opacity="0.39"/><rect x="33.0" y="322.73" width="77.40" height="1.00" fill="url(#bi)" opacity="0.32"/><rect x="33.0" y="323.73" width="77.40" height="1.00" fill="url(#soft)" opacity="0.23"/><rect x="33.0" y="324.73" width="77.40" height="1.00" fill="url(#soft)" opacity="0.41"/><rect x="33.0" y="324.73" width="77.40" height="1.00" fill="url(#bi)" opacity="0.09"/><rect x="33.0" y="325.73" width="77.40" height="1.00" fill="url(#soft)" opacity="0.20"/><rect x="33.0" y="326.73" width="77.40" height="1.00" fill="url(#soft)" opacity="0.50"/><rect x="33.0" y="326.73" width="77.40" height="1.00" fill="url(#bi)" opacity="0.18"/><rect x="33.0" y="327.73" width="77.40" height="1.00" fill="url(#soft)" opacity="0.20"/><rect x="33.0" y="327.73" width="77.40" height="1.00" fill="url(#bi)" opacity="0.56"/><rect x="33.0" y="328.73" width="77.40" height="1.00" fill="url(#soft)" opacity="0.44"/><rect x="33.0" y="328.73" width="77.40" height="1.00" fill="url(#bi)" opacity="0.12"/><rect x="33.0" y="329.73" width="77.40" height="1.00" fill="url(#soft)" opacity="0.14"/><rect x="33.0" y="330.73" width="77.40" height="1.00" fill="url(#soft)" opacity="0.50"/><rect x="33.0" y="331.73" width="77.40" height="1.00" fill="url(#soft)" opacity="0.35"/><rect x="33.0" y="331.73" width="77.40" height="1.00" fill="url(#bi)" opacity="0.30"/><rect x="33.0" y="332.73" width="77.40" height="1.00" fill="url(#soft)" opacity="0.38"/><rect x="33.0" y="333.73" width="77.40" height="1.00" fill="url(#soft)" opacity="0.24"/><rect x="33.0" y="333.73" width="77.40" height="1.00" fill="url(#bi)" opacity="0.42"/><rect x="33.0" y="334.73" width="77.40" height="1.00" fill="url(#soft)" opacity="0.25"/><rect x="33.0" y="335.73" width="77.40" height="1.00" fill="url(#soft)" opacity="0.36"/><rect x="33.0" y="336.73" width="77.40" height="1.00" fill="url(#soft)" opacity="0.20"/><rect x="33.0" y="337.73" width="77.40" height="1.00" fill="url(#soft)" opacity="0.31"/><rect x="33.0" y="338.73" width="77.40" height="1.00" fill="url(#soft)" opacity="0.32"/><rect x="33.0" y="338.73" width="77.40" height="1.00" fill="url(#bi)" opacity="0.28"/><rect x="33.0" y="339.73" width="77.40" height="1.00" fill="url(#soft)" opacity="0.52"/><rect x="33.0" y="340.73" width="77.40" height="1.00" fill="url(#soft)" opacity="0.55"/><rect x="33.0" y="340.73" width="77.40" height="1.00" fill="url(#bi)" opacity="0.36"/><rect x="33.0" y="341.73" width="77.40" height="1.00" fill="url(#soft)" opacity="0.38"/><rect x="33.0" y="342.73" width="77.40" height="1.00" fill="url(#soft)" opacity="0.38"/><rect x="33.0" y="342.73" width="77.40" height="1.00" fill="url(#bi)" opacity="0.20"/><rect x="33.0" y="343.73" width="77.40" height="1.00" fill="url(#soft)" opacity="0.41"/><rect x="33.0" y="343.73" width="77.40" height="1.00" fill="url(#bi)" opacity="0.32"/><rect x="33.0" y="344.73" width="77.40" height="1.00" fill="url(#soft)" opacity="0.43"/><rect x="33.0" y="344.73" width="77.40" height="1.00" fill="url(#bi)" opacity="0.14"/><rect x="33.0" y="345.73" width="77.40" height="1.00" fill="url(#soft)" opacity="0.31"/><rect x="33.0" y="345.73" width="77.40" height="1.00" fill="url(#bi)" opacity="0.21"/><rect x="33.0" y="346.73" width="77.40" height="1.00" fill="url(#soft)" opacity="0.39"/><rect x="33.0" y="346.73" width="77.40" height="1.00" fill="url(#bi)" opacity="0.36"/><rect x="33.0" y="347.73" width="77.40" height="1.00" fill="url(#soft)" opacity="0.27"/><rect x="33.0" y="348.73" width="77.40" height="1.00" fill="url(#soft)" opacity="0.27"/><rect x="33.0" y="349.73" width="77.40" height="1.00" fill="url(#soft)" opacity="0.11"/><rect x="33.0" y="349.73" width="77.40" height="1.00" fill="url(#bi)" opacity="0.14"/><rect x="33.0" y="350.73" width="77.40" height="1.00" fill="url(#soft)" opacity="0.30"/><rect x="33.0" y="351.73" width="77.40" height="1.00" fill="url(#soft)" opacity="0.37"/><rect x="33.0" y="351.73" width="77.40" height="1.00" fill="url(#bi)" opacity="0.49"/><rect x="33.0" y="352.73" width="77.40" height="1.00" fill="url(#soft)" opacity="0.37"/><rect x="33.0" y="352.73" width="77.40" height="1.00" fill="url(#bi)" opacity="0.08"/><rect x="33.0" y="353.73" width="77.40" height="1.00" fill="url(#soft)" opacity="0.41"/><rect x="33.0" y="354.73" width="77.40" height="1.00" fill="url(#soft)" opacity="0.19"/><rect x="33.0" y="355.73" width="77.40" height="1.00" fill="url(#soft)" opacity="0.32"/><rect x="33.0" y="356.73" width="77.40" height="1.00" fill="url(#soft)" opacity="0.30"/><rect x="33.0" y="356.73" width="77.40" height="1.00" fill="url(#bi)" opacity="0.38"/><rect x="33.0" y="357.73" width="77.40" height="1.00" fill="url(#soft)" opacity="0.37"/><rect x="33.0" y="358.73" width="77.40" height="1.00" fill="url(#soft)" opacity="0.43"/><rect x="33.0" y="358.73" width="77.40" height="1.00" fill="url(#bi)" opacity="0.14"/><rect x="33.0" y="359.73" width="77.40" height="1.00" fill="url(#soft)" opacity="0.32"/><rect x="33.0" y="359.73" width="77.40" height="1.00" fill="url(#bi)" opacity="0.26"/><rect x="33.0" y="360.73" width="77.40" height="1.00" fill="url(#soft)" opacity="0.33"/><rect x="33.0" y="360.73" width="77.40" height="1.00" fill="url(#bi)" opacity="0.47"/><rect x="33.0" y="361.73" width="77.40" height="1.00" fill="url(#soft)" opacity="0.45"/><rect x="33.0" y="362.73" width="77.40" height="1.00" fill="url(#soft)" opacity="0.26"/><rect x="33.0" y="362.73" width="77.40" height="1.00" fill="url(#bi)" opacity="0.08"/><rect x="33.0" y="363.73" width="77.40" height="1.00" fill="url(#soft)" opacity="0.13"/><rect x="33.0" y="363.73" width="77.40" height="1.00" fill="url(#bi)" opacity="0.46"/><rect x="33.0" y="364.73" width="77.40" height="1.00" fill="url(#soft)" opacity="0.39"/><rect x="33.0" y="364.73" width="77.40" height="1.00" fill="url(#bi)" opacity="0.24"/><rect x="33.0" y="365.73" width="77.40" height="1.00" fill="url(#soft)" opacity="0.75"/><rect x="33.0" y="365.73" width="77.40" height="1.00" fill="url(#bi)" opacity="0.25"/><rect x="33.0" y="366.73" width="77.40" height="1.00" fill="url(#soft)" opacity="0.39"/><rect x="33.0" y="366.73" width="77.40" height="1.00" fill="url(#bi)" opacity="0.15"/><rect x="33.0" y="367.73" width="77.40" height="1.00" fill="url(#soft)" opacity="0.57"/><rect x="33.0" y="367.73" width="77.40" height="1.00" fill="url(#bi)" opacity="0.26"/><rect x="33.0" y="368.73" width="77.40" height="1.00" fill="url(#soft)" opacity="0.15"/><rect x="33.0" y="368.73" width="77.40" height="1.00" fill="url(#bi)" opacity="0.28"/><rect x="33.0" y="369.73" width="77.40" height="1.00" fill="url(#soft)" opacity="0.42"/><rect x="33.0" y="369.73" width="77.40" height="1.00" fill="url(#bi)" opacity="0.13"/><rect x="33.0" y="370.73" width="77.40" height="1.00" fill="url(#soft)" opacity="0.27"/><rect x="33.0" y="370.73" width="77.40" height="1.00" fill="url(#bi)" opacity="0.49"/><rect x="33.0" y="371.73" width="77.40" height="1.00" fill="url(#soft)" opacity="0.19"/><rect x="33.0" y="371.73" width="77.40" height="1.00" fill="url(#bi)" opacity="0.43"/><rect x="33.0" y="372.73" width="77.40" height="1.00" fill="url(#soft)" opacity="0.23"/><rect x="33.0" y="373.73" width="77.40" height="1.00" fill="url(#soft)" opacity="0.08"/><rect x="33.0" y="373.73" width="77.40" height="1.00" fill="url(#bi)" opacity="0.13"/><rect x="33.0" y="374.73" width="77.40" height="1.00" fill="url(#soft)" opacity="0.42"/><rect x="33.0" y="374.73" width="77.40" height="1.00" fill="url(#bi)" opacity="0.24"/><rect x="33.0" y="375.73" width="77.40" height="0.86" fill="url(#soft)" opacity="0.37"/><rect x="33.0" y="375.73" width="77.40" height="0.86" fill="url(#bi)" opacity="0.18"/><rect x="88.4" y="358.0" width="14.3" height="1" fill="#b89c94" opacity="0.15"/><rect x="52.2" y="365.0" width="5.1" height="1" fill="#b4a49e" opacity="0.10"/><rect x="59.6" y="370.0" width="13.1" height="1" fill="#c8866e" opacity="0.05"/><rect x="65.6" y="355.0" width="13.3" height="1" fill="#b4a49e" opacity="0.15"/><rect x="72.4" y="333.0" width="13.2" height="1" fill="#b89c94" opacity="0.08"/><rect x="51.2" y="324.0" width="8.1" height="1" fill="#b4a49e" opacity="0.07"/><rect x="61.4" y="375.0" width="23.7" height="1" fill="#b4a49e" opacity="0.16"/><rect x="90.2" y="368.0" width="8.3" height="1" fill="#b4a49e" opacity="0.16"/><rect x="46.0" y="360.0" width="14.2" height="1" fill="#c8866e" opacity="0.13"/><rect x="53.3" y="367.0" width="21.2" height="1" fill="#aca4a0" opacity="0.15"/><rect x="66.0" y="328.0" width="27.5" height="1" fill="#b4a49e" opacity="0.10"/><rect x="37.9" y="318.0" width="12.9" height="1" fill="#aca4a0" opacity="0.18"/><rect x="47.9" y="368.0" width="23.7" height="1" fill="#b4a49e" opacity="0.08"/><rect x="81.9" y="352.0" width="9.6" height="1" fill="#aca4a0" opacity="0.12"/><rect x="49.4" y="367.0" width="10.9" height="1" fill="#b89c94" opacity="0.17"/><rect x="73.3" y="375.0" width="6.9" height="1" fill="#b4a49e" opacity="0.17"/><rect x="90.5" y="366.0" width="4.8" height="1" fill="#aca4a0" opacity="0.13"/><rect x="80.7" y="329.0" width="13.3" height="1" fill="#c8866e" opacity="0.07"/><rect x="79.1" y="363.0" width="16.3" height="1" fill="#c8866e" opacity="0.10"/><rect x="72.0" y="318.0" width="26.3" height="1" fill="#b89c94" opacity="0.15"/><rect x="96.4" y="321.0" width="13.2" height="1" fill="#b89c94" opacity="0.14"/><rect x="40.2" y="346.0" width="15.3" height="1" fill="#b4a49e" opacity="0.10"/><rect x="90.6" y="363.0" width="13.2" height="1" fill="#b89c94" opacity="0.10"/><rect x="79.6" y="339.0" width="9.1" height="1" fill="#b89c94" opacity="0.11"/><rect x="49.8" y="325.0" width="5.8" height="1" fill="#aca4a0" opacity="0.12"/><rect x="63.1" y="359.0" width="25.5" height="1" fill="#aca4a0" opacity="0.13"/><rect x="38.4" y="367.0" width="5.3" height="1" fill="#c8866e" opacity="0.12"/><rect x="86.6" y="321.0" width="9.9" height="1" fill="#c8866e" opacity="0.08"/><rect x="61.1" y="344.0" width="6.2" height="1" fill="#b89c94" opacity="0.12"/><rect x="43.8" y="369.0" width="25.3" height="1" fill="#b4a49e" opacity="0.15"/><rect x="39.2" y="361.0" width="6.8" height="1" fill="#aca4a0" opacity="0.06"/><rect x="42.4" y="354.0" width="26.0" height="1" fill="#aca4a0" opacity="0.07"/><rect x="73.1" y="312.0" width="16.6" height="1" fill="#c8866e" opacity="0.07"/><rect x="91.7" y="352.0" width="11.2" height="1" fill="#c8866e" opacity="0.06"/><rect x="51.4" y="350.0" width="25.4" height="1" fill="#c8866e" opacity="0.06"/><rect x="58.7" y="318.0" width="20.1" height="1" fill="#c8866e" opacity="0.15"/><rect x="75.8" y="368.0" width="26.3" height="1" fill="#aca4a0" opacity="0.12"/><rect x="58.1" y="355.0" width="18.5" height="1" fill="#b89c94" opacity="0.05"/><rect x="47.3" y="337.0" width="17.1" height="1" fill="#c8866e" opacity="0.10"/><rect x="81.2" y="323.0" width="27.0" height="1" fill="#c8866e" opacity="0.08"/><rect x="78.5" y="339.0" width="26.5" height="1" fill="#b89c94" opacity="0.18"/><rect x="49.5" y="349.0" width="7.0" height="1" fill="#c8866e" opacity="0.10"/><rect x="34.5" y="313.0" width="28.1" height="1" fill="#c8866e" opacity="0.18"/><rect x="85.3" y="330.0" width="19.8" height="1" fill="#b4a49e" opacity="0.09"/><rect x="38.6" y="327.0" width="25.7" height="1" fill="#b89c94" opacity="0.16"/><rect x="35.3" y="309.0" width="13.3" height="1" fill="#b89c94" opacity="0.07"/><rect x="79.9" y="309.0" width="11.3" height="1" fill="#b89c94" opacity="0.18"/><rect x="70.2" y="366.0" width="25.4" height="1" fill="#aca4a0" opacity="0.10"/><rect x="51.1" y="331.0" width="25.9" height="1" fill="#b89c94" opacity="0.13"/><rect x="64.9" y="329.0" width="19.1" height="1" fill="#c8866e" opacity="0.13"/><rect x="74.7" y="334.0" width="6.1" height="1" fill="#b89c94" opacity="0.11"/><rect x="62.7" y="334.0" width="29.0" height="1" fill="#aca4a0" opacity="0.17"/><rect x="68.4" y="354.0" width="9.1" height="1" fill="#b4a49e" opacity="0.13"/><rect x="49.5" y="373.0" width="20.5" height="1" fill="#c8866e" opacity="0.14"/><rect x="69.8" y="318.0" width="21.8" height="1" fill="#c8866e" opacity="0.12"/><rect x="50.9" y="319.0" width="29.4" height="1" fill="#b4a49e" opacity="0.14"/><rect x="51.1" y="358.0" width="17.3" height="1" fill="#b4a49e" opacity="0.10"/><rect x="79.6" y="362.0" width="11.9" height="1" fill="#aca4a0" opacity="0.13"/><rect x="102.0" y="368.0" width="6.1" height="1" fill="#aca4a0" opacity="0.13"/><rect x="98.6" y="356.0" width="11.7" height="1" fill="#b4a49e" opacity="0.11"/><rect x="59.8" y="318.0" width="6.8" height="1" fill="#b4a49e" opacity="0.11"/><rect x="64.7" y="328.0" width="23.2" height="1" fill="#aca4a0" opacity="0.09"/><rect x="43.9" y="312.0" width="19.4" height="1" fill="#b4a49e" opacity="0.06"/><rect x="83.9" y="336.0" width="14.1" height="1" fill="#b4a49e" opacity="0.16"/><rect x="33.3" y="361.0" width="8.0" height="1" fill="#b4a49e" opacity="0.17"/><rect x="89.0" y="338.0" width="10.4" height="1" fill="#aca4a0" opacity="0.14"/><rect x="52.2" y="315.0" width="30.0" height="1" fill="#cc6644" opacity="0.21"/><rect x="48.9" y="370.0" width="42.1" height="1" fill="#cc6644" opacity="0.08"/><rect x="57.4" y="332.0" width="11.7" height="1" fill="#cc6644" opacity="0.20"/><rect x="67.6" y="326.0" width="21.5" height="1" fill="#cc6644" opacity="0.18"/><rect x="50.3" y="369.0" width="40.8" height="1" fill="#cc6644" opacity="0.21"/><rect x="57.3" y="308.0" width="18.7" height="1" fill="#cc6644" opacity="0.15"/><rect x="67.2" y="335.0" width="23.2" height="1" fill="#cc6644" opacity="0.08"/><rect x="37.5" y="338.0" width="43.9" height="1" fill="#cc6644" opacity="0.11"/><rect x="52.7" y="337.0" width="27.5" height="1" fill="#cc6644" opacity="0.09"/><rect x="73.5" y="367.0" width="18.7" height="1" fill="#cc6644" opacity="0.12"/><rect x="66.2" y="362.0" width="11.6" height="1" fill="#cc6644" opacity="0.11"/><rect x="56.6" y="312.0" width="13.9" height="1" fill="#cc6644" opacity="0.13"/><rect x="40.8" y="365.0" width="39.0" height="1" fill="#cc6644" opacity="0.10"/><rect x="43.3" y="373.0" width="22.6" height="1" fill="#cc6644" opacity="0.21"/><rect x="58.1" y="320.0" width="13.0" height="1" fill="#cc6644" opacity="0.20"/><rect x="72.7" y="331.0" width="13.3" height="1" fill="#cc6644" opacity="0.12"/><rect x="64.2" y="339.0" width="5.0" height="1" fill="#c05838" opacity="0.23"/><rect x="62.9" y="320.0" width="8.7" height="1" fill="#c05838" opacity="0.19"/><rect x="68.0" y="319.0" width="7.4" height="1" fill="#c05838" opacity="0.29"/><rect x="72.6" y="367.0" width="4.4" height="1" fill="#c05838" opacity="0.17"/><rect x="61.2" y="366.0" width="5.8" height="1" fill="#c05838" opacity="0.20"/><rect x="67.2" y="327.0" width="5.2" height="1" fill="#c05838" opacity="0.22"/><rect x="70.9" y="328.0" width="8.5" height="1" fill="#c05838" opacity="0.26"/><rect x="71.7" y="369.0" width="3.7" height="1" fill="#c05838" opacity="0.29"/><rect x="69.4" y="347.0" width="6.4" height="1" fill="#c05838" opacity="0.21"/><rect x="70.1" y="321.0" width="9.4" height="1" fill="#c05838" opacity="0.17"/><rect x="63.1" y="341.0" width="4.3" height="1" fill="#c05838" opacity="0.16"/><rect x="65.1" y="311.0" width="7.3" height="1" fill="#c05838" opacity="0.33"/><rect x="33.0" y="376.59" width="77.40" height="1.00" fill="url(#soft)" opacity="0.22"/><rect x="33.0" y="376.59" width="77.40" height="1.00" fill="url(#bi)" opacity="0.28"/><rect x="33.0" y="377.59" width="77.40" height="1.00" fill="url(#soft)" opacity="0.42"/><rect x="33.0" y="377.59" width="77.40" height="1.00" fill="url(#bi)" opacity="0.26"/><rect x="33.0" y="378.59" width="77.40" height="1.00" fill="url(#soft)" opacity="0.34"/><rect x="33.0" y="379.59" width="77.40" height="1.00" fill="url(#soft)" opacity="0.26"/><rect x="33.0" y="380.59" width="77.40" height="1.00" fill="url(#soft)" opacity="0.26"/><rect x="33.0" y="380.59" width="77.40" height="1.00" fill="url(#bi)" opacity="0.09"/><rect x="33.0" y="381.59" width="77.40" height="1.00" fill="url(#soft)" opacity="0.39"/><rect x="33.0" y="381.59" width="77.40" height="1.00" fill="url(#bi)" opacity="0.25"/><rect x="33.0" y="382.59" width="77.40" height="1.00" fill="url(#soft)" opacity="0.25"/><rect x="33.0" y="383.59" width="77.40" height="1.00" fill="url(#soft)" opacity="0.42"/><rect x="33.0" y="384.59" width="77.40" height="1.00" fill="url(#soft)" opacity="0.23"/><rect x="33.0" y="384.59" width="77.40" height="1.00" fill="url(#bi)" opacity="0.28"/><rect x="33.0" y="385.59" width="77.40" height="1.00" fill="url(#soft)" opacity="0.28"/><rect x="33.0" y="385.59" width="77.40" height="1.00" fill="url(#bi)" opacity="0.20"/><rect x="33.0" y="386.59" width="77.40" height="1.00" fill="url(#soft)" opacity="0.30"/><rect x="33.0" y="387.59" width="77.40" height="1.00" fill="url(#soft)" opacity="0.38"/><rect x="33.0" y="387.59" width="77.40" height="1.00" fill="url(#bi)" opacity="0.13"/><rect x="33.0" y="388.59" width="77.40" height="1.00" fill="url(#soft)" opacity="0.39"/><rect x="33.0" y="388.59" width="77.40" height="1.00" fill="url(#bi)" opacity="0.20"/><rect x="33.0" y="389.59" width="77.40" height="1.00" fill="url(#soft)" opacity="0.23"/><rect x="33.0" y="389.59" width="77.40" height="1.00" fill="url(#bi)" opacity="0.52"/><rect x="33.0" y="390.59" width="77.40" height="1.00" fill="url(#soft)" opacity="0.30"/><rect x="33.0" y="390.59" width="77.40" height="1.00" fill="url(#bi)" opacity="0.42"/><rect x="33.0" y="391.59" width="77.40" height="1.00" fill="url(#soft)" opacity="0.37"/><rect x="33.0" y="391.59" width="77.40" height="1.00" fill="url(#bi)" opacity="0.37"/><rect x="33.0" y="392.59" width="77.40" height="1.00" fill="url(#soft)" opacity="0.43"/><rect x="33.0" y="392.59" width="77.40" height="1.00" fill="url(#bi)" opacity="0.33"/><rect x="33.0" y="393.59" width="77.40" height="1.00" fill="url(#soft)" opacity="0.16"/><rect x="33.0" y="393.59" width="77.40" height="1.00" fill="url(#bi)" opacity="0.12"/><rect x="33.0" y="394.59" width="77.40" height="1.00" fill="url(#soft)" opacity="0.47"/><rect x="33.0" y="394.59" width="77.40" height="1.00" fill="url(#bi)" opacity="0.14"/><rect x="33.0" y="395.59" width="77.40" height="1.00" fill="url(#soft)" opacity="0.23"/><rect x="33.0" y="395.59" width="77.40" height="1.00" fill="url(#bi)" opacity="0.18"/><rect x="33.0" y="396.59" width="77.40" height="1.00" fill="url(#soft)" opacity="0.42"/><rect x="33.0" y="397.59" width="77.40" height="1.00" fill="url(#soft)" opacity="0.28"/><rect x="33.0" y="397.59" width="77.40" height="1.00" fill="url(#bi)" opacity="0.07"/><rect x="33.0" y="398.59" width="77.40" height="1.00" fill="url(#soft)" opacity="0.19"/><rect x="33.0" y="398.59" width="77.40" height="1.00" fill="url(#bi)" opacity="0.35"/><rect x="33.0" y="399.59" width="77.40" height="1.00" fill="url(#soft)" opacity="0.21"/><rect x="33.0" y="399.59" width="77.40" height="1.00" fill="url(#bi)" opacity="0.19"/><rect x="33.0" y="400.59" width="77.40" height="1.00" fill="url(#soft)" opacity="0.34"/><rect x="33.0" y="400.59" width="77.40" height="1.00" fill="url(#bi)" opacity="0.29"/><rect x="33.0" y="401.59" width="77.40" height="1.00" fill="url(#soft)" opacity="0.35"/><rect x="33.0" y="401.59" width="77.40" height="1.00" fill="url(#bi)" opacity="0.35"/><rect x="33.0" y="402.59" width="77.40" height="1.00" fill="url(#soft)" opacity="0.18"/><rect x="33.0" y="403.59" width="77.40" height="1.00" fill="url(#soft)" opacity="0.40"/><rect x="33.0" y="403.59" width="77.40" height="1.00" fill="url(#bi)" opacity="0.57"/><rect x="33.0" y="404.59" width="77.40" height="1.00" fill="url(#soft)" opacity="0.23"/><rect x="33.0" y="404.59" width="77.40" height="1.00" fill="url(#bi)" opacity="0.18"/><rect x="33.0" y="405.59" width="77.40" height="1.00" fill="url(#soft)" opacity="0.40"/><rect x="33.0" y="406.59" width="77.40" height="1.00" fill="url(#soft)" opacity="0.28"/><rect x="33.0" y="406.59" width="77.40" height="1.00" fill="url(#bi)" opacity="0.07"/><rect x="33.0" y="407.59" width="77.40" height="1.00" fill="url(#soft)" opacity="0.36"/><rect x="33.0" y="407.59" width="77.40" height="1.00" fill="url(#bi)" opacity="0.19"/><rect x="33.0" y="408.59" width="77.40" height="1.00" fill="url(#soft)" opacity="0.51"/><rect x="33.0" y="409.59" width="77.40" height="1.00" fill="url(#soft)" opacity="0.19"/><rect x="33.0" y="410.59" width="77.40" height="1.00" fill="url(#soft)" opacity="0.31"/><rect x="33.0" y="410.59" width="77.40" height="1.00" fill="url(#bi)" opacity="0.15"/><rect x="33.0" y="411.59" width="77.40" height="1.00" fill="url(#soft)" opacity="0.25"/><rect x="33.0" y="411.59" width="77.40" height="1.00" fill="url(#bi)" opacity="0.32"/><rect x="33.0" y="412.59" width="77.40" height="1.00" fill="url(#soft)" opacity="0.15"/><rect x="33.0" y="413.59" width="77.40" height="1.00" fill="url(#soft)" opacity="0.58"/><rect x="33.0" y="413.59" width="77.40" height="1.00" fill="url(#bi)" opacity="0.18"/><rect x="33.0" y="414.59" width="77.40" height="1.00" fill="url(#soft)" opacity="0.15"/><rect x="33.0" y="414.59" width="77.40" height="1.00" fill="url(#bi)" opacity="0.42"/><rect x="33.0" y="415.59" width="77.40" height="1.00" fill="url(#soft)" opacity="0.30"/><rect x="33.0" y="416.59" width="77.40" height="1.00" fill="url(#soft)" opacity="0.33"/><rect x="33.0" y="416.59" width="77.40" height="1.00" fill="url(#bi)" opacity="0.43"/><rect x="33.0" y="417.59" width="77.40" height="1.00" fill="url(#soft)" opacity="0.39"/><rect x="33.0" y="417.59" width="77.40" height="1.00" fill="url(#bi)" opacity="0.16"/><rect x="33.0" y="418.59" width="77.40" height="1.00" fill="url(#soft)" opacity="0.52"/><rect x="33.0" y="419.59" width="77.40" height="1.00" fill="url(#soft)" opacity="0.26"/><rect x="33.0" y="419.59" width="77.40" height="1.00" fill="url(#bi)" opacity="0.29"/><rect x="33.0" y="420.59" width="77.40" height="1.00" fill="url(#soft)" opacity="0.14"/><rect x="33.0" y="420.59" width="77.40" height="1.00" fill="url(#bi)" opacity="0.34"/><rect x="33.0" y="421.59" width="77.40" height="1.00" fill="url(#soft)" opacity="0.34"/><rect x="33.0" y="421.59" width="77.40" height="1.00" fill="url(#bi)" opacity="0.41"/><rect x="33.0" y="422.59" width="77.40" height="1.00" fill="url(#soft)" opacity="0.33"/><rect x="33.0" y="422.59" width="77.40" height="1.00" fill="url(#bi)" opacity="0.65"/><rect x="33.0" y="423.59" width="77.40" height="1.00" fill="url(#soft)" opacity="0.10"/><rect x="33.0" y="423.59" width="77.40" height="1.00" fill="url(#bi)" opacity="0.09"/><rect x="33.0" y="424.59" width="77.40" height="1.00" fill="url(#soft)" opacity="0.21"/><rect x="33.0" y="424.59" width="77.40" height="1.00" fill="url(#bi)" opacity="0.18"/><rect x="33.0" y="425.59" width="77.40" height="1.00" fill="url(#soft)" opacity="0.37"/><rect x="33.0" y="426.59" width="77.40" height="1.00" fill="url(#soft)" opacity="0.42"/><rect x="33.0" y="426.59" width="77.40" height="1.00" fill="url(#bi)" opacity="0.45"/><rect x="33.0" y="427.59" width="77.40" height="1.00" fill="url(#soft)" opacity="0.30"/><rect x="33.0" y="428.59" width="77.40" height="1.00" fill="url(#soft)" opacity="0.37"/><rect x="33.0" y="428.59" width="77.40" height="1.00" fill="url(#bi)" opacity="0.28"/><rect x="33.0" y="429.59" width="77.40" height="1.00" fill="url(#soft)" opacity="0.16"/><rect x="33.0" y="430.59" width="77.40" height="1.00" fill="url(#soft)" opacity="0.21"/><rect x="33.0" y="431.59" width="77.40" height="1.00" fill="url(#soft)" opacity="0.34"/><rect x="33.0" y="431.59" width="77.40" height="1.00" fill="url(#bi)" opacity="0.44"/><rect x="33.0" y="432.59" width="77.40" height="1.00" fill="url(#soft)" opacity="0.33"/><rect x="33.0" y="433.59" width="77.40" height="1.00" fill="url(#soft)" opacity="0.28"/><rect x="33.0" y="433.59" width="77.40" height="1.00" fill="url(#bi)" opacity="0.17"/><rect x="33.0" y="434.59" width="77.40" height="1.00" fill="url(#soft)" opacity="0.54"/><rect x="33.0" y="434.59" width="77.40" height="1.00" fill="url(#bi)" opacity="0.08"/><rect x="33.0" y="435.59" width="77.40" height="1.00" fill="url(#soft)" opacity="0.35"/><rect x="33.0" y="435.59" width="77.40" height="1.00" fill="url(#bi)" opacity="0.11"/><rect x="33.0" y="436.59" width="77.40" height="1.00" fill="url(#soft)" opacity="0.45"/><rect x="33.0" y="437.59" width="77.40" height="1.00" fill="url(#soft)" opacity="0.36"/><rect x="33.0" y="437.59" width="77.40" height="1.00" fill="url(#bi)" opacity="0.10"/><rect x="33.0" y="438.59" width="77.40" height="1.00" fill="url(#soft)" opacity="0.37"/><rect x="33.0" y="439.59" width="77.40" height="1.00" fill="url(#soft)" opacity="0.27"/><rect x="33.0" y="439.59" width="77.40" height="1.00" fill="url(#bi)" opacity="0.44"/><rect x="33.0" y="440.59" width="77.40" height="1.00" fill="url(#soft)" opacity="0.38"/><rect x="33.0" y="441.59" width="77.40" height="1.00" fill="url(#soft)" opacity="0.64"/><rect x="33.0" y="441.59" width="77.40" height="1.00" fill="url(#bi)" opacity="0.29"/><rect x="33.0" y="442.59" width="77.40" height="1.00" fill="url(#soft)" opacity="0.25"/><rect x="33.0" y="442.59" width="77.40" height="1.00" fill="url(#bi)" opacity="0.10"/><rect x="33.0" y="443.59" width="77.40" height="1.00" fill="url(#soft)" opacity="0.16"/><rect x="33.0" y="443.59" width="77.40" height="1.00" fill="url(#bi)" opacity="0.55"/><rect x="33.0" y="444.59" width="77.40" height="0.86" fill="url(#soft)" opacity="0.46"/><rect x="33.0" y="444.59" width="77.40" height="0.86" fill="url(#bi)" opacity="0.52"/><rect x="59.7" y="420.0" width="29.4" height="1" fill="#b4a49e" opacity="0.15"/><rect x="70.1" y="397.0" width="9.4" height="1" fill="#aca4a0" opacity="0.14"/><rect x="51.8" y="420.0" width="24.4" height="1" fill="#c8866e" opacity="0.13"/><rect x="51.3" y="402.0" width="13.4" height="1" fill="#aca4a0" opacity="0.18"/><rect x="55.5" y="427.0" width="14.9" height="1" fill="#b4a49e" opacity="0.18"/><rect x="54.7" y="383.0" width="26.8" height="1" fill="#b4a49e" opacity="0.11"/><rect x="50.7" y="401.0" width="28.0" height="1" fill="#c8866e" opacity="0.16"/><rect x="39.0" y="433.0" width="7.1" height="1" fill="#aca4a0" opacity="0.17"/><rect x="89.3" y="407.0" width="16.0" height="1" fill="#b89c94" opacity="0.16"/><rect x="95.2" y="429.0" width="4.0" height="1" fill="#b4a49e" opacity="0.09"/><rect x="53.3" y="397.0" width="23.5" height="1" fill="#aca4a0" opacity="0.14"/><rect x="84.8" y="404.0" width="13.3" height="1" fill="#b4a49e" opacity="0.14"/><rect x="45.8" y="441.0" width="10.2" height="1" fill="#c8866e" opacity="0.19"/><rect x="82.5" y="385.0" width="24.2" height="1" fill="#b4a49e" opacity="0.09"/><rect x="59.9" y="397.0" width="24.5" height="1" fill="#b89c94" opacity="0.12"/><rect x="62.7" y="405.0" width="13.8" height="1" fill="#b4a49e" opacity="0.08"/><rect x="99.4" y="382.0" width="10.7" height="1" fill="#b89c94" opacity="0.16"/><rect x="60.0" y="428.0" width="7.5" height="1" fill="#b89c94" opacity="0.19"/><rect x="74.9" y="433.0" width="22.5" height="1" fill="#b4a49e" opacity="0.18"/><rect x="40.0" y="399.0" width="19.5" height="1" fill="#aca4a0" opacity="0.14"/><rect x="39.3" y="395.0" width="10.5" height="1" fill="#b89c94" opacity="0.10"/><rect x="55.2" y="409.0" width="18.4" height="1" fill="#b4a49e" opacity="0.13"/><rect x="33.1" y="421.0" width="25.2" height="1" fill="#aca4a0" opacity="0.18"/><rect x="72.0" y="436.0" width="12.2" height="1" fill="#aca4a0" opacity="0.07"/><rect x="81.5" y="395.0" width="10.5" height="1" fill="#c8866e" opacity="0.12"/><rect x="45.9" y="411.0" width="25.2" height="1" fill="#b89c94" opacity="0.17"/><rect x="78.5" y="434.0" width="20.6" height="1" fill="#c8866e" opacity="0.09"/><rect x="39.3" y="413.0" width="4.6" height="1" fill="#b4a49e" opacity="0.16"/><rect x="75.1" y="413.0" width="7.0" height="1" fill="#c8866e" opacity="0.19"/><rect x="58.2" y="414.0" width="16.8" height="1" fill="#aca4a0" opacity="0.14"/><rect x="83.4" y="392.0" width="23.0" height="1" fill="#b4a49e" opacity="0.18"/><rect x="52.8" y="381.0" width="28.8" height="1" fill="#c8866e" opacity="0.08"/><rect x="33.0" y="403.0" width="9.2" height="1" fill="#b89c94" opacity="0.16"/><rect x="40.0" y="430.0" width="12.9" height="1" fill="#b4a49e" opacity="0.13"/><rect x="65.1" y="389.0" width="19.2" height="1" fill="#b4a49e" opacity="0.10"/><rect x="62.7" y="422.0" width="27.6" height="1" fill="#b4a49e" opacity="0.19"/><rect x="62.4" y="442.0" width="23.5" height="1" fill="#aca4a0" opacity="0.12"/><rect x="66.8" y="377.0" width="15.5" height="1" fill="#b89c94" opacity="0.06"/><rect x="96.6" y="444.0" width="13.7" height="1" fill="#aca4a0" opacity="0.16"/><rect x="38.7" y="432.0" width="18.7" height="1" fill="#b4a49e" opacity="0.12"/><rect x="76.6" y="413.0" width="24.3" height="1" fill="#aca4a0" opacity="0.17"/><rect x="85.5" y="425.0" width="16.8" height="1" fill="#c8866e" opacity="0.05"/><rect x="50.9" y="393.0" width="28.5" height="1" fill="#b4a49e" opacity="0.14"/><rect x="69.5" y="424.0" width="7.9" height="1" fill="#c8866e" opacity="0.15"/><rect x="66.4" y="438.0" width="10.9" height="1" fill="#b89c94" opacity="0.19"/><rect x="55.4" y="434.0" width="19.8" height="1" fill="#c8866e" opacity="0.17"/><rect x="74.9" y="425.0" width="25.5" height="1" fill="#c8866e" opacity="0.06"/><rect x="74.6" y="424.0" width="26.5" height="1" fill="#b89c94" opacity="0.14"/><rect x="75.9" y="381.0" width="19.8" height="1" fill="#b89c94" opacity="0.08"/><rect x="64.1" y="431.0" width="16.2" height="1" fill="#c8866e" opacity="0.06"/><rect x="73.8" y="379.0" width="9.6" height="1" fill="#b89c94" opacity="0.11"/><rect x="50.0" y="378.0" width="15.4" height="1" fill="#aca4a0" opacity="0.08"/><rect x="67.7" y="422.0" width="25.8" height="1" fill="#aca4a0" opacity="0.12"/><rect x="51.7" y="432.0" width="26.5" height="1" fill="#b4a49e" opacity="0.11"/><rect x="91.6" y="380.0" width="15.9" height="1" fill="#aca4a0" opacity="0.17"/><rect x="92.3" y="442.0" width="4.6" height="1" fill="#b89c94" opacity="0.08"/><rect x="78.8" y="437.0" width="10.9" height="1" fill="#c8866e" opacity="0.15"/><rect x="68.8" y="444.0" width="19.3" height="1" fill="#c8866e" opacity="0.07"/><rect x="44.5" y="442.0" width="11.4" height="1" fill="#aca4a0" opacity="0.12"/><rect x="43.0" y="410.0" width="27.7" height="1" fill="#b4a49e" opacity="0.12"/><rect x="38.2" y="428.0" width="10.7" height="1" fill="#aca4a0" opacity="0.19"/><rect x="79.3" y="429.0" width="29.6" height="1" fill="#aca4a0" opacity="0.08"/><rect x="82.2" y="384.0" width="9.9" height="1" fill="#c8866e" opacity="0.12"/><rect x="59.1" y="442.0" width="17.1" height="1" fill="#c8866e" opacity="0.06"/><rect x="83.6" y="444.0" width="21.9" height="1" fill="#aca4a0" opacity="0.13"/><rect x="96.5" y="381.0" width="11.3" height="1" fill="#b89c94" opacity="0.12"/><rect x="82.4" y="444.0" width="8.9" height="1" fill="#aca4a0" opacity="0.19"/><rect x="88.1" y="415.0" width="12.7" height="1" fill="#b4a49e" opacity="0.14"/><rect x="82.7" y="411.0" width="18.3" height="1" fill="#b89c94" opacity="0.10"/><rect x="37.3" y="404.0" width="25.1" height="1" fill="#c8866e" opacity="0.07"/><rect x="74.5" y="385.0" width="11.0" height="1" fill="#b4a49e" opacity="0.06"/><rect x="37.9" y="392.0" width="29.7" height="1" fill="#b89c94" opacity="0.17"/><rect x="73.5" y="395.0" width="23.8" height="1" fill="#aca4a0" opacity="0.14"/><rect x="70.4" y="415.0" width="23.2" height="1" fill="#b4a49e" opacity="0.09"/><rect x="42.3" y="408.0" width="41.4" height="1" fill="#cc6644" opacity="0.12"/><rect x="51.6" y="414.0" width="29.9" height="1" fill="#cc6644" opacity="0.17"/><rect x="53.2" y="384.0" width="28.7" height="1" fill="#cc6644" opacity="0.14"/><rect x="56.3" y="424.0" width="40.0" height="1" fill="#cc6644" opacity="0.21"/><rect x="56.2" y="409.0" width="27.7" height="1" fill="#cc6644" opacity="0.09"/><rect x="60.4" y="435.0" width="18.0" height="1" fill="#cc6644" opacity="0.11"/><rect x="67.3" y="396.0" width="20.1" height="1" fill="#cc6644" opacity="0.15"/><rect x="69.3" y="401.0" width="36.5" height="1" fill="#cc6644" opacity="0.13"/><rect x="45.2" y="423.0" width="35.6" height="1" fill="#cc6644" opacity="0.18"/><rect x="62.8" y="404.0" width="16.7" height="1" fill="#cc6644" opacity="0.13"/><rect x="52.7" y="422.0" width="12.4" height="1" fill="#cc6644" opacity="0.19"/><rect x="57.9" y="438.0" width="44.0" height="1" fill="#cc6644" opacity="0.19"/><rect x="63.0" y="386.0" width="31.4" height="1" fill="#cc6644" opacity="0.11"/><rect x="62.1" y="391.0" width="11.0" height="1" fill="#cc6644" opacity="0.16"/><rect x="63.9" y="431.0" width="44.0" height="1" fill="#cc6644" opacity="0.10"/><rect x="45.7" y="434.0" width="41.4" height="1" fill="#cc6644" opacity="0.10"/><rect x="53.3" y="406.0" width="23.0" height="1" fill="#cc6644" opacity="0.12"/><rect x="54.2" y="423.0" width="32.2" height="1" fill="#cc6644" opacity="0.15"/><rect x="58.9" y="425.0" width="33.3" height="1" fill="#cc6644" opacity="0.17"/><rect x="40.0" y="438.0" width="36.5" height="1" fill="#cc6644" opacity="0.17"/><rect x="67.4" y="400.0" width="15.9" height="1" fill="#cc6644" opacity="0.13"/><rect x="49.1" y="426.0" width="36.3" height="1" fill="#cc6644" opacity="0.09"/><rect x="66.6" y="417.0" width="6.1" height="1" fill="#c05838" opacity="0.35"/><rect x="70.0" y="381.0" width="8.3" height="1" fill="#c05838" opacity="0.18"/><rect x="71.4" y="439.0" width="8.3" height="1" fill="#c05838" opacity="0.31"/><rect x="70.8" y="401.0" width="8.4" height="1" fill="#c05838" opacity="0.31"/><rect x="70.4" y="435.0" width="8.0" height="1" fill="#c05838" opacity="0.31"/><rect x="69.8" y="408.0" width="5.9" height="1" fill="#c05838" opacity="0.32"/><rect x="67.1" y="442.0" width="8.2" height="1" fill="#c05838" opacity="0.27"/><rect x="69.9" y="420.0" width="9.5" height="1" fill="#c05838" opacity="0.29"/><rect x="71.9" y="442.0" width="5.4" height="1" fill="#c05838" opacity="0.23"/><rect x="65.3" y="443.0" width="9.2" height="1" fill="#c05838" opacity="0.21"/><rect x="72.7" y="410.0" width="3.8" height="1" fill="#c05838" opacity="0.31"/><rect x="68.0" y="435.0" width="6.8" height="1" fill="#c05838" opacity="0.26"/><rect x="71.4" y="416.0" width="9.4" height="1" fill="#c05838" opacity="0.20"/><rect x="63.7" y="396.0" width="7.6" height="1" fill="#c05838" opacity="0.25"/><rect x="64.5" y="380.0" width="8.6" height="1" fill="#c05838" opacity="0.22"/><rect x="70.5" y="424.0" width="6.2" height="1" fill="#c05838" opacity="0.28"/><rect x="33.0" y="445.44" width="77.40" height="1.00" fill="url(#soft)" opacity="0.20"/><rect x="33.0" y="445.44" width="77.40" height="1.00" fill="url(#bi)" opacity="0.19"/><rect x="33.0" y="446.44" width="77.40" height="1.00" fill="url(#soft)" opacity="0.38"/><rect x="33.0" y="446.44" width="77.40" height="1.00" fill="url(#bi)" opacity="0.12"/><rect x="33.0" y="447.44" width="77.40" height="1.00" fill="url(#soft)" opacity="0.16"/><rect x="33.0" y="447.44" width="77.40" height="1.00" fill="url(#bi)" opacity="0.33"/><rect x="33.0" y="448.44" width="77.40" height="1.00" fill="url(#soft)" opacity="0.31"/><rect x="33.0" y="448.44" width="77.40" height="1.00" fill="url(#bi)" opacity="0.41"/><rect x="33.0" y="449.44" width="77.40" height="1.00" fill="url(#soft)" opacity="0.32"/><rect x="33.0" y="449.44" width="77.40" height="1.00" fill="url(#bi)" opacity="0.32"/><rect x="33.0" y="450.44" width="77.40" height="1.00" fill="url(#soft)" opacity="0.31"/><rect x="33.0" y="450.44" width="77.40" height="1.00" fill="url(#bi)" opacity="0.71"/><rect x="33.0" y="451.44" width="77.40" height="1.00" fill="url(#soft)" opacity="0.13"/><rect x="33.0" y="452.44" width="77.40" height="1.00" fill="url(#soft)" opacity="0.40"/><rect x="33.0" y="452.44" width="77.40" height="1.00" fill="url(#bi)" opacity="0.30"/><rect x="33.0" y="453.44" width="77.40" height="1.00" fill="url(#soft)" opacity="0.45"/><rect x="33.0" y="453.44" width="77.40" height="1.00" fill="url(#bi)" opacity="0.34"/><rect x="33.0" y="454.44" width="77.40" height="1.00" fill="url(#soft)" opacity="0.48"/><rect x="33.0" y="454.44" width="77.40" height="1.00" fill="url(#bi)" opacity="0.67"/><rect x="33.0" y="455.44" width="77.40" height="1.00" fill="url(#soft)" opacity="0.36"/><rect x="33.0" y="456.44" width="77.40" height="1.00" fill="url(#soft)" opacity="0.38"/><rect x="33.0" y="456.44" width="77.40" height="1.00" fill="url(#bi)" opacity="0.09"/><rect x="33.0" y="457.44" width="77.40" height="1.00" fill="url(#soft)" opacity="0.24"/><rect x="33.0" y="457.44" width="77.40" height="1.00" fill="url(#bi)" opacity="0.31"/><rect x="33.0" y="458.44" width="77.40" height="1.00" fill="url(#soft)" opacity="0.35"/><rect x="33.0" y="459.44" width="77.40" height="1.00" fill="url(#soft)" opacity="0.34"/><rect x="33.0" y="460.44" width="77.40" height="1.00" fill="url(#soft)" opacity="0.15"/><rect x="33.0" y="460.44" width="77.40" height="1.00" fill="url(#bi)" opacity="0.16"/><rect x="33.0" y="461.44" width="77.40" height="1.00" fill="url(#soft)" opacity="0.30"/><rect x="33.0" y="461.44" width="77.40" height="1.00" fill="url(#bi)" opacity="0.11"/><rect x="33.0" y="462.44" width="77.40" height="1.00" fill="url(#soft)" opacity="0.24"/><rect x="33.0" y="462.44" width="77.40" height="1.00" fill="url(#bi)" opacity="0.09"/><rect x="33.0" y="463.44" width="77.40" height="1.00" fill="url(#soft)" opacity="0.16"/><rect x="33.0" y="463.44" width="77.40" height="1.00" fill="url(#bi)" opacity="0.40"/><rect x="33.0" y="464.44" width="77.40" height="1.00" fill="url(#soft)" opacity="0.28"/><rect x="33.0" y="464.44" width="77.40" height="1.00" fill="url(#bi)" opacity="0.49"/><rect x="33.0" y="465.44" width="77.40" height="1.00" fill="url(#soft)" opacity="0.13"/><rect x="33.0" y="465.44" width="77.40" height="1.00" fill="url(#bi)" opacity="0.74"/><rect x="33.0" y="466.44" width="77.40" height="1.00" fill="url(#soft)" opacity="0.53"/><rect x="33.0" y="467.44" width="77.40" height="1.00" fill="url(#soft)" opacity="0.27"/><rect x="33.0" y="467.44" width="77.40" height="1.00" fill="url(#bi)" opacity="0.50"/><rect x="33.0" y="468.44" width="77.40" height="1.00" fill="url(#soft)" opacity="0.15"/><rect x="33.0" y="468.44" width="77.40" height="1.00" fill="url(#bi)" opacity="0.32"/><rect x="33.0" y="469.44" width="77.40" height="1.00" fill="url(#soft)" opacity="0.17"/><rect x="33.0" y="470.44" width="77.40" height="1.00" fill="url(#soft)" opacity="0.08"/><rect x="33.0" y="470.44" width="77.40" height="1.00" fill="url(#bi)" opacity="0.29"/><rect x="33.0" y="471.44" width="77.40" height="1.00" fill="url(#soft)" opacity="0.08"/><rect x="33.0" y="471.44" width="77.40" height="1.00" fill="url(#bi)" opacity="0.11"/><rect x="33.0" y="472.44" width="77.40" height="1.00" fill="url(#soft)" opacity="0.21"/><rect x="33.0" y="472.44" width="77.40" height="1.00" fill="url(#bi)" opacity="0.10"/><rect x="33.0" y="473.44" width="77.40" height="1.00" fill="url(#soft)" opacity="0.26"/><rect x="33.0" y="473.44" width="77.40" height="1.00" fill="url(#bi)" opacity="0.17"/><rect x="33.0" y="474.44" width="77.40" height="1.00" fill="url(#soft)" opacity="0.14"/><rect x="33.0" y="475.44" width="77.40" height="1.00" fill="url(#soft)" opacity="0.08"/><rect x="33.0" y="476.44" width="77.40" height="1.00" fill="url(#soft)" opacity="0.29"/><rect x="33.0" y="476.44" width="77.40" height="1.00" fill="url(#bi)" opacity="0.32"/><rect x="33.0" y="477.44" width="77.40" height="1.00" fill="url(#soft)" opacity="0.08"/><rect x="33.0" y="478.44" width="77.40" height="1.00" fill="url(#soft)" opacity="0.16"/><rect x="33.0" y="478.44" width="77.40" height="1.00" fill="url(#bi)" opacity="0.13"/><rect x="33.0" y="479.44" width="77.40" height="1.00" fill="url(#soft)" opacity="0.25"/><rect x="33.0" y="480.44" width="77.40" height="1.00" fill="url(#soft)" opacity="0.29"/><rect x="33.0" y="481.44" width="77.40" height="1.00" fill="url(#soft)" opacity="0.25"/><rect x="33.0" y="481.44" width="77.40" height="1.00" fill="url(#bi)" opacity="0.72"/><rect x="33.0" y="482.44" width="77.40" height="1.00" fill="url(#soft)" opacity="0.19"/><rect x="33.0" y="482.44" width="77.40" height="1.00" fill="url(#bi)" opacity="0.05"/><rect x="33.0" y="483.44" width="77.40" height="1.00" fill="url(#soft)" opacity="0.47"/><rect x="33.0" y="483.44" width="77.40" height="1.00" fill="url(#bi)" opacity="0.09"/><rect x="33.0" y="484.44" width="77.40" height="1.00" fill="url(#soft)" opacity="0.32"/><rect x="33.0" y="484.44" width="77.40" height="1.00" fill="url(#bi)" opacity="0.43"/><rect x="33.0" y="485.44" width="77.40" height="1.00" fill="url(#soft)" opacity="0.60"/><rect x="33.0" y="485.44" width="77.40" height="1.00" fill="url(#bi)" opacity="0.64"/><rect x="33.0" y="486.44" width="77.40" height="1.00" fill="url(#soft)" opacity="0.16"/><rect x="33.0" y="487.44" width="77.40" height="1.00" fill="url(#soft)" opacity="0.20"/><rect x="33.0" y="488.44" width="77.40" height="1.00" fill="url(#soft)" opacity="0.38"/><rect x="33.0" y="488.44" width="77.40" height="1.00" fill="url(#bi)" opacity="0.37"/><rect x="33.0" y="489.44" width="77.40" height="1.00" fill="url(#soft)" opacity="0.27"/><rect x="33.0" y="490.44" width="77.40" height="1.00" fill="url(#soft)" opacity="0.19"/><rect x="33.0" y="490.44" width="77.40" height="1.00" fill="url(#bi)" opacity="0.39"/><rect x="33.0" y="491.44" width="77.40" height="1.00" fill="url(#soft)" opacity="0.41"/><rect x="33.0" y="491.44" width="77.40" height="1.00" fill="url(#bi)" opacity="0.40"/><rect x="33.0" y="492.44" width="77.40" height="1.00" fill="url(#soft)" opacity="0.44"/><rect x="33.0" y="492.44" width="77.40" height="1.00" fill="url(#bi)" opacity="0.55"/><rect x="33.0" y="493.44" width="77.40" height="1.00" fill="url(#soft)" opacity="0.44"/><rect x="33.0" y="493.44" width="77.40" height="1.00" fill="url(#bi)" opacity="0.40"/><rect x="33.0" y="494.44" width="77.40" height="1.00" fill="url(#soft)" opacity="0.09"/><rect x="33.0" y="494.44" width="77.40" height="1.00" fill="url(#bi)" opacity="0.52"/><rect x="33.0" y="495.44" width="77.40" height="1.00" fill="url(#soft)" opacity="0.08"/><rect x="33.0" y="496.44" width="77.40" height="1.00" fill="url(#soft)" opacity="0.08"/><rect x="33.0" y="496.44" width="77.40" height="1.00" fill="url(#bi)" opacity="0.19"/><rect x="33.0" y="497.44" width="77.40" height="1.00" fill="url(#soft)" opacity="0.33"/><rect x="33.0" y="497.44" width="77.40" height="1.00" fill="url(#bi)" opacity="0.68"/><rect x="33.0" y="498.44" width="77.40" height="1.00" fill="url(#soft)" opacity="0.09"/><rect x="33.0" y="499.44" width="77.40" height="1.00" fill="url(#soft)" opacity="0.25"/><rect x="33.0" y="499.44" width="77.40" height="1.00" fill="url(#bi)" opacity="0.40"/><rect x="33.0" y="500.44" width="77.40" height="1.00" fill="url(#soft)" opacity="0.44"/><rect x="33.0" y="500.44" width="77.40" height="1.00" fill="url(#bi)" opacity="0.64"/><rect x="33.0" y="501.44" width="77.40" height="1.00" fill="url(#soft)" opacity="0.08"/><rect x="33.0" y="502.44" width="77.40" height="1.00" fill="url(#soft)" opacity="0.24"/><rect x="33.0" y="502.44" width="77.40" height="1.00" fill="url(#bi)" opacity="0.61"/><rect x="33.0" y="503.44" width="77.40" height="1.00" fill="url(#soft)" opacity="0.18"/><rect x="33.0" y="503.44" width="77.40" height="1.00" fill="url(#bi)" opacity="0.39"/><rect x="33.0" y="504.44" width="77.40" height="1.00" fill="url(#soft)" opacity="0.33"/><rect x="33.0" y="505.44" width="77.40" height="1.00" fill="url(#soft)" opacity="0.35"/><rect x="33.0" y="505.44" width="77.40" height="1.00" fill="url(#bi)" opacity="0.13"/><rect x="33.0" y="506.44" width="77.40" height="1.00" fill="url(#soft)" opacity="0.37"/><rect x="33.0" y="507.44" width="77.40" height="1.00" fill="url(#soft)" opacity="0.25"/><rect x="33.0" y="507.44" width="77.40" height="1.00" fill="url(#bi)" opacity="0.43"/><rect x="33.0" y="508.44" width="77.40" height="1.00" fill="url(#soft)" opacity="0.19"/><rect x="33.0" y="508.44" width="77.40" height="1.00" fill="url(#bi)" opacity="0.10"/><rect x="33.0" y="509.44" width="77.40" height="1.00" fill="url(#soft)" opacity="0.20"/><rect x="33.0" y="509.44" width="77.40" height="1.00" fill="url(#bi)" opacity="0.25"/><rect x="33.0" y="510.44" width="77.40" height="1.00" fill="url(#soft)" opacity="0.41"/><rect x="33.0" y="510.44" width="77.40" height="1.00" fill="url(#bi)" opacity="0.30"/><rect x="33.0" y="511.44" width="77.40" height="1.00" fill="url(#soft)" opacity="0.27"/><rect x="33.0" y="512.44" width="77.40" height="1.00" fill="url(#soft)" opacity="0.29"/><rect x="33.0" y="512.44" width="77.40" height="1.00" fill="url(#bi)" opacity="0.06"/><rect x="33.0" y="513.44" width="77.40" height="0.86" fill="url(#soft)" opacity="0.26"/><rect x="33.0" y="513.44" width="77.40" height="0.86" fill="url(#bi)" opacity="0.08"/><rect x="38.2" y="494.0" width="5.1" height="1" fill="#b89c94" opacity="0.08"/><rect x="77.6" y="505.0" width="26.0" height="1" fill="#c8866e" opacity="0.17"/><rect x="38.0" y="450.0" width="14.4" height="1" fill="#aca4a0" opacity="0.15"/><rect x="50.3" y="459.0" width="25.4" height="1" fill="#b89c94" opacity="0.11"/><rect x="44.0" y="494.0" width="8.8" height="1" fill="#b4a49e" opacity="0.12"/><rect x="68.8" y="455.0" width="13.3" height="1" fill="#b89c94" opacity="0.19"/><rect x="47.7" y="477.0" width="28.0" height="1" fill="#aca4a0" opacity="0.10"/><rect x="48.6" y="506.0" width="23.3" height="1" fill="#b89c94" opacity="0.12"/><rect x="33.8" y="476.0" width="9.1" height="1" fill="#c8866e" opacity="0.12"/><rect x="52.8" y="479.0" width="4.2" height="1" fill="#b89c94" opacity="0.08"/><rect x="82.6" y="467.0" width="15.8" height="1" fill="#c8866e" opacity="0.15"/><rect x="85.6" y="463.0" width="18.2" height="1" fill="#aca4a0" opacity="0.13"/><rect x="51.1" y="492.0" width="13.6" height="1" fill="#c8866e" opacity="0.16"/><rect x="43.9" y="457.0" width="20.8" height="1" fill="#b4a49e" opacity="0.17"/><rect x="81.2" y="492.0" width="5.1" height="1" fill="#b89c94" opacity="0.10"/><rect x="52.6" y="448.0" width="5.0" height="1" fill="#b4a49e" opacity="0.17"/><rect x="69.3" y="476.0" width="26.3" height="1" fill="#b4a49e" opacity="0.09"/><rect x="77.8" y="458.0" width="11.9" height="1" fill="#c8866e" opacity="0.20"/><rect x="65.0" y="455.0" width="16.0" height="1" fill="#aca4a0" opacity="0.14"/><rect x="56.3" y="502.0" width="26.9" height="1" fill="#b4a49e" opacity="0.07"/><rect x="62.3" y="477.0" width="28.3" height="1" fill="#c8866e" opacity="0.11"/><rect x="77.7" y="470.0" width="9.5" height="1" fill="#aca4a0" opacity="0.05"/><rect x="44.1" y="512.0" width="17.2" height="1" fill="#c8866e" opacity="0.21"/><rect x="63.6" y="512.0" width="4.3" height="1" fill="#aca4a0" opacity="0.13"/><rect x="61.5" y="486.0" width="11.8" height="1" fill="#c8866e" opacity="0.17"/><rect x="48.0" y="480.0" width="23.1" height="1" fill="#c8866e" opacity="0.16"/><rect x="34.7" y="475.0" width="20.2" height="1" fill="#b4a49e" opacity="0.16"/><rect x="52.5" y="477.0" width="28.2" height="1" fill="#c8866e" opacity="0.12"/><rect x="70.2" y="449.0" width="7.9" height="1" fill="#b89c94" opacity="0.10"/><rect x="40.0" y="458.0" width="18.4" height="1" fill="#c8866e" opacity="0.17"/><rect x="45.4" y="496.0" width="27.8" height="1" fill="#aca4a0" opacity="0.05"/><rect x="60.5" y="459.0" width="10.2" height="1" fill="#c8866e" opacity="0.07"/><rect x="70.7" y="446.0" width="28.2" height="1" fill="#b89c94" opacity="0.09"/><rect x="96.9" y="480.0" width="9.6" height="1" fill="#c8866e" opacity="0.08"/><rect x="49.6" y="475.0" width="25.2" height="1" fill="#b89c94" opacity="0.06"/><rect x="46.4" y="461.0" width="22.8" height="1" fill="#c8866e" opacity="0.18"/><rect x="44.8" y="449.0" width="17.5" height="1" fill="#b89c94" opacity="0.11"/><rect x="77.1" y="509.0" width="26.6" height="1" fill="#b4a49e" opacity="0.06"/><rect x="101.5" y="484.0" width="7.9" height="1" fill="#b4a49e" opacity="0.07"/><rect x="66.7" y="447.0" width="6.0" height="1" fill="#b89c94" opacity="0.15"/><rect x="93.8" y="467.0" width="4.2" height="1" fill="#b89c94" opacity="0.16"/><rect x="96.9" y="492.0" width="7.4" height="1" fill="#c8866e" opacity="0.10"/><rect x="54.8" y="493.0" width="12.5" height="1" fill="#c8866e" opacity="0.13"/><rect x="81.3" y="510.0" width="8.1" height="1" fill="#c8866e" opacity="0.06"/><rect x="34.8" y="470.0" width="20.8" height="1" fill="#c8866e" opacity="0.17"/><rect x="66.9" y="448.0" width="29.6" height="1" fill="#b89c94" opacity="0.09"/><rect x="53.5" y="485.0" width="20.4" height="1" fill="#b4a49e" opacity="0.16"/><rect x="65.3" y="476.0" width="27.6" height="1" fill="#aca4a0" opacity="0.21"/><rect x="89.6" y="513.0" width="16.1" height="1" fill="#b89c94" opacity="0.16"/><rect x="87.4" y="497.0" width="7.9" height="1" fill="#b89c94" opacity="0.20"/><rect x="75.6" y="503.0" width="25.7" height="1" fill="#b4a49e" opacity="0.19"/><rect x="82.7" y="468.0" width="27.6" height="1" fill="#b89c94" opacity="0.19"/><rect x="35.2" y="448.0" width="4.6" height="1" fill="#aca4a0" opacity="0.16"/><rect x="54.8" y="502.0" width="26.2" height="1" fill="#aca4a0" opacity="0.06"/><rect x="64.3" y="480.0" width="22.3" height="1" fill="#aca4a0" opacity="0.13"/><rect x="64.2" y="483.0" width="24.3" height="1" fill="#b89c94" opacity="0.08"/><rect x="42.0" y="451.0" width="26.2" height="1" fill="#aca4a0" opacity="0.11"/><rect x="41.4" y="465.0" width="23.6" height="1" fill="#aca4a0" opacity="0.14"/><rect x="71.3" y="496.0" width="17.3" height="1" fill="#b89c94" opacity="0.10"/><rect x="44.3" y="469.0" width="24.8" height="1" fill="#c8866e" opacity="0.10"/><rect x="91.5" y="476.0" width="8.4" height="1" fill="#c8866e" opacity="0.13"/><rect x="39.8" y="494.0" width="21.2" height="1" fill="#b89c94" opacity="0.11"/><rect x="90.9" y="455.0" width="7.2" height="1" fill="#b89c94" opacity="0.05"/><rect x="54.4" y="468.0" width="5.5" height="1" fill="#b4a49e" opacity="0.11"/><rect x="35.0" y="482.0" width="27.2" height="1" fill="#b4a49e" opacity="0.08"/><rect x="77.4" y="495.0" width="11.4" height="1" fill="#c8866e" opacity="0.10"/><rect x="36.9" y="449.0" width="12.6" height="1" fill="#b89c94" opacity="0.20"/><rect x="59.3" y="503.0" width="10.7" height="1" fill="#aca4a0" opacity="0.10"/><rect x="39.0" y="502.0" width="28.3" height="1" fill="#b89c94" opacity="0.09"/><rect x="71.2" y="478.0" width="24.1" height="1" fill="#b89c94" opacity="0.16"/><rect x="67.5" y="509.0" width="14.4" height="1" fill="#c8866e" opacity="0.20"/><rect x="73.7" y="478.0" width="24.7" height="1" fill="#b4a49e" opacity="0.10"/><rect x="69.3" y="508.0" width="12.0" height="1" fill="#b4a49e" opacity="0.09"/><rect x="98.7" y="450.0" width="10.8" height="1" fill="#b89c94" opacity="0.09"/><rect x="62.8" y="497.0" width="24.7" height="1" fill="#c8866e" opacity="0.16"/><rect x="97.3" y="465.0" width="7.6" height="1" fill="#b89c94" opacity="0.18"/><rect x="69.7" y="463.0" width="27.0" height="1" fill="#aca4a0" opacity="0.20"/><rect x="55.5" y="471.0" width="22.0" height="1" fill="#b4a49e" opacity="0.15"/><rect x="39.3" y="476.0" width="14.6" height="1" fill="#b4a49e" opacity="0.19"/><rect x="67.5" y="458.0" width="24.1" height="1" fill="#c8866e" opacity="0.09"/><rect x="66.5" y="482.0" width="9.6" height="1" fill="#b4a49e" opacity="0.18"/><rect x="33.1" y="501.0" width="13.8" height="1" fill="#c8866e" opacity="0.09"/><rect x="92.0" y="478.0" width="7.8" height="1" fill="#aca4a0" opacity="0.16"/><rect x="42.8" y="507.0" width="8.1" height="1" fill="#aca4a0" opacity="0.17"/><rect x="49.2" y="463.0" width="7.0" height="1" fill="#aca4a0" opacity="0.19"/><rect x="45.7" y="499.0" width="10.1" height="1" fill="#b89c94" opacity="0.09"/><rect x="56.6" y="455.0" width="30.3" height="1" fill="#cc6644" opacity="0.15"/><rect x="50.5" y="502.0" width="44.8" height="1" fill="#cc6644" opacity="0.15"/><rect x="55.4" y="488.0" width="15.1" height="1" fill="#cc6644" opacity="0.11"/><rect x="50.7" y="483.0" width="17.7" height="1" fill="#cc6644" opacity="0.17"/><rect x="63.9" y="466.0" width="36.2" height="1" fill="#cc6644" opacity="0.11"/><rect x="70.4" y="506.0" width="10.3" height="1" fill="#cc6644" opacity="0.13"/><rect x="36.7" y="468.0" width="37.6" height="1" fill="#cc6644" opacity="0.11"/><rect x="72.9" y="498.0" width="12.6" height="1" fill="#cc6644" opacity="0.12"/><rect x="43.0" y="474.0" width="40.4" height="1" fill="#cc6644" opacity="0.10"/><rect x="67.1" y="470.0" width="40.9" height="1" fill="#cc6644" opacity="0.12"/><rect x="62.2" y="475.0" width="20.4" height="1" fill="#cc6644" opacity="0.13"/><rect x="60.4" y="483.0" width="17.7" height="1" fill="#cc6644" opacity="0.17"/><rect x="44.2" y="461.0" width="36.6" height="1" fill="#cc6644" opacity="0.11"/><rect x="52.8" y="488.0" width="30.0" height="1" fill="#cc6644" opacity="0.12"/><rect x="51.0" y="496.0" width="17.6" height="1" fill="#cc6644" opacity="0.16"/><rect x="45.3" y="446.0" width="39.8" height="1" fill="#cc6644" opacity="0.11"/><rect x="55.6" y="461.0" width="20.0" height="1" fill="#cc6644" opacity="0.09"/><rect x="51.5" y="449.0" width="43.0" height="1" fill="#cc6644" opacity="0.09"/><rect x="64.8" y="484.0" width="26.1" height="1" fill="#cc6644" opacity="0.12"/><rect x="45.1" y="472.0" width="43.4" height="1" fill="#cc6644" opacity="0.16"/><rect x="44.2" y="447.0" width="29.9" height="1" fill="#cc6644" opacity="0.16"/><rect x="60.3" y="450.0" width="21.9" height="1" fill="#cc6644" opacity="0.08"/><rect x="62.2" y="459.0" width="36.7" height="1" fill="#cc6644" opacity="0.19"/><rect x="63.9" y="486.0" width="19.1" height="1" fill="#cc6644" opacity="0.20"/><rect x="76.0" y="447.0" width="14.4" height="1" fill="#cc6644" opacity="0.19"/><rect x="65.7" y="466.0" width="15.5" height="1" fill="#cc6644" opacity="0.13"/><rect x="45.5" y="467.0" width="35.6" height="1" fill="#cc6644" opacity="0.18"/><rect x="48.4" y="459.0" width="16.6" height="1" fill="#cc6644" opacity="0.18"/><rect x="45.6" y="473.0" width="40.9" height="1" fill="#cc6644" opacity="0.09"/><rect x="55.8" y="493.0" width="38.5" height="1" fill="#cc6644" opacity="0.13"/><rect x="63.8" y="452.0" width="7.4" height="1" fill="#c05838" opacity="0.19"/><rect x="69.6" y="503.0" width="7.8" height="1" fill="#c05838" opacity="0.15"/><rect x="68.2" y="450.0" width="9.2" height="1" fill="#c05838" opacity="0.31"/><rect x="70.5" y="502.0" width="9.2" height="1" fill="#c05838" opacity="0.25"/><rect x="63.2" y="469.0" width="4.7" height="1" fill="#c05838" opacity="0.24"/><rect x="68.8" y="455.0" width="9.1" height="1" fill="#c05838" opacity="0.30"/><rect x="69.4" y="465.0" width="4.9" height="1" fill="#c05838" opacity="0.34"/><rect x="61.7" y="457.0" width="5.4" height="1" fill="#c05838" opacity="0.18"/><rect x="71.0" y="472.0" width="4.1" height="1" fill="#c05838" opacity="0.15"/><rect x="66.7" y="480.0" width="4.6" height="1" fill="#c05838" opacity="0.30"/><rect x="71.4" y="493.0" width="4.3" height="1" fill="#c05838" opacity="0.16"/><rect x="68.3" y="491.0" width="9.3" height="1" fill="#c05838" opacity="0.23"/><rect x="68.3" y="453.0" width="5.6" height="1" fill="#c05838" opacity="0.20"/><rect x="66.5" y="460.0" width="8.2" height="1" fill="#c05838" opacity="0.22"/><rect x="67.1" y="455.0" width="8.2" height="1" fill="#c05838" opacity="0.17"/><rect x="66.9" y="475.0" width="7.9" height="1" fill="#c05838" opacity="0.21"/><rect x="58.6" y="454.0" width="9.9" height="1" fill="#c05838" opacity="0.17"/><rect x="69.5" y="468.0" width="9.1" height="1" fill="#c05838" opacity="0.32"/><rect x="69.3" y="500.0" width="3.4" height="1" fill="#c05838" opacity="0.24"/><rect x="69.1" y="498.0" width="4.1" height="1" fill="#c05838" opacity="0.18"/><rect x="70.0" y="445.0" width="6.1" height="1" fill="#c05838" opacity="0.26"/><rect x="62.3" y="447.0" width="9.5" height="1" fill="#c05838" opacity="0.20"/></g></g><rect x="31" y="100.8" width="82" height="1.2" fill="#bab2ac"/><rect x="31" y="169.4" width="82" height="1.2" fill="#bab2ac"/><rect x="31" y="238.7" width="82" height="1.2" fill="#bab2ac"/><rect x="31" y="307.8" width="82" height="1.2" fill="#bab2ac"/><rect x="31" y="376.4" width="82" height="1.2" fill="#bab2ac"/><rect x="31" y="445.8" width="82" height="1.2" fill="#bab2ac"/><rect x="30.35" y="30.5" width="83.25" height="485.3" fill="none" stroke="#111" stroke-width="2.8"/><line x1="30.35" y1="515" x2="30.35" y2="522.5" stroke="#111" stroke-width="2.6"/><line x1="70.4" y1="515" x2="70.4" y2="522.5" stroke="#111" stroke-width="2.6"/><line x1="113.6" y1="515" x2="113.6" y2="522.5" stroke="#111" stroke-width="2.6"/><text x="24.8" y="531.2" font-family='"Liberation Serif", serif' font-size="10.4" font-weight="bold" text-anchor="middle" fill="#111" >-1kb</text><text x="67.2" y="531.2" font-family='"Liberation Serif", serif' font-size="10.4" font-weight="bold" text-anchor="middle" fill="#111" >Peak</text><text x="107" y="531.2" font-family='"Liberation Serif", serif' font-size="10.4" font-weight="bold" text-anchor="middle" fill="#111" >+1kb</text><text x="0.3" y="64.7" font-family='"Liberation Serif", serif' font-size="10.6" font-weight="bold" text-anchor="start" fill="#111" letter-spacing="-0.4">1TF</text><text x="0.3" y="133.7" font-family='"Liberation Serif", serif' font-size="10.6" font-weight="bold" text-anchor="start" fill="#111" letter-spacing="-0.4">2TF</text><text x="0.3" y="202.7" font-family='"Liberation Serif", serif' font-size="10.6" font-weight="bold" text-anchor="start" fill="#111" letter-spacing="-0.4">3TF</text><text x="0.3" y="271.7" font-family='"Liberation Serif", serif' font-size="10.6" font-weight="bold" text-anchor="start" fill="#111" letter-spacing="-0.4">4TF</text><text x="0.3" y="340.7" font-family='"Liberation Serif", serif' font-size="10.6" font-weight="bold" text-anchor="start" fill="#111" letter-spacing="-0.4">5TF</text><text x="0.3" y="409.7" font-family='"Liberation Serif", serif' font-size="10.6" font-weight="bold" text-anchor="start" fill="#111" letter-spacing="-0.4">6TF</text><text x="0.3" y="478.7" font-family='"Liberation Serif", serif' font-size="10.6" font-weight="bold" text-anchor="start" fill="#111" letter-spacing="-0.4">7TF</text><text x="133.2" y="12" font-family='"Liberation Sans", sans-serif' font-size="15" font-weight="bold" text-anchor="start" fill="#111" >B</text><text x="291.5" y="22.3" font-family='"Liberation Serif", serif' font-size="14.6" font-weight="bold" text-anchor="middle" fill="#111" >H3K27Ac</text><path d="M174.6,41.10 L174.6,196.8 L408.10,196.8" fill="none" stroke="#111" stroke-width="1.7"/><line x1="170.0" y1="196.80" x2="174.6" y2="196.80" stroke="#111" stroke-width="1.6"/><text x="168.2" y="200.4" font-family='"Liberation Sans", sans-serif' font-size="10.3" font-weight="bold" text-anchor="end" fill="#111" >0</text><line x1="170.0" y1="165.66" x2="174.6" y2="165.66" stroke="#111" stroke-width="1.6"/><text x="168.2" y="169.26000000000002" font-family='"Liberation Sans", sans-serif' font-size="10.3" font-weight="bold" text-anchor="end" fill="#111" >20</text><line x1="170.0" y1="134.52" x2="174.6" y2="134.52" stroke="#111" stroke-width="1.6"/><text x="168.2" y="138.12" font-family='"Liberation Sans", sans-serif' font-size="10.3" font-weight="bold" text-anchor="end" fill="#111" >40</text><line x1="170.0" y1="103.38" x2="174.6" y2="103.38" stroke="#111" stroke-width="1.6"/><text x="168.2" y="106.98" font-family='"Liberation Sans", sans-serif' font-size="10.3" font-weight="bold" text-anchor="end" fill="#111" >60</text><line x1="170.0" y1="72.24" x2="174.6" y2="72.24" stroke="#111" stroke-width="1.6"/><text x="168.2" y="75.84" font-family='"Liberation Sans", sans-serif' font-size="10.3" font-weight="bold" text-anchor="end" fill="#111" >80</text><line x1="170.0" y1="41.10" x2="174.6" y2="41.10" stroke="#111" stroke-width="1.6"/><text x="168.2" y="44.700000000000024" font-family='"Liberation Sans", sans-serif' font-size="10.3" font-weight="bold" text-anchor="end" fill="#111" >100</text><line x1="174.60" y1="196.8" x2="174.60" y2="201.60000000000002" stroke="#111" stroke-width="1.6"/><text x="174.60" y="213.3" font-family='"Liberation Sans", sans-serif' font-size="10.3" font-weight="bold" text-anchor="middle" fill="#111" >0</text><line x1="179.79" y1="196.8" x2="179.79" y2="199.9" stroke="#111" stroke-width="1.4"/><line x1="184.98" y1="196.8" x2="184.98" y2="199.9" stroke="#111" stroke-width="1.4"/><line x1="190.17" y1="196.8" x2="190.17" y2="199.9" stroke="#111" stroke-width="1.4"/><line x1="195.36" y1="196.8" x2="195.36" y2="199.9" stroke="#111" stroke-width="1.4"/><line x1="200.54" y1="196.8" x2="200.54" y2="199.9" stroke="#111" stroke-width="1.4"/><line x1="205.73" y1="196.8" x2="205.73" y2="199.9" stroke="#111" stroke-width="1.4"/><line x1="210.92" y1="196.8" x2="210.92" y2="199.9" stroke="#111" stroke-width="1.4"/><line x1="216.11" y1="196.8" x2="216.11" y2="199.9" stroke="#111" stroke-width="1.4"/><line x1="221.30" y1="196.8" x2="221.30" y2="201.60000000000002" stroke="#111" stroke-width="1.6"/><text x="221.30" y="213.3" font-family='"Liberation Sans", sans-serif' font-size="10.3" font-weight="bold" text-anchor="middle" fill="#111" >2</text><line x1="226.49" y1="196.8" x2="226.49" y2="199.9" stroke="#111" stroke-width="1.4"/><line x1="231.68" y1="196.8" x2="231.68" y2="199.9" stroke="#111" stroke-width="1.4"/><line x1="236.87" y1="196.8" x2="236.87" y2="199.9" stroke="#111" stroke-width="1.4"/><line x1="242.06" y1="196.8" x2="242.06" y2="199.9" stroke="#111" stroke-width="1.4"/><line x1="247.24" y1="196.8" x2="247.24" y2="199.9" stroke="#111" stroke-width="1.4"/><line x1="252.43" y1="196.8" x2="252.43" y2="199.9" stroke="#111" stroke-width="1.4"/><line x1="257.62" y1="196.8" x2="257.62" y2="199.9" stroke="#111" stroke-width="1.4"/><line x1="262.81" y1="196.8" x2="262.81" y2="199.9" stroke="#111" stroke-width="1.4"/><line x1="268.00" y1="196.8" x2="268.00" y2="201.60000000000002" stroke="#111" stroke-width="1.6"/><text x="268.00" y="213.3" font-family='"Liberation Sans", sans-serif' font-size="10.3" font-weight="bold" text-anchor="middle" fill="#111" >4</text><line x1="273.19" y1="196.8" x2="273.19" y2="199.9" stroke="#111" stroke-width="1.4"/><line x1="278.38" y1="196.8" x2="278.38" y2="199.9" stroke="#111" stroke-width="1.4"/><line x1="283.57" y1="196.8" x2="283.57" y2="199.9" stroke="#111" stroke-width="1.4"/><line x1="288.76" y1="196.8" x2="288.76" y2="199.9" stroke="#111" stroke-width="1.4"/><line x1="293.94" y1="196.8" x2="293.94" y2="199.9" stroke="#111" stroke-width="1.4"/><line x1="299.13" y1="196.8" x2="299.13" y2="199.9" stroke="#111" stroke-width="1.4"/><line x1="304.32" y1="196.8" x2="304.32" y2="199.9" stroke="#111" stroke-width="1.4"/><line x1="309.51" y1="196.8" x2="309.51" y2="199.9" stroke="#111" stroke-width="1.4"/><line x1="314.70" y1="196.8" x2="314.70" y2="201.60000000000002" stroke="#111" stroke-width="1.6"/><text x="314.70" y="213.3" font-family='"Liberation Sans", sans-serif' font-size="10.3" font-weight="bold" text-anchor="middle" fill="#111" >6</text><line x1="319.89" y1="196.8" x2="319.89" y2="199.9" stroke="#111" stroke-width="1.4"/><line x1="325.08" y1="196.8" x2="325.08" y2="199.9" stroke="#111" stroke-width="1.4"/><line x1="330.27" y1="196.8" x2="330.27" y2="199.9" stroke="#111" stroke-width="1.4"/><line x1="335.46" y1="196.8" x2="335.46" y2="199.9" stroke="#111" stroke-width="1.4"/><line x1="340.64" y1="196.8" x2="340.64" y2="199.9" stroke="#111" stroke-width="1.4"/><line x1="345.83" y1="196.8" x2="345.83" y2="199.9" stroke="#111" stroke-width="1.4"/><line x1="351.02" y1="196.8" x2="351.02" y2="199.9" stroke="#111" stroke-width="1.4"/><line x1="356.21" y1="196.8" x2="356.21" y2="199.9" stroke="#111" stroke-width="1.4"/><line x1="361.40" y1="196.8" x2="361.40" y2="201.60000000000002" stroke="#111" stroke-width="1.6"/><text x="361.40" y="213.3" font-family='"Liberation Sans", sans-serif' font-size="10.3" font-weight="bold" text-anchor="middle" fill="#111" >8</text><line x1="366.59" y1="196.8" x2="366.59" y2="199.9" stroke="#111" stroke-width="1.4"/><line x1="371.78" y1="196.8" x2="371.78" y2="199.9" stroke="#111" stroke-width="1.4"/><line x1="376.97" y1="196.8" x2="376.97" y2="199.9" stroke="#111" stroke-width="1.4"/><line x1="382.16" y1="196.8" x2="382.16" y2="199.9" stroke="#111" stroke-width="1.4"/><line x1="387.34" y1="196.8" x2="387.34" y2="199.9" stroke="#111" stroke-width="1.4"/><line x1="392.53" y1="196.8" x2="392.53" y2="199.9" stroke="#111" stroke-width="1.4"/><line x1="397.72" y1="196.8" x2="397.72" y2="199.9" stroke="#111" stroke-width="1.4"/><line x1="402.91" y1="196.8" x2="402.91" y2="199.9" stroke="#111" stroke-width="1.4"/><line x1="408.10" y1="196.8" x2="408.10" y2="201.60000000000002" stroke="#111" stroke-width="1.6"/><text x="408.10" y="213.3" font-family='"Liberation Sans", sans-serif' font-size="10.3" font-weight="bold" text-anchor="middle" fill="#111" >10</text><text x="289.4" y="231.3" font-family='"Liberation Serif", serif' font-size="13.1" font-weight="bold" text-anchor="middle" fill="#111" >log2 (tags within 1kb around peak maxima)</text><text x="0" y="0" font-family='"Liberation Serif", serif' font-size="13.2" font-weight="bold" text-anchor="middle" fill="#111" transform="translate(142.6,119.4) rotate(-90)">cumulative distribution</text><line x1="175.4" y1="119" x2="409" y2="119" stroke="#111" stroke-width="1.6" stroke-dasharray="2.6 2.1"/><path d="M174.60,183.40 L197.95,173.63 L211.61,163.29 L221.30,151.65 L228.82,142.54 L234.96,134.08 L240.15,126.42 L244.65,119.24 L248.62,114.18 L252.17,110.06 L255.38,106.46 L258.31,103.27 L261.01,100.32 L263.50,97.50 L265.83,94.82 L268.00,92.41 L270.04,90.36 L271.97,88.64 L273.79,87.13 L275.52,85.78 L277.16,84.52 L278.73,83.32 L280.23,82.14 L281.66,80.97 L283.03,79.78 L284.36,78.59 L285.63,77.44 L286.85,76.35 L288.03,75.33 L289.18,74.42 L290.28,73.60 L291.35,72.87 L292.39,72.19 L293.39,71.56 L294.37,70.98 L295.32,70.42 L296.24,69.89 L297.14,69.37 L298.01,68.87 L298.87,68.38 L299.70,67.89 L300.51,67.41 L301.30,66.92 L302.08,66.44 L302.83,65.95 L303.58,65.47 L304.30,64.99 L305.01,64.53 L305.70,64.06 L306.38,63.61 L307.05,63.17 L307.71,62.73 L308.35,62.31 L308.98,61.89 L309.59,61.49 L310.20,61.10 L311.38,60.35 L312.53,59.64 L313.63,58.99 L314.70,58.37 L315.74,57.77 L316.74,57.21 L317.72,56.67 L318.67,56.15 L319.59,55.65 L320.49,55.17 L321.36,54.71 L322.22,54.25 L323.05,53.82 L323.86,53.39 L324.65,52.97 L325.43,52.56 L326.18,52.15 L326.93,51.75 L327.65,51.35 L328.36,50.96 L329.05,50.58 L329.73,50.21 L330.40,49.85 L331.06,49.51 L331.70,49.18 L332.33,48.86 L332.94,48.56 L333.55,48.27 L334.44,47.87 L335.31,47.51 L336.16,47.18 L336.98,46.88 L337.79,46.58 L338.57,46.30 L339.34,46.04 L340.09,45.78 L340.83,45.54 L341.55,45.31 L342.25,45.10 L342.94,44.90 L343.62,44.71 L344.28,44.53 L344.93,44.37 L345.57,44.22 L346.19,44.08 L346.81,43.96 L347.41,43.85 L348.20,43.72 L348.97,43.60 L349.72,43.49 L350.46,43.39 L351.18,43.29 L351.88,43.20 L352.57,43.12 L353.25,43.04 L353.92,42.97 L354.57,42.90 L355.21,42.83 L355.83,42.77 L356.45,42.71 L357.05,42.65 L357.79,42.58 L358.52,42.51 L359.23,42.45 L359.92,42.38 L360.60,42.32 L361.27,42.26 L361.92,42.19 L362.56,42.13 L363.19,42.07 L363.81,42.01 L364.42,41.96 L365.13,41.89 L365.83,41.83 L366.52,41.77 L367.19,41.71 L367.85,41.66 L368.49,41.61 L369.13,41.56 L369.75,41.52 L370.36,41.48 L371.06,41.45 L371.74,41.41 L372.41,41.38 L373.07,41.35 L373.72,41.33 L374.35,41.30 L374.97,41.28 L375.58,41.25 L376.27,41.23 L376.94,41.21 L377.59,41.19 L378.24,41.17 L378.87,41.15 L379.49,41.14 L380.10,41.12 L380.77,41.11 L381.43,41.10 L382.00,41.10" fill="none" stroke="#111111" stroke-width="1.6" stroke-linejoin="round"/><path d="M174.60,188.50 L197.95,181.51 L211.61,175.46 L221.30,168.61 L228.82,162.20 L234.96,156.06 L240.15,148.30 L244.65,142.78 L248.62,138.10 L252.17,133.92 L255.38,130.03 L258.31,126.18 L261.01,122.56 L263.50,119.39 L265.83,116.64 L268.00,114.16 L270.04,111.87 L271.97,109.75 L273.79,107.79 L275.52,105.97 L277.16,104.31 L278.73,102.77 L280.23,101.27 L281.66,99.73 L283.03,98.15 L284.36,96.53 L285.63,94.93 L286.85,93.37 L288.03,91.88 L289.18,90.48 L290.28,89.17 L291.35,87.95 L292.39,86.77 L293.39,85.65 L294.37,84.57 L295.32,83.53 L296.24,82.53 L297.14,81.55 L298.01,80.60 L298.87,79.68 L299.70,78.77 L300.51,77.89 L301.30,77.02 L302.08,76.16 L302.83,75.30 L303.58,74.44 L304.30,73.60 L305.01,72.77 L305.70,71.95 L306.38,71.15 L307.05,70.37 L307.71,69.62 L308.35,68.88 L308.98,68.18 L309.59,67.49 L310.20,66.84 L311.38,65.62 L312.53,64.52 L313.63,63.54 L314.70,62.63 L315.74,61.79 L316.74,61.00 L317.72,60.26 L318.67,59.56 L319.59,58.90 L320.49,58.27 L321.36,57.67 L322.22,57.09 L323.05,56.53 L323.86,55.99 L324.65,55.46 L325.43,54.95 L326.18,54.45 L326.93,53.96 L327.65,53.48 L328.36,53.02 L329.05,52.57 L329.73,52.13 L330.40,51.72 L331.06,51.31 L331.70,50.93 L332.33,50.56 L332.94,50.21 L333.55,49.87 L334.44,49.40 L335.31,48.97 L336.16,48.57 L336.98,48.21 L337.79,47.86 L338.57,47.53 L339.34,47.21 L340.09,46.92 L340.83,46.63 L341.55,46.36 L342.25,46.11 L342.94,45.86 L343.62,45.63 L344.28,45.41 L344.93,45.21 L345.57,45.01 L346.19,44.82 L346.81,44.65 L347.41,44.48 L348.20,44.27 L348.97,44.07 L349.72,43.88 L350.46,43.69 L351.18,43.52 L351.88,43.36 L352.57,43.20 L353.25,43.06 L353.92,42.92 L354.57,42.79 L355.21,42.67 L355.83,42.55 L356.45,42.44 L357.05,42.35 L357.79,42.23 L358.52,42.13 L359.23,42.03 L359.92,41.93 L360.60,41.84 L361.27,41.76 L361.92,41.68 L362.56,41.61 L363.19,41.54 L363.81,41.48 L364.42,41.42 L365.13,41.36 L365.83,41.31 L366.00,41.30" fill="none" stroke="#808080" stroke-width="1.6" stroke-linejoin="round"/><path d="M174.60,189.60 L197.95,183.78 L211.61,178.45 L221.30,173.21 L228.82,167.99 L234.96,161.98 L240.15,156.34 L244.65,151.71 L248.62,147.52 L252.17,143.74 L255.38,140.03 L258.31,136.06 L261.01,132.19 L263.50,128.74 L265.83,125.55 L268.00,122.63 L270.04,119.97 L271.97,117.54 L273.79,115.35 L275.52,113.33 L277.16,111.41 L278.73,109.50 L280.23,107.66 L281.66,105.94 L283.03,104.39 L284.36,103.06 L285.63,101.90 L286.85,100.84 L288.03,99.82 L289.18,98.80 L290.28,97.76 L291.35,96.75 L292.39,95.75 L293.39,94.73 L294.37,93.68 L295.32,92.56 L296.24,91.36 L297.14,90.10 L298.01,88.84 L298.87,87.60 L299.70,86.40 L300.51,85.28 L301.30,84.24 L302.08,83.30 L302.83,82.39 L303.58,81.52 L304.30,80.68 L305.01,79.88 L305.70,79.10 L306.38,78.35 L307.05,77.62 L307.71,76.91 L308.35,76.23 L308.98,75.57 L309.59,74.93 L310.20,74.30 L311.38,73.10 L312.53,71.97 L313.63,70.88 L314.70,69.84 L315.74,68.85 L316.74,67.91 L317.72,67.00 L318.67,66.14 L319.59,65.31 L320.49,64.52 L321.36,63.76 L322.22,63.04 L323.05,62.35 L323.86,61.69 L324.65,61.06 L325.43,60.45 L326.18,59.87 L326.93,59.32 L327.65,58.78 L328.36,58.26 L329.05,57.77 L329.73,57.28 L330.40,56.82 L331.06,56.36 L331.70,55.92 L332.33,55.50 L332.94,55.08 L333.55,54.67 L334.44,54.08 L335.31,53.52 L336.16,52.96 L336.98,52.42 L337.79,51.88 L338.57,51.35 L339.34,50.83 L340.09,50.32 L340.83,49.82 L341.55,49.35 L342.25,48.90 L342.94,48.46 L343.62,48.05 L344.28,47.66 L344.93,47.30 L345.57,46.97 L346.19,46.66 L346.81,46.37 L347.41,46.12 L348.20,45.81 L348.97,45.52 L349.72,45.24 L350.46,44.97 L351.18,44.72 L351.88,44.48 L352.57,44.25 L353.25,44.04 L353.92,43.84 L354.57,43.65 L355.21,43.48 L355.83,43.32 L356.45,43.17 L357.05,43.03 L357.79,42.87 L358.52,42.73 L359.23,42.61 L359.92,42.51 L360.60,42.42 L361.27,42.33 L361.92,42.24 L362.56,42.16 L363.19,42.08 L363.81,42.00 L364.42,41.93 L365.13,41.85 L365.83,41.77 L366.52,41.70 L367.19,41.63 L367.85,41.56 L368.49,41.51 L369.13,41.45 L369.75,41.40 L370.36,41.36 L371.06,41.32 L371.74,41.28 L372.41,41.25 L373.07,41.23 L373.72,41.21 L374.35,41.20 L374.97,41.20 L375.00,41.20" fill="none" stroke="#40407c" stroke-width="1.6" stroke-linejoin="round"/><path d="M174.60,190.10 L197.95,184.44 L211.61,180.38 L221.30,176.50 L228.82,171.14 L234.96,165.65 L240.15,159.33 L244.65,154.68 L248.62,150.49 L252.17,146.49 L255.38,142.53 L258.31,138.36 L261.01,134.25 L263.50,130.43 L265.83,126.81 L268.00,123.50 L270.04,120.49 L271.97,117.75 L273.79,115.28 L275.52,113.00 L277.16,110.78 L278.73,108.58 L280.23,106.45 L281.66,104.42 L283.03,102.49 L284.36,100.65 L285.63,98.87 L286.85,97.13 L288.03,95.36 L289.18,93.65 L290.28,92.13 L291.35,90.73 L292.39,89.42 L293.39,88.18 L294.37,87.00 L295.32,85.88 L296.24,84.81 L297.14,83.79 L298.01,82.81 L298.87,81.86 L299.70,80.95 L300.51,80.07 L301.30,79.21 L302.08,78.38 L302.83,77.58 L303.58,76.80 L304.30,76.04 L305.01,75.31 L305.70,74.60 L306.38,73.91 L307.05,73.25 L307.71,72.60 L308.35,71.97 L308.98,71.35 L309.59,70.76 L310.20,70.18 L311.38,69.07 L312.53,68.02 L313.63,67.02 L314.70,66.07 L315.74,65.16 L316.74,64.29 L317.72,63.45 L318.67,62.65 L319.59,61.89 L320.49,61.16 L321.36,60.46 L322.22,59.79 L323.05,59.15 L323.86,58.54 L324.65,57.96 L325.43,57.40 L326.18,56.86 L326.93,56.33 L327.65,55.82 L328.36,55.33 L329.05,54.86 L329.73,54.40 L330.40,53.96 L331.06,53.53 L331.70,53.12 L332.33,52.72 L332.94,52.34 L333.55,51.97 L334.44,51.44 L335.31,50.94 L336.16,50.47 L336.98,50.02 L337.79,49.57 L338.57,49.14 L339.34,48.73 L340.09,48.33 L340.83,47.95 L341.55,47.58 L342.25,47.23 L342.94,46.90 L343.62,46.58 L344.28,46.29 L344.93,46.01 L345.57,45.75 L346.19,45.51 L346.81,45.29 L347.41,45.09 L348.20,44.85 L348.97,44.61 L349.72,44.39 L350.46,44.17 L351.18,43.97 L351.88,43.77 L352.57,43.59 L353.25,43.42 L353.92,43.25 L354.57,43.10 L355.21,42.96 L355.83,42.83 L356.45,42.71 L357.05,42.60 L357.79,42.48 L358.52,42.37 L359.23,42.28 L359.92,42.21 L360.60,42.14 L361.27,42.08 L361.92,42.03 L362.56,41.97 L363.19,41.92 L363.81,41.86 L364.42,41.82 L365.13,41.76 L365.83,41.71 L366.52,41.66 L367.19,41.61 L367.85,41.56 L368.49,41.52 L369.13,41.48 L369.75,41.45 L370.36,41.41 L371.06,41.38 L371.74,41.35 L372.41,41.32 L373.07,41.29 L373.72,41.27 L374.35,41.25 L374.97,41.24 L375.58,41.22 L376.27,41.21 L376.94,41.20 L377.59,41.20 L378.00,41.20" fill="none" stroke="#6a6ab0" stroke-width="1.6" stroke-linejoin="round"/><path d="M174.60,190.60 L197.95,185.67 L211.61,182.39 L221.30,179.09 L228.82,175.27 L234.96,170.35 L240.15,165.26 L244.65,161.22 L248.62,156.12 L252.17,148.77 L255.38,144.29 L258.31,140.10 L261.01,135.15 L263.50,130.65 L265.83,127.16 L268.00,123.39 L270.04,120.36 L271.97,117.45 L273.79,114.95 L275.52,112.39 L277.16,109.78 L278.73,106.69 L280.23,103.74 L281.66,101.11 L283.03,98.90 L284.36,96.79 L285.63,94.90 L286.85,93.51 L288.03,91.84 L289.18,89.90 L290.28,88.41 L291.35,87.20 L292.39,86.24 L293.39,85.13 L294.37,83.68 L295.32,82.92 L296.24,81.65 L297.14,80.95 L298.01,80.09 L298.87,79.37 L299.70,78.12 L300.51,77.52 L301.30,76.70 L302.08,75.87 L302.83,74.56 L303.58,73.95 L304.30,73.37 L305.01,72.26 L305.70,71.66 L306.38,70.74 L307.05,70.09 L307.71,69.20 L308.35,68.25 L308.98,67.59 L309.59,66.93 L310.20,66.36 L311.38,65.35 L312.53,64.24 L313.63,63.40 L314.70,62.57 L315.74,61.34 L316.74,60.54 L317.72,60.20 L318.67,59.22 L319.59,58.60 L320.49,58.04 L321.36,57.53 L322.22,57.18 L323.05,56.22 L323.86,55.81 L324.65,55.31 L325.43,55.09 L326.18,54.11 L326.93,53.67 L327.65,53.57 L328.36,52.90 L329.05,52.24 L329.73,52.00 L330.40,51.78 L331.06,51.07 L331.70,50.94 L332.33,50.40 L332.94,50.34 L333.55,49.98 L334.44,49.32 L335.31,49.10 L336.16,48.58 L336.98,48.34 L337.79,47.62 L338.57,47.57 L339.34,47.25 L340.09,46.66 L340.83,46.34 L341.55,46.38 L342.25,45.74 L342.94,45.62 L343.62,45.73 L344.28,45.25 L344.93,44.83 L345.57,45.07 L346.19,44.76 L346.81,44.67 L347.41,44.42 L348.20,44.04 L348.97,43.93 L349.72,43.64 L350.46,43.75 L351.18,43.53 L351.88,43.39 L352.57,43.26 L353.25,43.00 L353.92,42.84 L354.57,42.89 L355.21,42.72 L355.83,42.69 L356.45,42.33 L357.05,42.56 L357.79,42.29 L358.52,42.29 L359.23,42.17 L359.92,41.90 L360.60,42.22 L361.27,42.06 L361.92,41.97 L362.56,42.12 L363.19,42.09 L363.81,41.71 L364.42,41.62 L365.13,41.68 L365.83,41.46 L366.52,41.56 L367.19,41.56 L367.85,41.32 L368.49,41.28 L369.13,41.72 L369.75,41.28 L370.36,41.57 L371.06,41.27 L371.74,41.33 L372.41,41.24 L373.07,41.33 L373.72,41.22 L374.35,41.52 L374.97,41.34 L375.58,41.34 L376.27,41.36 L376.94,41.05 L377.59,41.48 L378.24,41.43 L378.87,41.00 L379.49,41.33 L380.10,41.46 L380.77,41.35 L381.43,41.38 L382.08,41.07 L382.72,41.14 L383.34,41.20 L383.95,41.22 L384.55,41.30 L385.21,41.02 L385.85,41.01 L386.48,40.95 L387.10,41.35 L387.71,40.98 L388.37,41.13 L389.01,41.35 L389.64,40.91 L390.26,41.09 L390.87,41.26 L391.52,40.88 L392.16,41.07 L392.79,41.23 L393.41,41.13 L394.01,40.95 L394.65,40.89 L395.29,41.23 L395.91,40.90 L396.51,41.03 L397.16,41.19 L397.79,41.28 L398.41,40.99 L398.50,40.88" fill="none" stroke="#5a88b8" stroke-width="1.6" stroke-linejoin="round"/><path d="M174.60,191.80 L197.95,188.15 L211.61,185.35 L221.30,182.91 L228.82,180.28 L234.96,177.30 L240.15,173.41 L244.65,169.13 L248.62,164.42 L252.17,160.01 L255.38,156.31 L258.31,152.05 L261.01,146.18 L263.50,140.75 L265.83,136.36 L268.00,132.56 L270.04,128.57 L271.97,124.58 L273.79,121.29 L275.52,117.88 L277.16,114.21 L278.73,111.54 L280.23,108.63 L281.66,105.69 L283.03,102.86 L284.36,100.09 L285.63,97.34 L286.85,95.39 L288.03,92.76 L289.18,90.62 L290.28,89.23 L291.35,87.93 L292.39,86.16 L293.39,85.21 L294.37,84.05 L295.32,83.09 L296.24,82.25 L297.14,80.96 L298.01,80.01 L298.87,79.23 L299.70,78.57 L300.51,77.71 L301.30,76.66 L302.08,76.15 L302.83,74.98 L303.58,74.09 L304.30,73.46 L305.01,72.28 L305.70,71.67 L306.38,71.12 L307.05,70.36 L307.71,69.34 L308.35,68.57 L308.98,68.06 L309.59,67.32 L310.20,66.92 L311.38,65.49 L312.53,64.58 L313.63,63.83 L314.70,62.45 L315.74,61.79 L316.74,61.16 L317.72,60.38 L318.67,59.70 L319.59,58.73 L320.49,58.22 L321.36,57.78 L322.22,57.18 L323.05,56.26 L323.86,55.73 L324.65,55.37 L325.43,55.16 L326.18,54.50 L326.93,54.09 L327.65,53.48 L328.36,52.91 L329.05,52.61 L329.73,52.06 L330.40,51.59 L331.06,51.36 L331.70,51.10 L332.33,50.74 L332.94,49.94 L333.55,49.98 L334.44,49.56 L335.31,49.16 L336.16,48.61 L336.98,48.25 L337.79,47.57 L338.57,47.21 L339.34,46.99 L340.09,46.82 L340.83,46.44 L341.55,46.38 L342.25,45.88 L342.94,46.08 L343.62,45.27 L344.28,45.11 L344.93,45.28 L345.57,44.77 L346.19,45.00 L346.81,44.28 L347.41,44.66 L348.20,44.39 L348.97,43.81 L349.72,44.01 L350.46,43.69 L351.18,43.36 L351.88,43.22 L352.57,42.79 L353.25,42.99 L353.92,42.61 L354.57,42.71 L355.21,42.81 L355.83,42.16 L356.45,42.15 L357.05,42.07 L357.79,42.25 L358.52,42.13 L359.23,41.82 L359.92,42.10 L360.60,41.47 L361.27,41.80 L361.92,41.56 L362.56,41.64 L363.19,41.61 L363.81,41.63 L364.42,41.45 L365.13,41.32 L365.83,41.45 L366.00,41.09" fill="none" stroke="#e08a3c" stroke-width="1.6" stroke-linejoin="round"/><path d="M174.60,193.30 L197.95,190.04 L211.61,186.71 L221.30,183.90 L228.82,182.04 L234.96,180.02 L240.15,175.62 L244.65,171.94 L248.62,167.61 L252.17,161.75 L255.38,159.61 L258.31,158.36 L261.01,154.33 L263.50,148.01 L265.83,144.12 L268.00,141.50 L270.04,138.19 L271.97,136.43 L273.79,135.72 L275.52,133.88 L277.16,132.56 L278.73,130.06 L280.23,126.64 L281.66,124.42 L283.03,122.36 L284.36,119.70 L285.63,118.78 L286.85,117.44 L288.03,115.46 L289.18,113.37 L290.28,111.45 L291.35,110.19 L292.39,108.61 L293.39,107.34 L294.37,105.96 L295.32,105.15 L296.24,103.68 L297.14,101.67 L298.01,100.30 L298.87,98.39 L299.70,97.00 L300.51,95.23 L301.30,93.84 L302.08,91.93 L302.83,90.54 L303.58,89.56 L304.30,88.31 L305.01,88.20 L305.70,87.10 L306.38,87.34 L307.05,86.56 L307.71,85.58 L308.35,83.80 L308.98,81.66 L309.59,80.21 L310.20,78.66 L311.38,77.43 L312.53,75.82 L313.63,74.45 L314.70,72.92 L315.74,71.83 L316.74,71.62 L317.72,70.26 L318.67,69.08 L319.59,68.65 L320.49,67.96 L321.36,67.14 L322.22,66.41 L323.05,65.84 L323.86,65.48 L324.65,64.47 L325.43,63.89 L326.18,62.88 L326.93,62.21 L327.65,61.21 L328.36,59.90 L329.05,59.29 L329.73,58.45 L330.40,57.46 L331.06,56.91 L331.70,56.64 L332.33,56.13 L332.94,55.27 L333.55,54.42 L334.44,54.52 L335.31,53.29 L336.16,52.69 L336.98,52.69 L337.79,51.94 L338.57,51.20 L339.34,51.38 L340.09,50.76 L340.83,50.29 L341.55,49.37 L342.25,49.60 L342.94,48.73 L343.62,47.95 L344.28,47.93 L344.93,47.66 L345.57,46.90 L346.19,47.19 L346.81,46.76 L347.41,45.57 L348.20,46.04 L348.97,45.14 L349.72,45.03 L350.46,44.46 L351.18,44.98 L351.88,44.12 L352.57,44.64 L353.25,44.33 L353.92,44.04 L354.57,43.97 L355.21,43.62 L355.83,43.90 L356.45,43.29 L357.05,43.77 L357.79,43.57 L358.52,43.45 L359.23,42.76 L359.92,42.47 L360.60,42.70 L361.27,42.14 L361.92,42.31 L362.56,42.21 L363.19,42.36 L363.81,41.99 L364.42,42.24 L365.13,41.68 L365.83,41.34 L366.52,41.16 L367.19,41.90 L367.70,41.62" fill="none" stroke="#cc2026" stroke-width="1.6" stroke-linejoin="round"/><line x1="423.8" y1="51.5" x2="441" y2="51.5" stroke="#111111" stroke-width="2"/><text x="450.2" y="55.7" font-family='"Liberation Serif", serif' font-size="12.4" font-weight="normal" text-anchor="start" fill="#222" letter-spacing="0.45">1TF (17393)</text><line x1="423.8" y1="69.4" x2="441" y2="69.4" stroke="#7c7c7c" stroke-width="2"/><text x="450.2" y="73.60000000000001" font-family='"Liberation Serif", serif' font-size="12.4" font-weight="normal" text-anchor="start" fill="#222" letter-spacing="0.45">2TF (6070)</text><line x1="423.8" y1="87.3" x2="441" y2="87.3" stroke="#3a3a64" stroke-width="2"/><text x="450.2" y="91.5" font-family='"Liberation Serif", serif' font-size="12.4" font-weight="normal" text-anchor="start" fill="#222" letter-spacing="0.45">3TF (2721)</text><line x1="423.8" y1="105.2" x2="441" y2="105.2" stroke="#5c5c86" stroke-width="2"/><text x="450.2" y="109.39999999999999" font-family='"Liberation Serif", serif' font-size="12.4" font-weight="normal" text-anchor="start" fill="#222" letter-spacing="0.45">4TF (1256)</text><line x1="423.8" y1="123.1" x2="441" y2="123.1" stroke="#586a80" stroke-width="2"/><text x="450.2" y="127.3" font-family='"Liberation Serif", serif' font-size="12.4" font-weight="normal" text-anchor="start" fill="#222" letter-spacing="0.45">5TF (645)</text><line x1="423.8" y1="141.0" x2="441" y2="141.0" stroke="#b07a50" stroke-width="2"/><text x="450.2" y="145.2" font-family='"Liberation Serif", serif' font-size="12.4" font-weight="normal" text-anchor="start" fill="#222" letter-spacing="0.45">6TF (375)</text><line x1="423.8" y1="158.9" x2="441" y2="158.9" stroke="#b8243c" stroke-width="2"/><text x="450.2" y="163.09999999999997" font-family='"Liberation Serif", serif' font-size="12.4" font-weight="normal" text-anchor="start" fill="#222" letter-spacing="0.45">7TF (337)</text><text x="134" y="304.4" font-family='"Liberation Sans", sans-serif' font-size="15" font-weight="bold" text-anchor="start" fill="#111" >C</text><text x="295.6" y="316" font-family='"Liberation Serif", serif' font-size="14.6" font-weight="bold" text-anchor="middle" fill="#111" >H3K27Ac</text><path d="M177.0,340.32 L177.0,495.6 L410.00,495.6" fill="none" stroke="#111" stroke-width="1.7"/><line x1="172.4" y1="495.60" x2="177.0" y2="495.60" stroke="#111" stroke-width="1.6"/><text x="171.2" y="499.20000000000005" font-family='"Liberation Sans", sans-serif' font-size="10.3" font-weight="bold" text-anchor="end" fill="#111" >0</text><line x1="172.4" y1="456.78" x2="177.0" y2="456.78" stroke="#111" stroke-width="1.6"/><text x="171.2" y="460.38000000000005" font-family='"Liberation Sans", sans-serif' font-size="10.3" font-weight="bold" text-anchor="end" fill="#111" >2</text><line x1="172.4" y1="417.96" x2="177.0" y2="417.96" stroke="#111" stroke-width="1.6"/><text x="171.2" y="421.56000000000006" font-family='"Liberation Sans", sans-serif' font-size="10.3" font-weight="bold" text-anchor="end" fill="#111" >4</text><line x1="172.4" y1="379.14" x2="177.0" y2="379.14" stroke="#111" stroke-width="1.6"/><text x="171.2" y="382.74" font-family='"Liberation Sans", sans-serif' font-size="10.3" font-weight="bold" text-anchor="end" fill="#111" >6</text><line x1="172.4" y1="340.32" x2="177.0" y2="340.32" stroke="#111" stroke-width="1.6"/><text x="171.2" y="343.9200000000001" font-family='"Liberation Sans", sans-serif' font-size="10.3" font-weight="bold" text-anchor="end" fill="#111" >8</text><line x1="177.00" y1="495.6" x2="177.00" y2="500.3" stroke="#111" stroke-width="1.6"/><text x="177.00" y="512.4" font-family='"Liberation Sans", sans-serif' font-size="10.6" font-weight="bold" text-anchor="middle" fill="#111" >-1.5kb</text><line x1="215.83" y1="495.6" x2="215.83" y2="500.3" stroke="#111" stroke-width="1.6"/><text x="215.83" y="512.4" font-family='"Liberation Sans", sans-serif' font-size="10.6" font-weight="bold" text-anchor="middle" fill="#111" >-1kb</text><line x1="293.50" y1="495.6" x2="293.50" y2="500.3" stroke="#111" stroke-width="1.6"/><text x="293.50" y="512.4" font-family='"Liberation Sans", sans-serif' font-size="10.6" font-weight="bold" text-anchor="middle" fill="#111" >0</text><line x1="371.17" y1="495.6" x2="371.17" y2="500.3" stroke="#111" stroke-width="1.6"/><text x="371.17" y="512.4" font-family='"Liberation Sans", sans-serif' font-size="10.6" font-weight="bold" text-anchor="middle" fill="#111" >1kb</text><line x1="410.00" y1="495.6" x2="410.00" y2="500.3" stroke="#111" stroke-width="1.6"/><text x="410.00" y="512.4" font-family='"Liberation Sans", sans-serif' font-size="10.6" font-weight="bold" text-anchor="middle" fill="#111" >1.5kb</text><text x="292.5" y="528.9" font-family='"Liberation Serif", serif' font-size="12.8" font-weight="bold" text-anchor="middle" fill="#111" >distance from peak maxima</text><text x="0" y="0" font-family='"Liberation Serif", serif' font-size="13" font-weight="bold" text-anchor="middle" fill="#111" transform="translate(158.3,418) rotate(-90)">tag count</text><line x1="267" y1="340" x2="267" y2="495.6" stroke="#c8202c" stroke-width="1.5" stroke-dasharray="2.1 2.0"/><line x1="272.7" y1="340" x2="272.7" y2="495.6" stroke="#6a6ab0" stroke-width="1.5" stroke-dasharray="2.1 2.0"/><line x1="276.5" y1="340" x2="276.5" y2="495.6" stroke="#111" stroke-width="1.5" stroke-dasharray="2.1 2.0"/><line x1="310.9" y1="340" x2="310.9" y2="495.6" stroke="#111" stroke-width="1.5" stroke-dasharray="2.1 2.0"/><line x1="315.2" y1="340" x2="315.2" y2="495.6" stroke="#6a6ab0" stroke-width="1.5" stroke-dasharray="2.1 2.0"/><line x1="320.4" y1="340" x2="320.4" y2="495.6" stroke="#c8202c" stroke-width="1.5" stroke-dasharray="2.1 2.0"/><path d="M177.30,476.74 L178.00,476.59 L178.70,476.57 L179.40,476.51 L180.10,476.34 L180.80,476.24 L181.50,476.03 L182.20,476.01 L182.90,475.99 L183.60,475.86 L184.30,475.72 L185.00,475.48 L185.70,475.53 L186.40,475.40 L187.10,475.15 L187.80,475.13 L188.50,474.89 L189.20,474.80 L189.90,474.72 L190.60,474.58 L191.30,474.58 L192.00,474.48 L192.70,474.27 L193.40,474.15 L194.10,473.99 L194.80,473.87 L195.50,473.88 L196.20,473.74 L196.90,473.51 L197.60,473.48 L198.30,473.35 L199.00,473.33 L199.70,473.19 L200.40,473.06 L201.10,472.94 L201.80,472.92 L202.50,472.82 L203.20,472.58 L203.90,472.45 L204.60,472.45 L205.30,472.19 L206.00,472.14 L206.70,471.96 L207.40,471.89 L208.10,471.71 L208.80,471.62 L209.50,471.58 L210.20,471.46 L210.90,471.28 L211.60,471.07 L212.30,470.91 L213.00,470.67 L213.70,470.44 L214.40,470.28 L215.10,470.13 L215.80,469.77 L216.50,469.53 L217.20,469.44 L217.90,469.10 L218.60,468.93 L219.30,468.68 L220.00,468.47 L220.70,468.10 L221.40,467.83 L222.10,467.66 L222.80,467.39 L223.50,467.10 L224.20,466.87 L224.90,466.58 L225.60,466.38 L226.30,466.00 L227.00,465.82 L227.70,465.59 L228.40,465.20 L229.10,464.99 L229.80,464.66 L230.50,464.40 L231.20,464.04 L231.90,463.75 L232.60,463.60 L233.30,463.25 L234.00,462.98 L234.70,462.69 L235.40,462.31 L236.10,461.98 L236.80,461.61 L237.50,461.40 L238.20,461.07 L238.90,460.69 L239.60,460.35 L240.30,459.92 L241.00,459.53 L241.70,459.02 L242.40,458.72 L243.10,458.21 L243.80,457.80 L244.50,457.33 L245.20,456.94 L245.90,456.51 L246.60,456.05 L247.30,455.55 L248.00,455.08 L248.70,454.75 L249.40,454.20 L250.10,453.78 L250.80,453.27 L251.50,452.87 L252.20,452.38 L252.90,451.97 L253.60,451.57 L254.30,451.12 L255.00,450.53 L255.70,449.89 L256.40,449.38 L257.10,448.75 L257.80,448.15 L258.50,447.42 L259.20,446.82 L259.90,446.04 L260.60,445.32 L261.30,444.68 L262.00,444.08 L262.70,443.36 L263.40,442.59 L264.10,441.86 L264.80,441.14 L265.50,440.35 L266.20,439.63 L266.90,438.98 L267.60,438.26 L268.30,437.56 L269.00,436.77 L269.70,436.25 L270.40,435.65 L271.10,435.15 L271.80,434.41 L272.50,433.92 L273.20,433.19 L273.90,432.68 L274.60,432.32 L275.30,431.88 L276.00,431.69 L276.70,431.51 L277.40,431.49 L278.10,431.74 L278.80,431.94 L279.50,432.26 L280.20,432.57 L280.90,432.99 L281.60,433.59 L282.30,434.05 L283.00,434.50 L283.70,434.80 L284.40,435.14 L285.10,435.71 L285.80,436.27 L286.50,436.82 L287.20,437.29 L287.90,437.92 L288.60,438.60 L289.30,439.04 L290.00,439.71 L290.70,440.20 L291.40,440.43 L292.10,440.68 L292.80,441.05 L293.50,441.05 L294.20,440.91 L294.90,440.72 L295.60,440.53 L296.30,440.05 L297.00,439.55 L297.70,439.18 L298.40,438.60 L299.10,438.14 L299.80,437.65 L300.50,437.00 L301.20,436.47 L301.90,435.97 L302.60,435.67 L303.30,434.99 L304.00,434.60 L304.70,433.95 L305.40,433.39 L306.10,432.79 L306.80,432.11 L307.50,431.62 L308.20,431.36 L308.90,430.91 L309.60,430.81 L310.30,430.64 L311.00,430.71 L311.70,430.92 L312.40,431.02 L313.10,431.38 L313.80,431.70 L314.50,431.94 L315.20,432.31 L315.90,432.65 L316.60,433.14 L317.30,433.49 L318.00,434.01 L318.70,434.50 L319.40,435.04 L320.10,435.69 L320.80,436.38 L321.50,437.19 L322.20,437.89 L322.90,438.75 L323.60,439.45 L324.30,440.19 L325.00,440.95 L325.70,441.77 L326.40,442.32 L327.10,443.07 L327.80,443.72 L328.50,444.28 L329.20,444.81 L329.90,445.52 L330.60,446.07 L331.30,446.78 L332.00,447.23 L332.70,447.83 L333.40,448.46 L334.10,449.05 L334.80,449.57 L335.50,450.19 L336.20,450.84 L336.90,451.38 L337.60,451.89 L338.30,452.54 L339.00,453.13 L339.70,453.71 L340.40,454.20 L341.10,454.82 L341.80,455.52 L342.50,456.06 L343.20,456.62 L343.90,457.11 L344.60,457.57 L345.30,458.18 L346.00,458.55 L346.70,459.09 L347.40,459.58 L348.10,460.03 L348.80,460.48 L349.50,460.98 L350.20,461.51 L350.90,461.91 L351.60,462.38 L352.30,462.82 L353.00,463.25 L353.70,463.77 L354.40,464.11 L355.10,464.38 L355.80,464.88 L356.50,465.17 L357.20,465.53 L357.90,465.76 L358.60,465.99 L359.30,466.34 L360.00,466.45 L360.70,466.70 L361.40,466.96 L362.10,467.25 L362.80,467.30 L363.50,467.54 L364.20,467.77 L364.90,467.99 L365.60,468.06 L366.30,468.38 L367.00,468.52 L367.70,468.70 L368.40,468.87 L369.10,469.05 L369.80,469.36 L370.50,469.57 L371.20,469.60 L371.90,469.80 L372.60,470.08 L373.30,470.29 L374.00,470.48 L374.70,470.56 L375.40,470.73 L376.10,470.88 L376.80,471.11 L377.50,471.32 L378.20,471.56 L378.90,471.55 L379.60,471.73 L380.30,472.00 L381.00,472.16 L381.70,472.20 L382.40,472.35 L383.10,472.49 L383.80,472.76 L384.50,472.84 L385.20,472.98 L385.90,473.20 L386.60,473.24 L387.30,473.46 L388.00,473.51 L388.70,473.64 L389.40,473.89 L390.10,474.05 L390.80,474.11 L391.50,474.22 L392.20,474.40 L392.90,474.40 L393.60,474.56 L394.30,474.80 L395.00,474.92 L395.70,474.85 L396.40,474.95 L397.10,475.22 L397.80,475.26 L398.50,475.43 L399.20,475.51 L399.90,475.58 L400.60,475.73 L401.30,475.81 L402.00,475.79 L402.70,475.98 L403.40,476.16 L404.10,476.23 L404.80,476.29 L405.50,476.38 L406.20,476.50 L406.90,476.48 L407.60,476.59 L408.30,476.71 L409.00,476.83 L409.30,476.76" fill="none" stroke="#111" stroke-width="1.7" stroke-linejoin="round"/><path d="M177.30,468.65 L178.00,468.95 L178.70,469.24 L179.40,469.00 L180.10,468.76 L180.80,468.90 L181.50,469.03 L182.20,468.77 L182.90,468.51 L183.60,468.97 L184.30,469.42 L185.00,469.41 L185.70,469.40 L186.40,468.97 L187.10,468.50 L187.80,468.89 L188.50,469.23 L189.20,468.66 L189.90,468.06 L190.60,467.92 L191.30,467.76 L192.00,467.66 L192.70,467.55 L193.40,467.44 L194.10,467.33 L194.80,467.00 L195.50,466.68 L196.20,465.99 L196.90,465.31 L197.60,465.33 L198.30,465.36 L199.00,465.13 L199.70,464.90 L200.40,464.62 L201.10,464.33 L201.80,464.22 L202.50,464.10 L203.20,463.53 L203.90,462.96 L204.60,463.00 L205.30,463.04 L206.00,462.40 L206.70,461.77 L207.40,461.57 L208.10,461.37 L208.80,461.11 L209.50,460.85 L210.20,460.70 L210.90,460.56 L211.60,460.51 L212.30,460.47 L213.00,460.16 L213.70,459.86 L214.40,459.84 L215.10,459.84 L215.80,459.41 L216.50,458.99 L217.20,459.06 L217.90,459.14 L218.60,458.98 L219.30,458.82 L220.00,458.49 L220.70,458.16 L221.40,458.01 L222.10,457.85 L222.80,458.00 L223.50,458.15 L224.20,457.77 L224.90,457.39 L225.60,457.32 L226.30,457.24 L227.00,456.88 L227.70,456.47 L228.40,456.14 L229.10,455.76 L229.80,455.10 L230.50,454.40 L231.20,453.90 L231.90,453.36 L232.60,452.74 L233.30,452.10 L234.00,451.75 L234.70,451.38 L235.40,450.29 L236.10,449.17 L236.80,448.79 L237.50,448.34 L238.20,447.16 L238.90,445.92 L239.60,444.91 L240.30,443.84 L241.00,442.76 L241.70,441.63 L242.40,440.41 L243.10,439.16 L243.80,437.99 L244.50,436.80 L245.20,435.33 L245.90,433.79 L246.60,432.43 L247.30,431.01 L248.00,429.84 L248.70,428.63 L249.40,427.01 L250.10,425.36 L250.80,423.44 L251.50,421.50 L252.20,419.99 L252.90,418.48 L253.60,416.80 L254.30,415.13 L255.00,413.44 L255.70,411.71 L256.40,410.22 L257.10,408.67 L257.80,406.80 L258.50,404.93 L259.20,402.95 L259.90,401.02 L260.60,399.61 L261.30,398.30 L262.00,396.98 L262.70,395.80 L263.40,394.31 L264.10,392.81 L264.80,391.72 L265.50,390.63 L266.20,389.68 L266.90,388.77 L267.60,387.67 L268.30,386.66 L269.00,385.83 L269.70,385.13 L270.40,384.54 L271.10,384.11 L271.80,384.11 L272.50,384.31 L273.20,384.33 L273.90,384.52 L274.60,384.99 L275.30,385.61 L276.00,386.26 L276.70,387.02 L277.40,387.97 L278.10,388.99 L278.80,390.26 L279.50,391.57 L280.20,392.41 L280.90,393.79 L281.60,396.49 L282.30,399.65 L283.00,402.29 L283.70,405.08 L284.40,408.56 L285.10,411.87 L285.80,414.32 L286.50,416.29 L287.20,418.27 L287.90,420.08 L288.60,421.54 L289.30,422.96 L290.00,424.44 L290.70,425.84 L291.40,427.06 L292.10,428.14 L292.80,428.78 L293.50,429.23 L294.20,429.84 L294.90,430.23 L295.60,430.37 L296.30,430.27 L297.00,429.67 L297.70,428.87 L298.40,427.91 L299.10,426.79 L299.80,425.70 L300.50,424.51 L301.20,423.23 L301.90,421.90 L302.60,420.89 L303.30,419.82 L304.00,417.63 L304.70,414.97 L305.40,412.56 L306.10,410.00 L306.80,407.17 L307.50,404.52 L308.20,402.19 L308.90,400.38 L309.60,398.72 L310.30,397.08 L311.00,396.27 L311.70,395.56 L312.40,394.54 L313.10,393.69 L313.80,392.58 L314.50,391.72 L315.20,391.93 L315.90,392.30 L316.60,392.31 L317.30,392.38 L318.00,392.76 L318.70,393.18 L319.40,393.55 L320.10,393.95 L320.80,394.36 L321.50,394.79 L322.20,395.08 L322.90,395.46 L323.60,395.95 L324.30,396.53 L325.00,397.68 L325.70,398.91 L326.40,399.88 L327.10,400.92 L327.80,401.59 L328.50,402.30 L329.20,403.41 L329.90,404.55 L330.60,405.84 L331.30,407.28 L332.00,408.79 L332.70,410.39 L333.40,412.28 L334.10,414.21 L334.80,415.56 L335.50,416.94 L336.20,418.88 L336.90,420.92 L337.60,423.02 L338.30,425.14 L339.00,427.06 L339.70,428.93 L340.40,430.68 L341.10,432.30 L341.80,434.06 L342.50,435.70 L343.20,436.74 L343.90,437.73 L344.60,439.02 L345.30,440.25 L346.00,441.51 L346.70,442.70 L347.40,443.91 L348.10,445.07 L348.80,445.70 L349.50,446.29 L350.20,447.05 L350.90,447.77 L351.60,448.95 L352.30,450.10 L353.00,450.41 L353.70,450.68 L354.40,451.58 L355.10,452.44 L355.80,452.89 L356.50,453.31 L357.20,454.03 L357.90,454.73 L358.60,455.26 L359.30,455.78 L360.00,455.97 L360.70,456.15 L361.40,456.76 L362.10,457.35 L362.80,457.77 L363.50,458.18 L364.20,458.51 L364.90,458.83 L365.60,459.12 L366.30,459.40 L367.00,459.76 L367.70,460.10 L368.40,460.72 L369.10,461.33 L369.80,461.38 L370.50,461.42 L371.20,461.82 L371.90,462.21 L372.60,462.81 L373.30,463.40 L374.00,463.61 L374.70,463.80 L375.40,464.06 L376.10,464.32 L376.80,464.17 L377.50,464.02 L378.20,464.31 L378.90,464.60 L379.60,464.76 L380.30,464.93 L381.00,465.24 L381.70,465.56 L382.40,465.76 L383.10,465.96 L383.80,466.06 L384.50,466.16 L385.20,466.49 L385.90,466.82 L386.60,466.92 L387.30,467.03 L388.00,467.20 L388.70,467.36 L389.40,467.26 L390.10,467.17 L390.80,467.63 L391.50,468.09 L392.20,468.22 L392.90,468.34 L393.60,468.36 L394.30,468.37 L395.00,468.60 L395.70,468.83 L396.40,469.32 L397.10,469.82 L397.80,469.68 L398.50,469.53 L399.20,469.69 L399.90,469.85 L400.60,470.13 L401.30,470.40 L402.00,470.53 L402.70,470.63 L403.40,470.43 L404.10,470.22 L404.80,470.58 L405.50,470.95 L406.20,471.12 L406.90,471.30 L407.60,471.45 L408.30,471.59 L409.00,471.51 L409.30,471.40" fill="none" stroke="#6a6ab4" stroke-width="1.7" stroke-linejoin="round"/><path d="M177.30,464.94 L178.00,464.45 L178.70,463.95 L179.40,464.33 L180.10,464.69 L180.80,464.69 L181.50,464.68 L182.20,464.55 L182.90,464.40 L183.60,463.83 L184.30,463.25 L185.00,463.20 L185.70,463.15 L186.40,463.09 L187.10,463.04 L187.80,462.73 L188.50,462.43 L189.20,462.28 L189.90,462.10 L190.60,461.29 L191.30,460.45 L192.00,460.36 L192.70,460.24 L193.40,459.71 L194.10,459.16 L194.80,459.44 L195.50,459.70 L196.20,458.93 L196.90,458.15 L197.60,458.00 L198.30,457.85 L199.00,457.11 L199.70,456.38 L200.40,456.06 L201.10,455.74 L201.80,455.09 L202.50,454.45 L203.20,454.35 L203.90,454.25 L204.60,454.33 L205.30,454.41 L206.00,453.44 L206.70,452.45 L207.40,452.14 L208.10,451.82 L208.80,451.89 L209.50,451.96 L210.20,450.84 L210.90,449.72 L211.60,449.34 L212.30,448.95 L213.00,448.99 L213.70,449.03 L214.40,448.81 L215.10,448.59 L215.80,447.49 L216.50,446.38 L217.20,446.56 L217.90,446.74 L218.60,446.39 L219.30,446.06 L220.00,445.10 L220.70,444.14 L221.40,444.25 L222.10,444.35 L222.80,443.87 L223.50,443.38 L224.20,442.97 L224.90,442.55 L225.60,442.51 L226.30,442.44 L227.00,441.20 L227.70,439.94 L228.40,439.59 L229.10,439.21 L229.80,438.90 L230.50,438.46 L231.20,437.25 L231.90,435.96 L232.60,434.91 L233.30,433.83 L234.00,433.13 L234.70,432.46 L235.40,431.70 L236.10,431.01 L236.80,429.65 L237.50,428.32 L238.20,427.73 L238.90,427.15 L239.60,426.25 L240.30,425.35 L241.00,424.71 L241.70,424.05 L242.40,423.45 L243.10,422.82 L243.80,422.10 L244.50,421.34 L245.20,419.84 L245.90,418.36 L246.60,417.95 L247.30,417.51 L248.00,416.41 L248.70,415.24 L249.40,413.74 L250.10,412.11 L250.80,410.61 L251.50,408.91 L252.20,406.76 L252.90,403.62 L253.60,399.81 L254.30,396.05 L255.00,393.56 L255.70,391.60 L256.40,388.94 L257.10,386.39 L257.80,383.80 L258.50,381.32 L259.20,379.57 L259.90,377.92 L260.60,376.09 L261.30,374.35 L262.00,372.14 L262.70,369.86 L263.40,368.59 L264.10,367.38 L264.80,365.34 L265.50,363.49 L266.20,362.04 L266.90,360.90 L267.60,360.39 L268.30,360.33 L269.00,360.92 L269.70,361.93 L270.40,363.22 L271.10,364.80 L271.80,366.65 L272.50,368.66 L273.20,370.47 L273.90,372.32 L274.60,374.24 L275.30,376.84 L276.00,379.98 L276.70,383.55 L277.40,388.38 L278.10,393.40 L278.80,397.38 L279.50,401.30 L280.20,405.34 L280.90,409.05 L281.60,413.18 L282.30,417.39 L283.00,420.50 L283.70,423.50 L284.40,426.98 L285.10,430.17 L285.80,433.17 L286.50,435.84 L287.20,438.16 L287.90,440.32 L288.60,442.53 L289.30,444.32 L290.00,444.83 L290.70,444.99 L291.40,445.23 L292.10,445.38 L292.80,446.19 L293.50,446.88 L294.20,446.46 L294.90,445.79 L295.60,445.30 L296.30,444.62 L297.00,444.01 L297.70,443.31 L298.40,442.17 L299.10,440.48 L299.80,438.87 L300.50,436.88 L301.20,433.45 L301.90,429.86 L302.60,427.05 L303.30,423.41 L304.00,418.57 L304.70,413.57 L305.40,408.44 L306.10,403.81 L306.80,399.75 L307.50,395.58 L308.20,392.15 L308.90,388.84 L309.60,384.47 L310.30,380.47 L311.00,377.48 L311.70,375.10 L312.40,373.56 L313.10,372.13 L313.80,370.93 L314.50,369.84 L315.20,368.50 L315.90,367.34 L316.60,366.60 L317.30,366.10 L318.00,365.98 L318.70,366.19 L319.40,366.08 L320.10,366.38 L320.80,367.52 L321.50,368.93 L322.20,371.06 L322.90,373.30 L323.60,374.61 L324.30,375.88 L325.00,377.93 L325.70,379.98 L326.40,381.37 L327.10,382.87 L327.80,384.92 L328.50,387.04 L329.20,389.03 L329.90,391.04 L330.60,393.68 L331.30,396.28 L332.00,397.93 L332.70,399.61 L333.40,401.71 L334.10,403.78 L334.80,405.91 L335.50,407.99 L336.20,410.05 L336.90,412.13 L337.60,413.95 L338.30,415.74 L339.00,417.83 L339.70,419.85 L340.40,421.91 L341.10,423.83 L341.80,425.34 L342.50,426.77 L343.20,427.69 L343.90,428.57 L344.60,430.13 L345.30,431.62 L346.00,432.94 L346.70,434.13 L347.40,434.64 L348.10,434.98 L348.80,435.31 L349.50,435.56 L350.20,435.59 L350.90,435.59 L351.60,436.49 L352.30,437.36 L353.00,437.55 L353.70,437.74 L354.40,437.35 L355.10,436.98 L355.80,437.28 L356.50,437.62 L357.20,438.46 L357.90,439.35 L358.60,439.53 L359.30,439.76 L360.00,440.07 L360.70,440.41 L361.40,440.79 L362.10,441.18 L362.80,441.72 L363.50,442.25 L364.20,443.20 L364.90,444.14 L365.60,444.82 L366.30,445.49 L367.00,446.20 L367.70,446.92 L368.40,447.29 L369.10,447.66 L369.80,447.89 L370.50,448.12 L371.20,448.96 L371.90,449.80 L372.60,449.78 L373.30,449.76 L374.00,450.73 L374.70,451.69 L375.40,452.30 L376.10,452.91 L376.80,452.92 L377.50,452.95 L378.20,453.81 L378.90,454.67 L379.60,455.05 L380.30,455.43 L381.00,456.07 L381.70,456.69 L382.40,457.15 L383.10,457.57 L383.80,458.05 L384.50,458.49 L385.20,458.69 L385.90,458.88 L386.60,459.63 L387.30,460.37 L388.00,460.13 L388.70,459.88 L389.40,460.55 L390.10,461.22 L390.80,461.13 L391.50,461.04 L392.20,461.52 L392.90,462.00 L393.60,462.03 L394.30,462.07 L395.00,462.37 L395.70,462.68 L396.40,463.03 L397.10,463.38 L397.80,463.30 L398.50,463.21 L399.20,463.41 L399.90,463.58 L400.60,464.29 L401.30,464.97 L402.00,464.67 L402.70,464.33 L403.40,464.13 L404.10,463.91 L404.80,464.35 L405.50,464.76 L406.20,464.73 L406.90,464.67 L407.60,464.43 L408.30,464.16 L409.00,463.84 L409.30,463.64" fill="none" stroke="#c8202c" stroke-width="1.7" stroke-linejoin="round"/><line x1="425.4" y1="351.2" x2="443" y2="351.2" stroke="#111111" stroke-width="2"/><text x="450.6" y="355.4" font-family='"Liberation Serif", serif' font-size="12.4" font-weight="normal" text-anchor="start" fill="#222" letter-spacing="0.45">1TF (17393)</text><line x1="425.4" y1="369.1" x2="443" y2="369.1" stroke="#5e5e9c" stroke-width="2"/><text x="450.6" y="373.29999999999995" font-family='"Liberation Serif", serif' font-size="12.4" font-weight="normal" text-anchor="start" fill="#222" letter-spacing="0.45">4TF (1256)</text><line x1="425.4" y1="387.0" x2="443" y2="387.0" stroke="#b8243c" stroke-width="2"/><text x="450.6" y="391.2" font-family='"Liberation Serif", serif' font-size="12.4" font-weight="normal" text-anchor="start" fill="#222" letter-spacing="0.45">7TF (337)</text></svg>
</body></html>
